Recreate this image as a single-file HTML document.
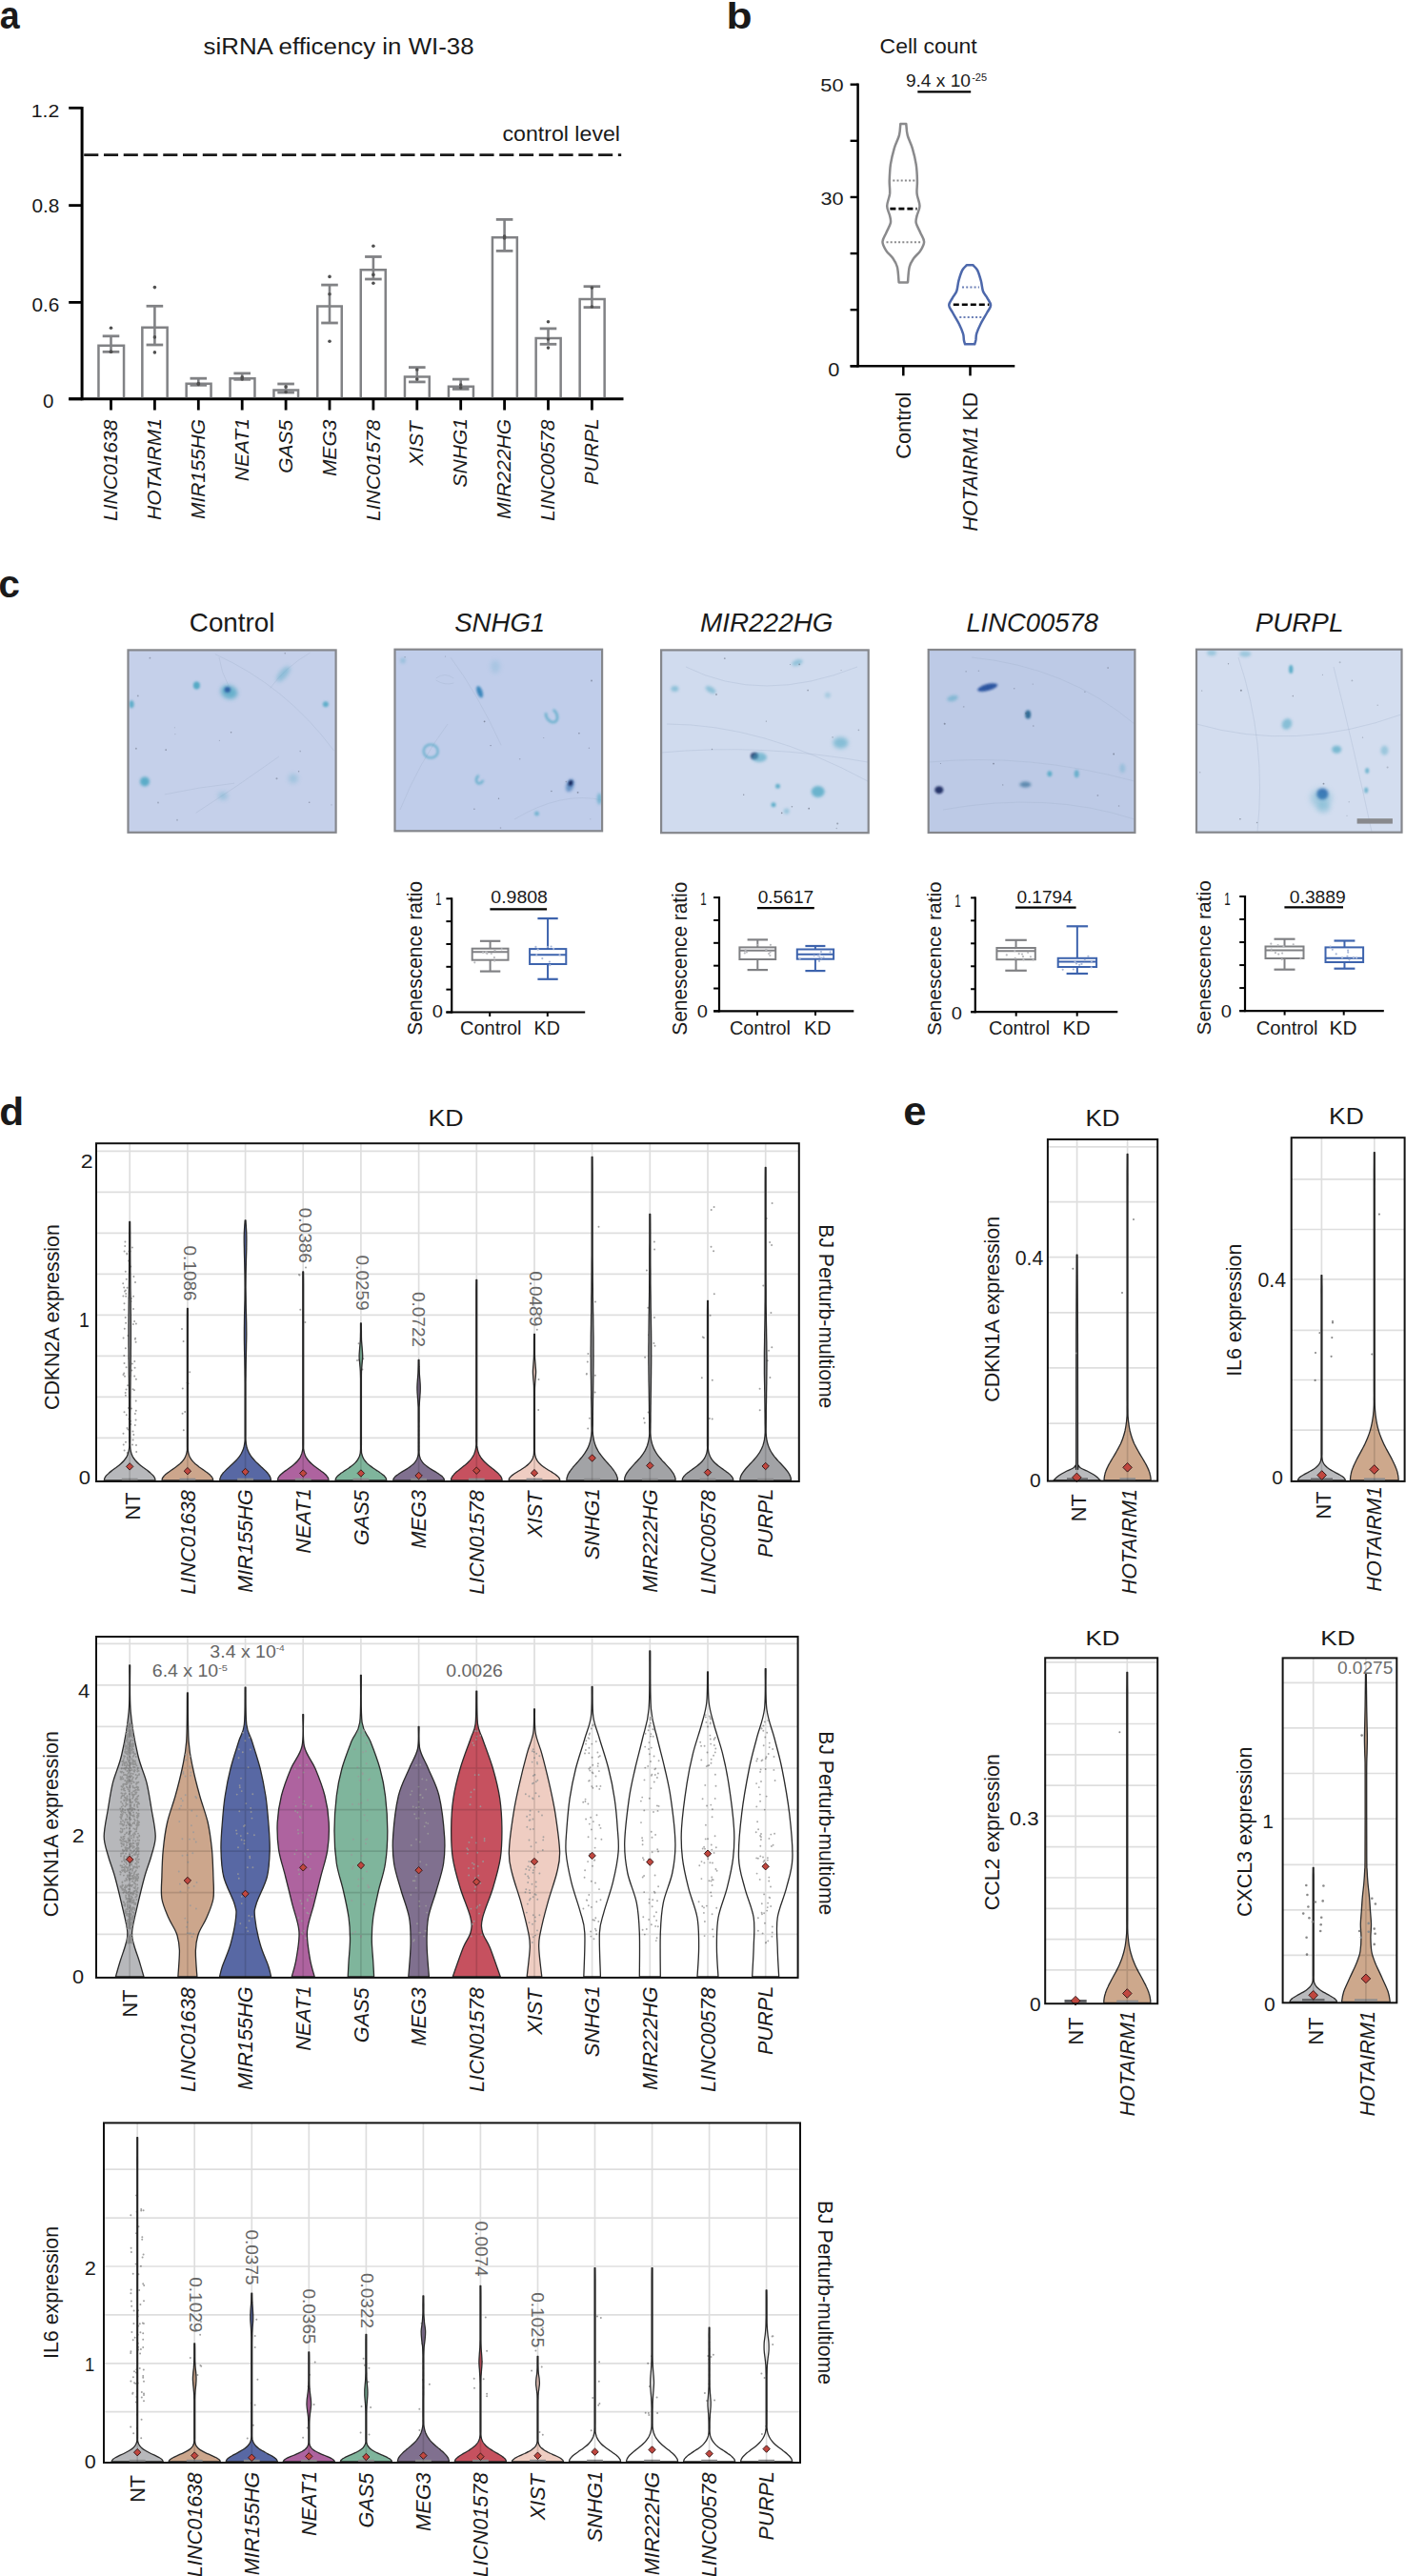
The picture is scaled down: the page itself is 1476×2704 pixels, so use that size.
<!DOCTYPE html>
<html><head><meta charset="utf-8"><style>
html,body{margin:0;padding:0;background:#fff;overflow:hidden;}
svg{display:block;font-family:"Liberation Sans",sans-serif;}
</style></head><body>
<svg width="1476" height="2704" viewBox="0 0 1476 2704">
<defs>
<filter id="b1p0" x="-50%" y="-50%" width="200%" height="200%"><feGaussianBlur stdDeviation="1.0"/></filter>
<filter id="b1p2" x="-50%" y="-50%" width="200%" height="200%"><feGaussianBlur stdDeviation="1.2"/></filter>
<filter id="b1p5" x="-50%" y="-50%" width="200%" height="200%"><feGaussianBlur stdDeviation="1.5"/></filter>
<filter id="b1p8" x="-50%" y="-50%" width="200%" height="200%"><feGaussianBlur stdDeviation="1.8"/></filter>
<filter id="b2p0" x="-50%" y="-50%" width="200%" height="200%"><feGaussianBlur stdDeviation="2.0"/></filter>
<filter id="b2p5" x="-50%" y="-50%" width="200%" height="200%"><feGaussianBlur stdDeviation="2.5"/></filter>
<filter id="b3" x="-50%" y="-50%" width="200%" height="200%"><feGaussianBlur stdDeviation="3"/></filter>
</defs>
<rect width="1476" height="2704" fill="#fff"/>
<text transform="translate(-0.13,29.59) scale(0.9139,1)" font-size="41.10" fill="#1a1a1a"><tspan font-weight="bold">a</tspan></text>
<text transform="translate(213.59,56.50) scale(1.0776,1)" font-size="24.00" fill="#1a1a1a"><tspan>siRNA efficency in WI-38</tspan></text>
<line x1="86.10" y1="112.00" x2="86.10" y2="420.20" stroke="#000" stroke-width="3" />
<line x1="72.20" y1="113.30" x2="86.10" y2="113.30" stroke="#000" stroke-width="2.8" />
<line x1="72.20" y1="215.60" x2="86.10" y2="215.60" stroke="#000" stroke-width="2.8" />
<line x1="72.20" y1="317.40" x2="86.10" y2="317.40" stroke="#000" stroke-width="2.8" />
<line x1="72.20" y1="418.80" x2="86.10" y2="418.80" stroke="#000" stroke-width="2.8" />
<text transform="translate(32.71,122.60) scale(1.1152,1)" font-size="19.07" fill="#1a1a1a"><tspan>1.2</tspan></text>
<text transform="translate(33.47,223.19) scale(0.9945,1)" font-size="20.92" fill="#1a1a1a"><tspan>0.8</tspan></text>
<text transform="translate(33.47,326.59) scale(0.9945,1)" font-size="20.92" fill="#1a1a1a"><tspan>0.6</tspan></text>
<text transform="translate(45.08,428.39) scale(0.9811,1)" font-size="20.92" fill="#1a1a1a"><tspan>0</tspan></text>
<line x1="72.20" y1="418.80" x2="654.50" y2="418.80" stroke="#000" stroke-width="3" />
<line x1="88.20" y1="162.60" x2="652.20" y2="162.60" stroke="#1a1a1a" stroke-width="2.7" stroke-dasharray="15.1 5.665"/>
<text transform="translate(527.42,147.80) scale(1.0563,1)" font-size="21.93" fill="#1a1a1a"><tspan>control level</tspan></text>
<path d="M103.45,417.30 V362.65 H130.05 V417.3" fill="none" stroke="#818285" stroke-width="2.5"/>
<line x1="116.50" y1="352.80" x2="116.50" y2="369.30" stroke="#818285" stroke-width="2.6" />
<line x1="107.70" y1="352.80" x2="125.30" y2="352.80" stroke="#818285" stroke-width="2.8" />
<line x1="107.70" y1="369.30" x2="125.30" y2="369.30" stroke="#818285" stroke-width="2.8" />
<circle cx="116.50" cy="344.30" r="1.8" fill="#505050"/>
<circle cx="116.50" cy="369.30" r="1.8" fill="#505050"/>
<circle cx="116.50" cy="369.30" r="1.8" fill="#505050"/>
<line x1="116.50" y1="418.80" x2="116.50" y2="430.50" stroke="#000" stroke-width="2.8" />
<path d="M149.35,417.30 V343.85 H175.65 V417.3" fill="none" stroke="#818285" stroke-width="2.5"/>
<line x1="162.40" y1="321.30" x2="162.40" y2="362.00" stroke="#818285" stroke-width="2.6" />
<line x1="153.60" y1="321.30" x2="171.20" y2="321.30" stroke="#818285" stroke-width="2.8" />
<line x1="153.60" y1="362.00" x2="171.20" y2="362.00" stroke="#818285" stroke-width="2.8" />
<circle cx="162.40" cy="301.60" r="1.8" fill="#505050"/>
<circle cx="162.40" cy="353.90" r="1.8" fill="#505050"/>
<circle cx="162.40" cy="369.90" r="1.8" fill="#505050"/>
<line x1="162.40" y1="418.80" x2="162.40" y2="430.50" stroke="#000" stroke-width="2.8" />
<path d="M195.65,417.30 V402.75 H221.55 V417.3" fill="none" stroke="#818285" stroke-width="2.5"/>
<line x1="208.30" y1="397.20" x2="208.30" y2="404.30" stroke="#818285" stroke-width="2.6" />
<line x1="199.50" y1="397.20" x2="217.10" y2="397.20" stroke="#818285" stroke-width="2.8" />
<line x1="199.50" y1="404.30" x2="217.10" y2="404.30" stroke="#818285" stroke-width="2.8" />
<circle cx="208.30" cy="403.50" r="1.8" fill="#505050"/>
<circle cx="208.30" cy="402.50" r="1.8" fill="#505050"/>
<line x1="208.30" y1="418.80" x2="208.30" y2="430.50" stroke="#000" stroke-width="2.8" />
<path d="M241.55,417.30 V397.35 H267.45 V417.3" fill="none" stroke="#818285" stroke-width="2.5"/>
<line x1="254.20" y1="391.90" x2="254.20" y2="398.30" stroke="#818285" stroke-width="2.6" />
<line x1="245.40" y1="391.90" x2="263.00" y2="391.90" stroke="#818285" stroke-width="2.8" />
<line x1="245.40" y1="398.30" x2="263.00" y2="398.30" stroke="#818285" stroke-width="2.8" />
<circle cx="254.20" cy="396.00" r="1.8" fill="#505050"/>
<circle cx="254.20" cy="398.00" r="1.8" fill="#505050"/>
<line x1="254.20" y1="418.80" x2="254.20" y2="430.50" stroke="#000" stroke-width="2.8" />
<path d="M287.45,417.30 V409.55 H313.05 V417.3" fill="none" stroke="#818285" stroke-width="2.5"/>
<line x1="300.10" y1="403.00" x2="300.10" y2="412.00" stroke="#818285" stroke-width="2.6" />
<line x1="291.30" y1="403.00" x2="308.90" y2="403.00" stroke="#818285" stroke-width="2.8" />
<line x1="291.30" y1="412.00" x2="308.90" y2="412.00" stroke="#818285" stroke-width="2.8" />
<circle cx="300.10" cy="406.00" r="1.8" fill="#505050"/>
<circle cx="300.10" cy="411.50" r="1.8" fill="#505050"/>
<line x1="300.10" y1="418.80" x2="300.10" y2="430.50" stroke="#000" stroke-width="2.8" />
<path d="M333.25,417.30 V321.55 H358.75 V417.3" fill="none" stroke="#818285" stroke-width="2.5"/>
<line x1="346.00" y1="299.10" x2="346.00" y2="339.00" stroke="#818285" stroke-width="2.6" />
<line x1="337.20" y1="299.10" x2="354.80" y2="299.10" stroke="#818285" stroke-width="2.8" />
<line x1="337.20" y1="339.00" x2="354.80" y2="339.00" stroke="#818285" stroke-width="2.8" />
<circle cx="346.00" cy="290.40" r="1.8" fill="#505050"/>
<circle cx="346.00" cy="308.80" r="1.8" fill="#505050"/>
<circle cx="346.00" cy="358.20" r="1.8" fill="#505050"/>
<line x1="346.00" y1="418.80" x2="346.00" y2="430.50" stroke="#000" stroke-width="2.8" />
<path d="M378.75,417.30 V283.25 H404.75 V417.3" fill="none" stroke="#818285" stroke-width="2.5"/>
<line x1="391.90" y1="269.50" x2="391.90" y2="293.00" stroke="#818285" stroke-width="2.6" />
<line x1="383.10" y1="269.50" x2="400.70" y2="269.50" stroke="#818285" stroke-width="2.8" />
<line x1="383.10" y1="293.00" x2="400.70" y2="293.00" stroke="#818285" stroke-width="2.8" />
<circle cx="391.90" cy="258.20" r="1.8" fill="#505050"/>
<circle cx="391.90" cy="288.40" r="1.8" fill="#505050"/>
<circle cx="391.90" cy="297.30" r="1.8" fill="#505050"/>
<line x1="391.90" y1="418.80" x2="391.90" y2="430.50" stroke="#000" stroke-width="2.8" />
<path d="M424.95,417.30 V395.55 H450.75 V417.3" fill="none" stroke="#818285" stroke-width="2.5"/>
<line x1="437.80" y1="385.60" x2="437.80" y2="400.90" stroke="#818285" stroke-width="2.6" />
<line x1="429.00" y1="385.60" x2="446.60" y2="385.60" stroke="#818285" stroke-width="2.8" />
<line x1="429.00" y1="400.90" x2="446.60" y2="400.90" stroke="#818285" stroke-width="2.8" />
<circle cx="437.80" cy="388.00" r="1.8" fill="#505050"/>
<circle cx="437.80" cy="398.00" r="1.8" fill="#505050"/>
<line x1="437.80" y1="418.80" x2="437.80" y2="430.50" stroke="#000" stroke-width="2.8" />
<path d="M470.95,417.30 V405.75 H496.95 V417.3" fill="none" stroke="#818285" stroke-width="2.5"/>
<line x1="483.70" y1="398.10" x2="483.70" y2="408.40" stroke="#818285" stroke-width="2.6" />
<line x1="474.90" y1="398.10" x2="492.50" y2="398.10" stroke="#818285" stroke-width="2.8" />
<line x1="474.90" y1="408.40" x2="492.50" y2="408.40" stroke="#818285" stroke-width="2.8" />
<circle cx="483.70" cy="404.00" r="1.8" fill="#505050"/>
<circle cx="483.70" cy="407.00" r="1.8" fill="#505050"/>
<line x1="483.70" y1="418.80" x2="483.70" y2="430.50" stroke="#000" stroke-width="2.8" />
<path d="M516.95,417.30 V249.15 H542.85 V417.3" fill="none" stroke="#818285" stroke-width="2.5"/>
<line x1="529.60" y1="230.40" x2="529.60" y2="263.40" stroke="#818285" stroke-width="2.6" />
<line x1="520.80" y1="230.40" x2="538.40" y2="230.40" stroke="#818285" stroke-width="2.8" />
<line x1="520.80" y1="263.40" x2="538.40" y2="263.40" stroke="#818285" stroke-width="2.8" />
<circle cx="529.60" cy="248.00" r="1.8" fill="#505050"/>
<circle cx="529.60" cy="250.00" r="1.8" fill="#505050"/>
<line x1="529.60" y1="418.80" x2="529.60" y2="430.50" stroke="#000" stroke-width="2.8" />
<path d="M562.65,417.30 V355.05 H588.65 V417.3" fill="none" stroke="#818285" stroke-width="2.5"/>
<line x1="575.50" y1="344.90" x2="575.50" y2="361.30" stroke="#818285" stroke-width="2.6" />
<line x1="566.70" y1="344.90" x2="584.30" y2="344.90" stroke="#818285" stroke-width="2.8" />
<line x1="566.70" y1="361.30" x2="584.30" y2="361.30" stroke="#818285" stroke-width="2.8" />
<circle cx="575.50" cy="337.80" r="1.8" fill="#505050"/>
<circle cx="575.50" cy="356.00" r="1.8" fill="#505050"/>
<circle cx="575.50" cy="365.10" r="1.8" fill="#505050"/>
<line x1="575.50" y1="418.80" x2="575.50" y2="430.50" stroke="#000" stroke-width="2.8" />
<path d="M608.65,417.30 V314.05 H634.65 V417.3" fill="none" stroke="#818285" stroke-width="2.5"/>
<line x1="621.40" y1="300.70" x2="621.40" y2="322.60" stroke="#818285" stroke-width="2.6" />
<line x1="612.60" y1="300.70" x2="630.20" y2="300.70" stroke="#818285" stroke-width="2.8" />
<line x1="612.60" y1="322.60" x2="630.20" y2="322.60" stroke="#818285" stroke-width="2.8" />
<circle cx="621.40" cy="302.00" r="1.8" fill="#505050"/>
<circle cx="621.40" cy="322.00" r="1.8" fill="#505050"/>
<line x1="621.40" y1="418.80" x2="621.40" y2="430.50" stroke="#000" stroke-width="2.8" />
<text transform="translate(123.10,546.90) rotate(-90)" font-size="21.00" fill="#1a1a1a"><tspan font-style="italic">LINC01638</tspan></text>
<text transform="translate(169.00,546.01) rotate(-90)" font-size="21.00" fill="#1a1a1a"><tspan font-style="italic">HOTAIRM1</tspan></text>
<text transform="translate(214.90,544.96) rotate(-90)" font-size="21.00" fill="#1a1a1a"><tspan font-style="italic">MIR155HG</tspan></text>
<text transform="translate(260.80,505.17) rotate(-90)" font-size="21.00" fill="#1a1a1a"><tspan font-style="italic">NEAT1</tspan></text>
<text transform="translate(306.70,496.87) rotate(-90)" font-size="21.00" fill="#1a1a1a"><tspan font-style="italic">GAS5</tspan></text>
<text transform="translate(352.60,500.12) rotate(-90)" font-size="21.00" fill="#1a1a1a"><tspan font-style="italic">MEG3</tspan></text>
<text transform="translate(398.50,546.90) rotate(-90)" font-size="21.00" fill="#1a1a1a"><tspan font-style="italic">LINC01578</tspan></text>
<text transform="translate(444.40,488.73) rotate(-90)" font-size="21.00" fill="#1a1a1a"><tspan font-style="italic">XIST</tspan></text>
<text transform="translate(490.30,511.41) rotate(-90)" font-size="21.00" fill="#1a1a1a"><tspan font-style="italic">SNHG1</tspan></text>
<text transform="translate(536.20,544.96) rotate(-90)" font-size="21.00" fill="#1a1a1a"><tspan font-style="italic">MIR222HG</tspan></text>
<text transform="translate(582.10,546.90) rotate(-90)" font-size="21.00" fill="#1a1a1a"><tspan font-style="italic">LINC00578</tspan></text>
<text transform="translate(628.00,509.31) rotate(-90)" font-size="21.00" fill="#1a1a1a"><tspan font-style="italic">PURPL</tspan></text>
<text transform="translate(762.42,29.52) scale(1.1685,1)" font-size="37.96" fill="#1a1a1a"><tspan font-weight="bold">b</tspan></text>
<text transform="translate(923.55,55.90) scale(1.0261,1)" font-size="22.40" fill="#1a1a1a"><tspan>Cell count</tspan></text>
<line x1="900.60" y1="87.50" x2="900.60" y2="385.50" stroke="#000" stroke-width="2.5" />
<line x1="892.60" y1="88.70" x2="900.60" y2="88.70" stroke="#000" stroke-width="2.4" />
<line x1="892.60" y1="147.82" x2="900.60" y2="147.82" stroke="#000" stroke-width="2.4" />
<line x1="892.60" y1="206.94" x2="900.60" y2="206.94" stroke="#000" stroke-width="2.4" />
<line x1="892.60" y1="266.06" x2="900.60" y2="266.06" stroke="#000" stroke-width="2.4" />
<line x1="892.60" y1="325.18" x2="900.60" y2="325.18" stroke="#000" stroke-width="2.4" />
<line x1="892.60" y1="384.30" x2="900.60" y2="384.30" stroke="#000" stroke-width="2.4" />
<line x1="892.60" y1="384.30" x2="1065.30" y2="384.30" stroke="#000" stroke-width="2.5" />
<line x1="948.30" y1="384.30" x2="948.30" y2="394.40" stroke="#000" stroke-width="2.5" />
<line x1="1018.50" y1="384.30" x2="1018.50" y2="394.40" stroke="#000" stroke-width="2.5" />
<text transform="translate(861.33,95.61) scale(1.1337,1)" font-size="19.22" fill="#1a1a1a"><tspan>50</tspan></text>
<text transform="translate(861.38,214.61) scale(1.1393,1)" font-size="19.08" fill="#1a1a1a"><tspan>30</tspan></text>
<text transform="translate(869.13,395.39) scale(1.0342,1)" font-size="21.06" fill="#1a1a1a"><tspan>0</tspan></text>
<text transform="translate(950.89,90.80) scale(1.0465,1)" font-size="18.30" fill="#1a1a1a"><tspan>9.4 x 10</tspan></text>
<text transform="translate(1020.20,84.80) scale(1.0308,1)" font-size="10.70" fill="#1a1a1a"><tspan>-25</tspan></text>
<line x1="963.30" y1="96.40" x2="1019.20" y2="96.40" stroke="#000" stroke-width="2.3" />
<path d="M951.3,130.0 C951.5,132.0 951.6,137.7 952.7,141.9 C953.7,146.2 956.3,150.5 957.8,155.6 C959.3,160.7 960.9,167.0 961.7,172.7 C962.6,178.4 962.8,184.6 962.9,189.7 C963.1,194.9 962.1,199.0 962.6,203.4 C963.0,207.8 965.5,212.4 965.5,216.2 C965.5,220.0 963.2,223.5 962.6,226.4 C961.9,229.4 961.1,231.1 961.7,234.1 C962.3,237.1 964.9,241.1 966.3,244.4 C967.7,247.6 970.1,250.6 970.1,253.8 C970.1,256.9 968.1,260.3 966.3,263.1 C964.6,266.0 961.4,268.0 959.5,270.8 C957.6,273.7 955.8,275.9 954.7,280.2 C953.6,284.5 953.3,293.7 953.0,296.4 L943.62,296.43 C943.3,293.7 943.0,284.5 941.9,280.2 C940.8,275.9 939.1,273.7 937.1,270.8 C935.2,268.0 932.1,266.0 930.3,263.1 C928.5,260.3 926.5,256.9 926.5,253.8 C926.5,250.6 928.9,247.6 930.3,244.4 C931.7,241.1 934.3,237.1 934.9,234.1 C935.5,231.1 934.7,229.4 934.1,226.4 C933.4,223.5 931.2,220.0 931.2,216.2 C931.2,212.4 933.6,207.8 934.1,203.4 C934.5,199.0 933.6,194.9 933.7,189.7 C933.9,184.6 934.1,178.4 934.9,172.7 C935.8,167.0 937.3,160.7 938.8,155.6 C940.3,150.5 942.9,146.2 944.0,141.9 C945.0,137.7 945.1,132.0 945.3,130.0 Z" fill="none" stroke="#8a8a8c" stroke-width="2.5" stroke-linejoin="round"/>
<path d="M1021.3,278.2 C1022.1,279.1 1024.6,280.9 1026.1,283.6 C1027.5,286.4 1028.8,291.0 1029.8,294.7 C1030.8,298.4 1031.0,302.8 1032.0,305.8 C1033.1,308.8 1035.0,310.2 1036.3,312.6 C1037.6,315.1 1040.1,317.8 1040.1,320.3 C1040.1,322.9 1038.1,324.7 1036.3,328.0 C1034.5,331.3 1031.3,336.3 1029.5,340.0 C1027.6,343.7 1026.1,347.4 1025.2,350.2 C1024.4,353.0 1024.7,355.2 1024.4,357.0 C1024.0,358.9 1023.4,360.6 1023.2,361.3 L1013.10,361.30 C1012.9,360.6 1012.2,358.9 1011.9,357.0 C1011.6,355.2 1011.9,353.0 1011.0,350.2 C1010.2,347.4 1008.6,343.7 1006.8,340.0 C1004.9,336.3 1001.7,331.3 1000.0,328.0 C998.2,324.7 996.2,322.9 996.2,320.3 C996.2,317.8 998.6,315.1 1000.0,312.6 C1001.3,310.2 1003.1,308.8 1004.2,305.8 C1005.3,302.8 1005.4,298.4 1006.4,294.7 C1007.4,291.0 1008.8,286.4 1010.2,283.6 C1011.6,280.9 1014.2,279.1 1015.0,278.2 Z" fill="none" stroke="#4d68ab" stroke-width="2.5" stroke-linejoin="round"/>
<line x1="937.30" y1="189.40" x2="961.50" y2="189.40" stroke="#8a8a8c" stroke-width="2" stroke-dasharray="2 2.2"/>
<line x1="934.40" y1="219.10" x2="962.60" y2="219.10" stroke="#000" stroke-width="2.6" stroke-dasharray="6 3"/>
<line x1="930.50" y1="254.30" x2="968.00" y2="254.30" stroke="#8a8a8c" stroke-width="2" stroke-dasharray="2 2.2"/>
<line x1="1010.00" y1="301.50" x2="1028.00" y2="301.50" stroke="#6b7fb6" stroke-width="2" stroke-dasharray="2 2.2"/>
<line x1="1000.80" y1="319.80" x2="1038.40" y2="319.80" stroke="#000" stroke-width="2.6" stroke-dasharray="6 3"/>
<line x1="1007.30" y1="333.10" x2="1030.50" y2="333.10" stroke="#6b7fb6" stroke-width="2" stroke-dasharray="2 2.2"/>
<text transform="translate(955.60,481.79) rotate(-90) scale(0.9705,1)" font-size="22.45" fill="#1a1a1a"><tspan>Control</tspan></text>
<text transform="translate(1026.00,557.65) rotate(-90) scale(0.9737,1)" font-size="22.22" fill="#1a1a1a"><tspan font-style="italic">HOTAIRM1</tspan><tspan> KD</tspan></text>
<text transform="translate(-1.63,626.59) scale(0.9845,1)" font-size="41.46" fill="#1a1a1a"><tspan font-weight="bold">c</tspan></text>
<text transform="translate(198.81,662.90)" font-size="27.80" fill="#1a1a1a"><tspan>Control</tspan></text>
<text transform="translate(477.14,662.90) scale(0.9934,1)" font-size="27.80" fill="#1a1a1a"><tspan font-style="italic">SNHG1</tspan></text>
<text transform="translate(734.96,662.90) scale(1.0040,1)" font-size="27.80" fill="#1a1a1a"><tspan font-style="italic">MIR222HG</tspan></text>
<text transform="translate(1014.38,662.90) scale(0.9855,1)" font-size="27.80" fill="#1a1a1a"><tspan font-style="italic">LINC00578</tspan></text>
<text transform="translate(1317.66,662.90)" font-size="27.80" fill="#1a1a1a"><tspan font-style="italic">PURPL</tspan></text>
<clipPath id="clip1"><rect x="134.5" y="682.4" width="218.1" height="191.4"/></clipPath>
<g clip-path="url(#clip1)">
<rect x="134.50" y="682.40" width="218.10" height="191.40" fill="#c5d0ea" stroke="none" stroke-width="1" />
<path d="M225.9,686.7 Q300.0,720.0 350.5,787.9" fill="none" stroke="#9fb0c8" stroke-width="0.8" opacity="0.4"/>
<path d="M325.6,685.1 Q300.0,700.0 283.5,722.5" fill="none" stroke="#9fb0c8" stroke-width="0.8" opacity="0.4"/>
<path d="M292.9,794.1 Q250.0,825.0 205.7,853.3" fill="none" stroke="#9fb0c8" stroke-width="0.8" opacity="0.4"/>
<path d="M172.9,833.9 Q210.0,826.0 246.1,822.2" fill="none" stroke="#9fb0c8" stroke-width="0.8" opacity="0.4"/>
<path d="M230.0,690.0 Q232.0,705.0 240.0,720.0" fill="none" stroke="#9fb0c8" stroke-width="0.8" opacity="0.4"/>
<ellipse cx="206.4" cy="719.6" rx="3.5" ry="4.0" fill="#4aa6c2" opacity="0.9" filter="url(#b1p2)"/>
<ellipse cx="240.5" cy="726.5" rx="9.0" ry="7.0" fill="#4aa6c2" opacity="0.75" filter="url(#b2p0)" transform="rotate(20 240.5 726.5)"/>
<ellipse cx="238.8" cy="724.0" rx="3.2" ry="3.0" fill="#1f4a9a" opacity="0.75" filter="url(#b1p2)"/>
<ellipse cx="297.5" cy="707.5" rx="4.0" ry="10.0" fill="#4aa6c2" opacity="0.45" filter="url(#b2p0)" transform="rotate(40 297.5 707.5)"/>
<ellipse cx="341.9" cy="739.3" rx="3.0" ry="3.0" fill="#4aa6c2" opacity="0.8" filter="url(#b1p2)"/>
<ellipse cx="138.1" cy="739.3" rx="2.5" ry="4.0" fill="#4aa6c2" opacity="0.8" filter="url(#b1p2)"/>
<ellipse cx="152.0" cy="820.4" rx="5.0" ry="5.0" fill="#4aa6c2" opacity="0.85" filter="url(#b1p8)"/>
<ellipse cx="307.8" cy="817.2" rx="5.0" ry="5.0" fill="#4aa6c2" opacity="0.3" filter="url(#b2p5)"/>
<ellipse cx="234.1" cy="835.4" rx="5.0" ry="4.0" fill="#4aa6c2" opacity="0.35" filter="url(#b2p5)"/>
<circle cx="166.0" cy="842.5" r="0.9" fill="#4a5060" opacity="0.33"/>
<circle cx="242.6" cy="768.7" r="0.8" fill="#4a5060" opacity="0.49"/>
<circle cx="157.4" cy="690.7" r="0.9" fill="#4a5060" opacity="0.38"/>
<circle cx="299.2" cy="685.8" r="0.7" fill="#4a5060" opacity="0.47"/>
<circle cx="186.0" cy="860.7" r="1.0" fill="#4a5060" opacity="0.26"/>
<circle cx="142.9" cy="785.8" r="1.0" fill="#4a5060" opacity="0.36"/>
<circle cx="183.4" cy="763.7" r="0.5" fill="#4a5060" opacity="0.32"/>
<circle cx="230.4" cy="777.3" r="0.6" fill="#4a5060" opacity="0.32"/>
<circle cx="183.9" cy="770.6" r="0.6" fill="#4a5060" opacity="0.26"/>
<circle cx="315.2" cy="788.6" r="0.8" fill="#4a5060" opacity="0.31"/>
<circle cx="348.0" cy="844.8" r="0.6" fill="#4a5060" opacity="0.35"/>
<circle cx="290.5" cy="817.3" r="1.0" fill="#4a5060" opacity="0.38"/>
<circle cx="313.6" cy="809.7" r="0.7" fill="#4a5060" opacity="0.43"/>
<circle cx="324.7" cy="842.3" r="0.8" fill="#4a5060" opacity="0.43"/>
<circle cx="144.8" cy="730.4" r="0.9" fill="#4a5060" opacity="0.37"/>
<circle cx="174.2" cy="787.1" r="0.9" fill="#4a5060" opacity="0.45"/>
</g>
<rect x="134.50" y="682.40" width="218.10" height="191.40" fill="none" stroke="#85878c" stroke-width="2.2" />
<clipPath id="clip2"><rect x="414.5" y="681.7" width="217.6" height="190.6"/></clipPath>
<g clip-path="url(#clip2)">
<rect x="414.50" y="681.70" width="217.60" height="190.60" fill="#c0cdea" stroke="none" stroke-width="1" />
<path d="M473.2,690.3 Q501.2,727.7 526.1,782.2" fill="none" stroke="#9fb0c8" stroke-width="0.8" opacity="0.4"/>
<path d="M420.0,850.0 Q440.0,800.0 470.0,760.0" fill="none" stroke="#9fb0c8" stroke-width="0.8" opacity="0.4"/>
<path d="M540.0,860.0 Q590.0,830.0 633.0,840.0" fill="none" stroke="#9fb0c8" stroke-width="0.8" opacity="0.4"/>
<path d="M457.6,712.0 Q467.0,705.0 476.3,712.0" fill="none" stroke="#9fb0c8" stroke-width="0.8" opacity="0.4"/>
<path d="M457.6,714.0 Q467.0,720.0 476.3,717.0" fill="none" stroke="#9fb0c8" stroke-width="0.8" opacity="0.4"/>
<ellipse cx="503.6" cy="726.2" rx="2.8" ry="6.5" fill="#2f80b8" opacity="0.9" filter="url(#b1p0)" transform="rotate(-20 503.6 726.2)"/>
<ellipse cx="598.4" cy="824.5" rx="4.0" ry="7.0" fill="#2d70b0" opacity="0.6" filter="url(#b1p5)" transform="rotate(20 598.4 824.5)"/>
<ellipse cx="599.0" cy="822.0" rx="2.2" ry="3.0" fill="#101e55" opacity="0.95" filter="url(#b1p0)" transform="rotate(20 599.0 822.0)"/>
<ellipse cx="629.3" cy="838.5" rx="2.5" ry="6.0" fill="#4aa6c2" opacity="0.6" filter="url(#b1p5)"/>
<ellipse cx="563.5" cy="853.9" rx="2.5" ry="2.5" fill="#4aa6c2" opacity="0.6" filter="url(#b1p2)"/>
<ellipse cx="520.0" cy="699.7" rx="5.0" ry="7.0" fill="#4aa6c2" opacity="0.2" filter="url(#b2p5)"/>
<ellipse cx="423.0" cy="693.5" rx="3.0" ry="3.0" fill="#4aa6c2" opacity="0.3" filter="url(#b1p5)"/>
<circle cx="619.8" cy="859.7" r="0.5" fill="#4a5060" opacity="0.28"/>
<circle cx="594.3" cy="820.6" r="0.8" fill="#4a5060" opacity="0.34"/>
<circle cx="545.7" cy="796.7" r="0.8" fill="#4a5060" opacity="0.30"/>
<circle cx="508.6" cy="757.3" r="0.9" fill="#4a5060" opacity="0.55"/>
<circle cx="618.4" cy="785.2" r="0.7" fill="#4a5060" opacity="0.33"/>
<circle cx="425.1" cy="689.8" r="0.7" fill="#4a5060" opacity="0.35"/>
<circle cx="497.9" cy="849.3" r="0.8" fill="#4a5060" opacity="0.42"/>
<circle cx="467.5" cy="689.1" r="0.7" fill="#4a5060" opacity="0.29"/>
<circle cx="525.5" cy="869.1" r="0.8" fill="#4a5060" opacity="0.30"/>
<circle cx="606.6" cy="831.8" r="0.9" fill="#4a5060" opacity="0.52"/>
<circle cx="578.9" cy="830.5" r="0.7" fill="#4a5060" opacity="0.54"/>
<circle cx="621.0" cy="714.5" r="0.9" fill="#4a5060" opacity="0.46"/>
<circle cx="515.1" cy="782.6" r="0.7" fill="#4a5060" opacity="0.53"/>
<circle cx="523.5" cy="838.2" r="0.7" fill="#4a5060" opacity="0.51"/>
<circle cx="607.9" cy="769.8" r="0.8" fill="#4a5060" opacity="0.53"/>
<circle cx="570.7" cy="774.5" r="0.6" fill="#4a5060" opacity="0.35"/>
</g>
<rect x="414.50" y="681.70" width="217.60" height="190.60" fill="none" stroke="#85878c" stroke-width="2.2" />
<ellipse cx="579.1" cy="751.1" rx="5.5" ry="7.5" fill="none" stroke="#4aa6c2" stroke-width="2.6" opacity="0.7" stroke-dasharray="26 10" filter="url(#b1p2)" transform="rotate(-30 579.1 751.1)"/>
<ellipse cx="452.2" cy="788.5" rx="7.5" ry="7.0" fill="none" stroke="#4aa6c2" stroke-width="2.6" opacity="0.6" filter="url(#b1p2)"/>
<ellipse cx="503.6" cy="818.1" rx="3.5" ry="4.5" fill="none" stroke="#4aa6c2" stroke-width="2.4" opacity="0.75" stroke-dasharray="16 8" filter="url(#b1p0)" transform="rotate(20 503.6 818.1)"/>
<clipPath id="clip3"><rect x="694.1" y="682.4" width="217.6" height="191.8"/></clipPath>
<g clip-path="url(#clip3)">
<rect x="694.10" y="682.40" width="217.60" height="191.80" fill="#d0dbee" stroke="none" stroke-width="1" />
<path d="M694.0,790.0 Q800.0,780.0 911.0,800.0" fill="none" stroke="#9fb0c8" stroke-width="0.8" opacity="0.4"/>
<path d="M700.0,760.0 Q800.0,760.0 911.0,820.0" fill="none" stroke="#9fb0c8" stroke-width="0.8" opacity="0.4"/>
<path d="M720.0,700.0 Q800.0,740.0 900.0,700.0" fill="none" stroke="#9fb0c8" stroke-width="0.8" opacity="0.4"/>
<ellipse cx="708.4" cy="722.9" rx="4.0" ry="3.0" fill="#4aa6c2" opacity="0.5" filter="url(#b1p8)"/>
<ellipse cx="746.0" cy="724.0" rx="6.0" ry="3.0" fill="#4aa6c2" opacity="0.5" filter="url(#b1p8)" transform="rotate(30 746.0 724.0)"/>
<ellipse cx="837.0" cy="695.6" rx="6.0" ry="3.0" fill="#4aa6c2" opacity="0.45" filter="url(#b1p8)" transform="rotate(-20 837.0 695.6)"/>
<ellipse cx="792.0" cy="793.4" rx="4.0" ry="3.5" fill="#101e55" opacity="0.85" filter="url(#b1p2)"/>
<ellipse cx="797.0" cy="795.0" rx="8.0" ry="5.0" fill="#4aa6c2" opacity="0.6" filter="url(#b1p8)"/>
<ellipse cx="882.5" cy="779.8" rx="8.0" ry="6.0" fill="#4aa6c2" opacity="0.55" filter="url(#b2p0)"/>
<ellipse cx="858.7" cy="831.0" rx="7.0" ry="6.0" fill="#4aa6c2" opacity="0.75" filter="url(#b1p8)"/>
<ellipse cx="816.5" cy="825.3" rx="2.5" ry="2.5" fill="#4aa6c2" opacity="0.8" filter="url(#b1p0)"/>
<ellipse cx="812.0" cy="844.7" rx="2.5" ry="2.5" fill="#4aa6c2" opacity="0.8" filter="url(#b1p0)"/>
<ellipse cx="825.7" cy="851.5" rx="3.0" ry="3.0" fill="#4aa6c2" opacity="0.4" filter="url(#b1p5)"/>
<ellipse cx="868.9" cy="729.7" rx="3.0" ry="3.0" fill="#4aa6c2" opacity="0.3" filter="url(#b1p5)"/>
<circle cx="747.5" cy="786.5" r="0.7" fill="#4a5060" opacity="0.43"/>
<circle cx="829.5" cy="697.6" r="0.5" fill="#4a5060" opacity="0.50"/>
<circle cx="752.0" cy="728.9" r="1.0" fill="#4a5060" opacity="0.39"/>
<circle cx="874.1" cy="773.9" r="0.8" fill="#4a5060" opacity="0.30"/>
<circle cx="831.4" cy="846.7" r="0.8" fill="#4a5060" opacity="0.47"/>
<circle cx="839.2" cy="697.3" r="0.9" fill="#4a5060" opacity="0.43"/>
<circle cx="760.8" cy="691.2" r="0.9" fill="#4a5060" opacity="0.39"/>
<circle cx="849.2" cy="848.7" r="0.9" fill="#4a5060" opacity="0.53"/>
<circle cx="780.7" cy="834.2" r="0.7" fill="#4a5060" opacity="0.53"/>
<circle cx="883.1" cy="703.5" r="0.6" fill="#4a5060" opacity="0.32"/>
<circle cx="901.4" cy="766.4" r="0.8" fill="#4a5060" opacity="0.34"/>
<circle cx="804.4" cy="757.1" r="0.7" fill="#4a5060" opacity="0.43"/>
<circle cx="820.7" cy="853.4" r="0.8" fill="#4a5060" opacity="0.53"/>
<circle cx="878.3" cy="869.5" r="0.8" fill="#4a5060" opacity="0.30"/>
<circle cx="879.2" cy="864.6" r="1.0" fill="#4a5060" opacity="0.42"/>
<circle cx="848.1" cy="724.6" r="0.9" fill="#4a5060" opacity="0.42"/>
</g>
<rect x="694.10" y="682.40" width="217.60" height="191.80" fill="none" stroke="#85878c" stroke-width="2.2" />
<clipPath id="clip4"><rect x="974.7" y="682.0" width="216.7" height="192.0"/></clipPath>
<g clip-path="url(#clip4)">
<rect x="974.70" y="682.00" width="216.70" height="192.00" fill="#bdcae6" stroke="none" stroke-width="1" />
<path d="M975.0,800.0 Q1080.0,790.0 1191.0,820.0" fill="none" stroke="#9fb0c8" stroke-width="0.8" opacity="0.4"/>
<path d="M1020.0,690.0 Q1120.0,700.0 1191.0,760.0" fill="none" stroke="#9fb0c8" stroke-width="0.8" opacity="0.4"/>
<path d="M990.0,850.0 Q1100.0,830.0 1191.0,860.0" fill="none" stroke="#9fb0c8" stroke-width="0.8" opacity="0.4"/>
<ellipse cx="1036.7" cy="721.6" rx="11.0" ry="3.5" fill="#1f4a9a" opacity="0.9" filter="url(#b1p2)" transform="rotate(-15 1036.7 721.6)"/>
<ellipse cx="1000.0" cy="733.0" rx="6.0" ry="3.0" fill="#4aa6c2" opacity="0.5" filter="url(#b1p8)" transform="rotate(-15 1000.0 733.0)"/>
<ellipse cx="1079.2" cy="749.9" rx="3.0" ry="4.5" fill="#1d5e8a" opacity="0.85" filter="url(#b1p2)"/>
<ellipse cx="985.8" cy="829.2" rx="4.5" ry="4.0" fill="#101e55" opacity="0.85" filter="url(#b1p2)"/>
<ellipse cx="1076.4" cy="823.5" rx="6.0" ry="3.0" fill="#1d5e8a" opacity="0.6" filter="url(#b1p5)"/>
<ellipse cx="1101.9" cy="812.2" rx="2.5" ry="3.0" fill="#4aa6c2" opacity="0.8" filter="url(#b1p2)"/>
<ellipse cx="1130.2" cy="812.2" rx="2.5" ry="4.0" fill="#4aa6c2" opacity="0.7" filter="url(#b1p2)"/>
<ellipse cx="1178.3" cy="806.5" rx="3.0" ry="5.0" fill="#4aa6c2" opacity="0.3" filter="url(#b1p8)"/>
<circle cx="1027.4" cy="704.2" r="0.7" fill="#4a5060" opacity="0.30"/>
<circle cx="991.7" cy="759.7" r="1.0" fill="#4a5060" opacity="0.49"/>
<circle cx="1138.9" cy="726.3" r="0.8" fill="#4a5060" opacity="0.33"/>
<circle cx="1014.1" cy="704.8" r="0.6" fill="#4a5060" opacity="0.53"/>
<circle cx="1152.4" cy="835.0" r="0.9" fill="#4a5060" opacity="0.31"/>
<circle cx="1043.0" cy="801.6" r="0.9" fill="#4a5060" opacity="0.51"/>
<circle cx="1163.1" cy="701.1" r="0.8" fill="#4a5060" opacity="0.45"/>
<circle cx="1084.3" cy="718.1" r="0.7" fill="#4a5060" opacity="0.28"/>
<circle cx="1174.6" cy="846.0" r="0.8" fill="#4a5060" opacity="0.34"/>
<circle cx="1169.2" cy="791.5" r="0.9" fill="#4a5060" opacity="0.50"/>
<circle cx="1084.8" cy="762.0" r="0.8" fill="#4a5060" opacity="0.38"/>
<circle cx="1011.7" cy="741.8" r="0.9" fill="#4a5060" opacity="0.26"/>
<circle cx="987.5" cy="801.5" r="0.6" fill="#4a5060" opacity="0.41"/>
<circle cx="1077.0" cy="748.8" r="1.0" fill="#4a5060" opacity="0.31"/>
<circle cx="1064.7" cy="722.7" r="0.8" fill="#4a5060" opacity="0.33"/>
<circle cx="1052.7" cy="823.9" r="0.7" fill="#4a5060" opacity="0.42"/>
</g>
<rect x="974.70" y="682.00" width="216.70" height="192.00" fill="none" stroke="#85878c" stroke-width="2.2" />
<clipPath id="clip5"><rect x="1256.0" y="681.7" width="215.5" height="192.0"/></clipPath>
<g clip-path="url(#clip5)">
<rect x="1256.00" y="681.70" width="215.50" height="192.00" fill="#d3ddef" stroke="none" stroke-width="1" />
<path d="M1256.0,760.0 Q1360.0,790.0 1471.0,750.0" fill="none" stroke="#9fb0c8" stroke-width="0.8" opacity="0.4"/>
<path d="M1300.0,690.0 Q1330.0,780.0 1320.0,873.0" fill="none" stroke="#9fb0c8" stroke-width="0.8" opacity="0.4"/>
<path d="M1400.0,700.0 Q1420.0,780.0 1440.0,873.0" fill="none" stroke="#9fb0c8" stroke-width="0.8" opacity="0.4"/>
<ellipse cx="1355.2" cy="702.4" rx="2.2" ry="4.5" fill="#4aa6c2" opacity="0.85" filter="url(#b1p0)"/>
<ellipse cx="1351.0" cy="760.0" rx="5.0" ry="6.0" fill="#4aa6c2" opacity="0.55" filter="url(#b1p8)" transform="rotate(30 1351.0 760.0)"/>
<ellipse cx="1403.2" cy="786.7" rx="5.0" ry="4.0" fill="#4aa6c2" opacity="0.65" filter="url(#b1p5)"/>
<ellipse cx="1453.4" cy="787.7" rx="4.0" ry="5.0" fill="#4aa6c2" opacity="0.4" filter="url(#b1p8)"/>
<ellipse cx="1435.2" cy="809.1" rx="2.0" ry="3.0" fill="#4aa6c2" opacity="0.7" filter="url(#b1p0)"/>
<ellipse cx="1434.2" cy="829.4" rx="2.0" ry="3.0" fill="#4aa6c2" opacity="0.7" filter="url(#b1p0)"/>
<ellipse cx="1388.3" cy="833.6" rx="6.0" ry="6.0" fill="#1e55a8" opacity="0.85" filter="url(#b1p8)"/>
<ellipse cx="1387.0" cy="838.0" rx="11.0" ry="10.0" fill="#4aa6c2" opacity="0.35" filter="url(#b3)"/>
<ellipse cx="1389.4" cy="847.5" rx="7.0" ry="6.0" fill="#4aa6c2" opacity="0.3" filter="url(#b2p5)"/>
<ellipse cx="1272.0" cy="685.3" rx="5.0" ry="3.0" fill="#4aa6c2" opacity="0.4" filter="url(#b1p8)"/>
<ellipse cx="1307.2" cy="686.4" rx="6.0" ry="3.0" fill="#4aa6c2" opacity="0.4" filter="url(#b1p8)"/>
<circle cx="1389.5" cy="822.7" r="0.9" fill="#4a5060" opacity="0.53"/>
<circle cx="1414.0" cy="856.3" r="0.5" fill="#4a5060" opacity="0.39"/>
<circle cx="1456.6" cy="805.4" r="1.0" fill="#4a5060" opacity="0.28"/>
<circle cx="1357.3" cy="730.6" r="0.8" fill="#4a5060" opacity="0.42"/>
<circle cx="1261.7" cy="725.0" r="0.6" fill="#4a5060" opacity="0.52"/>
<circle cx="1419.4" cy="714.4" r="0.9" fill="#4a5060" opacity="0.29"/>
<circle cx="1388.4" cy="708.3" r="0.5" fill="#4a5060" opacity="0.51"/>
<circle cx="1302.9" cy="724.8" r="1.0" fill="#4a5060" opacity="0.51"/>
<circle cx="1319.6" cy="863.5" r="0.8" fill="#4a5060" opacity="0.45"/>
<circle cx="1301.9" cy="859.7" r="0.8" fill="#4a5060" opacity="0.54"/>
<circle cx="1446.2" cy="740.3" r="0.7" fill="#4a5060" opacity="0.30"/>
<circle cx="1289.5" cy="696.8" r="0.7" fill="#4a5060" opacity="0.43"/>
<circle cx="1259.7" cy="810.8" r="0.7" fill="#4a5060" opacity="0.34"/>
<circle cx="1430.5" cy="774.1" r="0.7" fill="#4a5060" opacity="0.39"/>
<circle cx="1406.6" cy="695.3" r="1.0" fill="#4a5060" opacity="0.26"/>
<circle cx="1416.1" cy="841.8" r="0.5" fill="#4a5060" opacity="0.49"/>
</g>
<rect x="1256.00" y="681.70" width="215.50" height="192.00" fill="none" stroke="#85878c" stroke-width="2.2" />
<rect x="1424.60" y="859.20" width="37.30" height="5.40" fill="#88898d" stroke="none" stroke-width="1" />
<line x1="474.20" y1="942.30" x2="474.20" y2="1063.60" stroke="#000" stroke-width="2.2" />
<line x1="468.40" y1="943.30" x2="474.20" y2="943.30" stroke="#000" stroke-width="2.0" />
<line x1="468.40" y1="967.14" x2="474.20" y2="967.14" stroke="#000" stroke-width="2.0" />
<line x1="468.40" y1="990.98" x2="474.20" y2="990.98" stroke="#000" stroke-width="2.0" />
<line x1="468.40" y1="1014.82" x2="474.20" y2="1014.82" stroke="#000" stroke-width="2.0" />
<line x1="468.40" y1="1038.66" x2="474.20" y2="1038.66" stroke="#000" stroke-width="2.0" />
<line x1="468.40" y1="1062.50" x2="474.20" y2="1062.50" stroke="#000" stroke-width="2.0" />
<line x1="468.40" y1="1062.50" x2="614.20" y2="1062.50" stroke="#000" stroke-width="2.2" />
<line x1="514.20" y1="1062.50" x2="514.20" y2="1067.00" stroke="#000" stroke-width="2.0" />
<line x1="574.80" y1="1062.50" x2="574.80" y2="1067.00" stroke="#000" stroke-width="2.0" />
<text transform="translate(457.27,949.90) scale(0.5780,1)" font-size="19.20" fill="#1a1a1a"><tspan>1</tspan></text>
<text transform="translate(453.80,1067.72) scale(1.0942,1)" font-size="18.37" fill="#1a1a1a"><tspan>0</tspan></text>
<text transform="translate(515.32,947.80) scale(1.0370,1)" font-size="18.80" fill="#1a1a1a"><tspan>0.9808</tspan></text>
<line x1="514.40" y1="954.30" x2="574.10" y2="954.30" stroke="#000" stroke-width="2.2" />
<line x1="514.60" y1="987.80" x2="514.60" y2="995.70" stroke="#808184" stroke-width="2.0" />
<line x1="514.60" y1="1007.70" x2="514.60" y2="1019.60" stroke="#808184" stroke-width="2.0" />
<line x1="503.90" y1="987.80" x2="525.30" y2="987.80" stroke="#808184" stroke-width="2.2" />
<line x1="503.90" y1="1019.60" x2="525.30" y2="1019.60" stroke="#808184" stroke-width="2.2" />
<rect x="495.70" y="995.70" width="37.80" height="12.00" fill="#fff" stroke="#808184" stroke-width="2.0" />
<line x1="495.70" y1="999.20" x2="533.50" y2="999.20" stroke="#808184" stroke-width="2.0" />
<circle cx="518.9" cy="1005.1" r="1.1" fill="#b8b9bd"/>
<circle cx="519.2" cy="1008.6" r="1.1" fill="#b8b9bd"/>
<circle cx="498.3" cy="1010.3" r="1.1" fill="#b8b9bd"/>
<circle cx="519.5" cy="997.6" r="1.1" fill="#b8b9bd"/>
<circle cx="507.1" cy="999.8" r="1.1" fill="#b8b9bd"/>
<circle cx="526.7" cy="996.3" r="1.1" fill="#b8b9bd"/>
<circle cx="511.1" cy="999.9" r="1.1" fill="#b8b9bd"/>
<circle cx="515.8" cy="1001.0" r="1.1" fill="#b8b9bd"/>
<circle cx="511.3" cy="1001.0" r="1.1" fill="#b8b9bd"/>
<circle cx="510.1" cy="999.4" r="1.1" fill="#b8b9bd"/>
<line x1="575.05" y1="964.10" x2="575.05" y2="996.10" stroke="#3d63ad" stroke-width="2.0" />
<line x1="575.05" y1="1012.00" x2="575.05" y2="1027.80" stroke="#3d63ad" stroke-width="2.0" />
<line x1="564.40" y1="964.10" x2="585.70" y2="964.10" stroke="#3d63ad" stroke-width="2.2" />
<line x1="564.40" y1="1027.80" x2="585.70" y2="1027.80" stroke="#3d63ad" stroke-width="2.2" />
<rect x="556.10" y="996.10" width="38.20" height="15.90" fill="#fff" stroke="#3d63ad" stroke-width="2.0" />
<line x1="556.10" y1="1002.20" x2="594.30" y2="1002.20" stroke="#3d63ad" stroke-width="2.0" />
<circle cx="564.7" cy="996.6" r="1.1" fill="#a9b8d8"/>
<circle cx="577.3" cy="1013.2" r="1.1" fill="#a9b8d8"/>
<circle cx="563.3" cy="1002.1" r="1.1" fill="#a9b8d8"/>
<circle cx="576.9" cy="1009.6" r="1.1" fill="#a9b8d8"/>
<circle cx="578.6" cy="993.5" r="1.1" fill="#a9b8d8"/>
<circle cx="562.4" cy="993.9" r="1.1" fill="#a9b8d8"/>
<circle cx="574.7" cy="994.0" r="1.1" fill="#a9b8d8"/>
<circle cx="581.2" cy="995.8" r="1.1" fill="#a9b8d8"/>
<circle cx="569.3" cy="1006.1" r="1.1" fill="#a9b8d8"/>
<circle cx="587.6" cy="1002.2" r="1.1" fill="#a9b8d8"/>
<text transform="translate(442.59,1086.64) rotate(-90) scale(0.9804,1)" font-size="21.36" fill="#1a1a1a"><tspan>Senescence ratio</tspan></text>
<text transform="translate(483.00,1086.30)" font-size="20.00" fill="#1a1a1a"><tspan>Control</tspan></text>
<text transform="translate(560.57,1086.30) scale(0.9881,1)" font-size="20.00" fill="#1a1a1a"><tspan>KD</tspan></text>
<line x1="755.00" y1="941.10" x2="755.00" y2="1062.50" stroke="#000" stroke-width="2.2" />
<line x1="749.10" y1="942.10" x2="755.00" y2="942.10" stroke="#000" stroke-width="2.0" />
<line x1="749.10" y1="965.96" x2="755.00" y2="965.96" stroke="#000" stroke-width="2.0" />
<line x1="749.10" y1="989.82" x2="755.00" y2="989.82" stroke="#000" stroke-width="2.0" />
<line x1="749.10" y1="1013.68" x2="755.00" y2="1013.68" stroke="#000" stroke-width="2.0" />
<line x1="749.10" y1="1037.54" x2="755.00" y2="1037.54" stroke="#000" stroke-width="2.0" />
<line x1="749.10" y1="1061.40" x2="755.00" y2="1061.40" stroke="#000" stroke-width="2.0" />
<line x1="749.10" y1="1061.40" x2="896.30" y2="1061.40" stroke="#000" stroke-width="2.2" />
<line x1="795.00" y1="1061.40" x2="795.00" y2="1065.90" stroke="#000" stroke-width="2.0" />
<line x1="856.00" y1="1061.40" x2="856.00" y2="1065.90" stroke="#000" stroke-width="2.0" />
<text transform="translate(735.13,949.70) scale(0.6114,1)" font-size="18.91" fill="#1a1a1a"><tspan>1</tspan></text>
<text transform="translate(731.80,1067.72) scale(1.0942,1)" font-size="18.37" fill="#1a1a1a"><tspan>0</tspan></text>
<text transform="translate(795.63,947.80) scale(1.0199,1)" font-size="18.80" fill="#1a1a1a"><tspan>0.5617</tspan></text>
<line x1="795.00" y1="953.10" x2="854.80" y2="953.10" stroke="#000" stroke-width="2.2" />
<line x1="795.30" y1="986.40" x2="795.30" y2="994.40" stroke="#808184" stroke-width="2.0" />
<line x1="795.30" y1="1007.00" x2="795.30" y2="1018.10" stroke="#808184" stroke-width="2.0" />
<line x1="784.60" y1="986.40" x2="806.00" y2="986.40" stroke="#808184" stroke-width="2.2" />
<line x1="784.60" y1="1018.10" x2="806.00" y2="1018.10" stroke="#808184" stroke-width="2.2" />
<rect x="776.40" y="994.40" width="37.80" height="12.60" fill="#fff" stroke="#808184" stroke-width="2.0" />
<line x1="776.40" y1="997.80" x2="814.20" y2="997.80" stroke="#808184" stroke-width="2.0" />
<circle cx="794.8" cy="991.8" r="1.1" fill="#b8b9bd"/>
<circle cx="783.9" cy="999.5" r="1.1" fill="#b8b9bd"/>
<circle cx="808.9" cy="991.8" r="1.1" fill="#b8b9bd"/>
<circle cx="782.6" cy="997.3" r="1.1" fill="#b8b9bd"/>
<circle cx="808.4" cy="1003.0" r="1.1" fill="#b8b9bd"/>
<circle cx="807.1" cy="1001.0" r="1.1" fill="#b8b9bd"/>
<circle cx="781.8" cy="1000.4" r="1.1" fill="#b8b9bd"/>
<circle cx="804.3" cy="996.8" r="1.1" fill="#b8b9bd"/>
<circle cx="808.6" cy="999.6" r="1.1" fill="#b8b9bd"/>
<circle cx="804.4" cy="997.0" r="1.1" fill="#b8b9bd"/>
<line x1="855.90" y1="993.00" x2="855.90" y2="996.50" stroke="#3d63ad" stroke-width="2.0" />
<line x1="855.90" y1="1006.70" x2="855.90" y2="1019.10" stroke="#3d63ad" stroke-width="2.0" />
<line x1="845.40" y1="993.00" x2="866.40" y2="993.00" stroke="#3d63ad" stroke-width="2.2" />
<line x1="845.40" y1="1019.10" x2="866.40" y2="1019.10" stroke="#3d63ad" stroke-width="2.2" />
<rect x="836.80" y="996.50" width="38.30" height="10.20" fill="#fff" stroke="#3d63ad" stroke-width="2.0" />
<line x1="836.80" y1="1001.80" x2="875.10" y2="1001.80" stroke="#3d63ad" stroke-width="2.0" />
<circle cx="860.0" cy="1008.9" r="1.1" fill="#a9b8d8"/>
<circle cx="864.6" cy="1004.9" r="1.1" fill="#a9b8d8"/>
<circle cx="871.6" cy="999.4" r="1.1" fill="#a9b8d8"/>
<circle cx="862.0" cy="999.0" r="1.1" fill="#a9b8d8"/>
<circle cx="858.9" cy="1003.1" r="1.1" fill="#a9b8d8"/>
<circle cx="854.6" cy="1003.1" r="1.1" fill="#a9b8d8"/>
<circle cx="862.3" cy="1005.7" r="1.1" fill="#a9b8d8"/>
<circle cx="860.7" cy="1002.3" r="1.1" fill="#a9b8d8"/>
<circle cx="860.4" cy="1005.0" r="1.1" fill="#a9b8d8"/>
<circle cx="839.6" cy="1006.4" r="1.1" fill="#a9b8d8"/>
<text transform="translate(721.09,1086.64) rotate(-90) scale(0.9824,1)" font-size="21.22" fill="#1a1a1a"><tspan>Senescence ratio</tspan></text>
<text transform="translate(765.91,1086.30) scale(0.9944,1)" font-size="20.00" fill="#1a1a1a"><tspan>Control</tspan></text>
<text transform="translate(844.12,1086.30) scale(1.0159,1)" font-size="20.00" fill="#1a1a1a"><tspan>KD</tspan></text>
<line x1="1023.80" y1="941.40" x2="1023.80" y2="1063.30" stroke="#000" stroke-width="2.2" />
<line x1="1019.10" y1="942.40" x2="1023.80" y2="942.40" stroke="#000" stroke-width="2.0" />
<line x1="1019.10" y1="966.36" x2="1023.80" y2="966.36" stroke="#000" stroke-width="2.0" />
<line x1="1019.10" y1="990.32" x2="1023.80" y2="990.32" stroke="#000" stroke-width="2.0" />
<line x1="1019.10" y1="1014.28" x2="1023.80" y2="1014.28" stroke="#000" stroke-width="2.0" />
<line x1="1019.10" y1="1038.24" x2="1023.80" y2="1038.24" stroke="#000" stroke-width="2.0" />
<line x1="1019.10" y1="1062.20" x2="1023.80" y2="1062.20" stroke="#000" stroke-width="2.0" />
<line x1="1019.10" y1="1062.20" x2="1173.30" y2="1062.20" stroke="#000" stroke-width="2.2" />
<line x1="1066.70" y1="1062.20" x2="1066.70" y2="1066.70" stroke="#000" stroke-width="2.0" />
<line x1="1130.70" y1="1062.20" x2="1130.70" y2="1066.70" stroke="#000" stroke-width="2.0" />
<text transform="translate(1002.13,951.80) scale(0.6067,1)" font-size="19.05" fill="#1a1a1a"><tspan>1</tspan></text>
<text transform="translate(998.80,1069.71) scale(1.0776,1)" font-size="18.66" fill="#1a1a1a"><tspan>0</tspan></text>
<text transform="translate(1067.44,947.80) scale(1.0158,1)" font-size="18.80" fill="#1a1a1a"><tspan>0.1794</tspan></text>
<line x1="1066.00" y1="952.70" x2="1129.60" y2="952.70" stroke="#000" stroke-width="2.2" />
<line x1="1066.55" y1="986.80" x2="1066.55" y2="995.00" stroke="#808184" stroke-width="2.0" />
<line x1="1066.55" y1="1007.20" x2="1066.55" y2="1018.80" stroke="#808184" stroke-width="2.0" />
<line x1="1055.30" y1="986.80" x2="1077.80" y2="986.80" stroke="#808184" stroke-width="2.2" />
<line x1="1055.30" y1="1018.80" x2="1077.80" y2="1018.80" stroke="#808184" stroke-width="2.2" />
<rect x="1046.40" y="995.00" width="40.40" height="12.20" fill="#fff" stroke="#808184" stroke-width="2.0" />
<line x1="1046.40" y1="998.20" x2="1086.80" y2="998.20" stroke="#808184" stroke-width="2.0" />
<circle cx="1081.9" cy="1004.3" r="1.1" fill="#b8b9bd"/>
<circle cx="1084.7" cy="1007.6" r="1.1" fill="#b8b9bd"/>
<circle cx="1074.0" cy="1004.2" r="1.1" fill="#b8b9bd"/>
<circle cx="1079.1" cy="999.8" r="1.1" fill="#b8b9bd"/>
<circle cx="1065.7" cy="1005.8" r="1.1" fill="#b8b9bd"/>
<circle cx="1065.3" cy="997.9" r="1.1" fill="#b8b9bd"/>
<circle cx="1074.5" cy="1007.4" r="1.1" fill="#b8b9bd"/>
<circle cx="1073.0" cy="1001.6" r="1.1" fill="#b8b9bd"/>
<circle cx="1069.7" cy="1001.2" r="1.1" fill="#b8b9bd"/>
<circle cx="1056.8" cy="1002.4" r="1.1" fill="#b8b9bd"/>
<line x1="1130.85" y1="972.30" x2="1130.85" y2="1005.80" stroke="#3d63ad" stroke-width="2.0" />
<line x1="1130.85" y1="1015.00" x2="1130.85" y2="1022.00" stroke="#3d63ad" stroke-width="2.0" />
<line x1="1119.60" y1="972.30" x2="1142.10" y2="972.30" stroke="#3d63ad" stroke-width="2.2" />
<line x1="1119.60" y1="1022.00" x2="1142.10" y2="1022.00" stroke="#3d63ad" stroke-width="2.2" />
<rect x="1110.70" y="1005.80" width="40.40" height="9.20" fill="#fff" stroke="#3d63ad" stroke-width="2.0" />
<line x1="1110.70" y1="1009.60" x2="1151.10" y2="1009.60" stroke="#3d63ad" stroke-width="2.0" />
<circle cx="1126.8" cy="1017.5" r="1.1" fill="#a9b8d8"/>
<circle cx="1135.5" cy="1011.9" r="1.1" fill="#a9b8d8"/>
<circle cx="1145.7" cy="1015.3" r="1.1" fill="#a9b8d8"/>
<circle cx="1133.2" cy="1012.8" r="1.1" fill="#a9b8d8"/>
<circle cx="1115.7" cy="1017.8" r="1.1" fill="#a9b8d8"/>
<circle cx="1142.4" cy="1003.9" r="1.1" fill="#a9b8d8"/>
<circle cx="1145.9" cy="1009.1" r="1.1" fill="#a9b8d8"/>
<circle cx="1128.6" cy="1009.4" r="1.1" fill="#a9b8d8"/>
<circle cx="1138.8" cy="1008.1" r="1.1" fill="#a9b8d8"/>
<circle cx="1130.0" cy="1011.5" r="1.1" fill="#a9b8d8"/>
<text transform="translate(987.60,1086.94) rotate(-90) scale(1.0262,1)" font-size="20.41" fill="#1a1a1a"><tspan>Senescence ratio</tspan></text>
<text transform="translate(1038.00,1086.30) scale(0.9960,1)" font-size="20.00" fill="#1a1a1a"><tspan>Control</tspan></text>
<text transform="translate(1115.48,1086.30) scale(1.0437,1)" font-size="20.00" fill="#1a1a1a"><tspan>KD</tspan></text>
<line x1="1307.00" y1="940.00" x2="1307.00" y2="1062.20" stroke="#000" stroke-width="2.2" />
<line x1="1301.20" y1="941.00" x2="1307.00" y2="941.00" stroke="#000" stroke-width="2.0" />
<line x1="1301.20" y1="965.02" x2="1307.00" y2="965.02" stroke="#000" stroke-width="2.0" />
<line x1="1301.20" y1="989.04" x2="1307.00" y2="989.04" stroke="#000" stroke-width="2.0" />
<line x1="1301.20" y1="1013.06" x2="1307.00" y2="1013.06" stroke="#000" stroke-width="2.0" />
<line x1="1301.20" y1="1037.08" x2="1307.00" y2="1037.08" stroke="#000" stroke-width="2.0" />
<line x1="1301.20" y1="1061.10" x2="1307.00" y2="1061.10" stroke="#000" stroke-width="2.0" />
<line x1="1301.20" y1="1061.10" x2="1452.80" y2="1061.10" stroke="#000" stroke-width="2.2" />
<line x1="1348.60" y1="1061.10" x2="1348.60" y2="1065.60" stroke="#000" stroke-width="2.0" />
<line x1="1410.70" y1="1061.10" x2="1410.70" y2="1065.60" stroke="#000" stroke-width="2.0" />
<text transform="translate(1285.13,949.70) scale(0.6114,1)" font-size="18.91" fill="#1a1a1a"><tspan>1</tspan></text>
<text transform="translate(1281.80,1067.72) scale(1.0942,1)" font-size="18.37" fill="#1a1a1a"><tspan>0</tspan></text>
<text transform="translate(1353.83,947.80) scale(1.0254,1)" font-size="18.80" fill="#1a1a1a"><tspan>0.3889</tspan></text>
<line x1="1348.40" y1="952.30" x2="1410.00" y2="952.30" stroke="#000" stroke-width="2.2" />
<line x1="1348.50" y1="985.70" x2="1348.50" y2="993.50" stroke="#808184" stroke-width="2.0" />
<line x1="1348.50" y1="1006.00" x2="1348.50" y2="1017.70" stroke="#808184" stroke-width="2.0" />
<line x1="1337.50" y1="985.70" x2="1359.50" y2="985.70" stroke="#808184" stroke-width="2.2" />
<line x1="1337.50" y1="1017.70" x2="1359.50" y2="1017.70" stroke="#808184" stroke-width="2.2" />
<rect x="1328.50" y="993.50" width="40.00" height="12.50" fill="#fff" stroke="#808184" stroke-width="2.0" />
<line x1="1328.50" y1="997.50" x2="1368.50" y2="997.50" stroke="#808184" stroke-width="2.0" />
<circle cx="1338.9" cy="1000.2" r="1.1" fill="#b8b9bd"/>
<circle cx="1342.2" cy="1001.6" r="1.1" fill="#b8b9bd"/>
<circle cx="1357.7" cy="991.3" r="1.1" fill="#b8b9bd"/>
<circle cx="1334.3" cy="990.7" r="1.1" fill="#b8b9bd"/>
<circle cx="1345.8" cy="1007.1" r="1.1" fill="#b8b9bd"/>
<circle cx="1341.6" cy="992.2" r="1.1" fill="#b8b9bd"/>
<circle cx="1334.7" cy="996.7" r="1.1" fill="#b8b9bd"/>
<circle cx="1346.1" cy="1000.6" r="1.1" fill="#b8b9bd"/>
<circle cx="1365.4" cy="1006.3" r="1.1" fill="#b8b9bd"/>
<circle cx="1347.5" cy="993.2" r="1.1" fill="#b8b9bd"/>
<line x1="1411.45" y1="987.50" x2="1411.45" y2="994.40" stroke="#3d63ad" stroke-width="2.0" />
<line x1="1411.45" y1="1010.00" x2="1411.45" y2="1016.70" stroke="#3d63ad" stroke-width="2.0" />
<line x1="1400.50" y1="987.50" x2="1422.40" y2="987.50" stroke="#3d63ad" stroke-width="2.2" />
<line x1="1400.50" y1="1016.70" x2="1422.40" y2="1016.70" stroke="#3d63ad" stroke-width="2.2" />
<rect x="1391.50" y="994.40" width="39.60" height="15.60" fill="#fff" stroke="#3d63ad" stroke-width="2.0" />
<line x1="1391.50" y1="1005.80" x2="1431.10" y2="1005.80" stroke="#3d63ad" stroke-width="2.0" />
<circle cx="1396.6" cy="993.5" r="1.1" fill="#a9b8d8"/>
<circle cx="1414.4" cy="1003.8" r="1.1" fill="#a9b8d8"/>
<circle cx="1402.7" cy="1001.4" r="1.1" fill="#a9b8d8"/>
<circle cx="1415.2" cy="999.7" r="1.1" fill="#a9b8d8"/>
<circle cx="1424.1" cy="1005.5" r="1.1" fill="#a9b8d8"/>
<circle cx="1398.8" cy="996.8" r="1.1" fill="#a9b8d8"/>
<circle cx="1416.5" cy="1007.6" r="1.1" fill="#a9b8d8"/>
<circle cx="1420.9" cy="1005.2" r="1.1" fill="#a9b8d8"/>
<circle cx="1409.0" cy="1005.3" r="1.1" fill="#a9b8d8"/>
<circle cx="1415.1" cy="997.7" r="1.1" fill="#a9b8d8"/>
<text transform="translate(1270.79,1086.45) rotate(-90) scale(1.0092,1)" font-size="20.82" fill="#1a1a1a"><tspan>Senescence ratio</tspan></text>
<text transform="translate(1318.69,1086.30) scale(1.0072,1)" font-size="20.00" fill="#1a1a1a"><tspan>Control</tspan></text>
<text transform="translate(1395.48,1086.30) scale(1.0437,1)" font-size="20.00" fill="#1a1a1a"><tspan>KD</tspan></text>
<text transform="translate(-0.70,1181.19) scale(1.0417,1)" font-size="40.68" fill="#1a1a1a"><tspan font-weight="bold">d</tspan></text>
<text transform="translate(449.39,1182.00) scale(1.1212,1)" font-size="23.85" fill="#1a1a1a"><tspan>KD</tspan></text>
<path d="M135.5 1425.9h0M142.1 1404.8h0M136.3 1432.2h0M131.8 1415.2h0M138.0 1478.4h0M130.5 1368.3h0M130.5 1482.2h0M138.9 1309.4h0M143.0 1517.1h0M138.4 1438.5h0M131.4 1303.4h0M136.6 1313.4h0M131.9 1354.4h0M129.6 1404.4h0M135.4 1489.5h0M136.5 1444.1h0M136.2 1449.1h0M135.6 1362.6h0M143.2 1524.0h0M141.0 1459.3h0M133.6 1351.7h0M133.2 1315.8h0M139.9 1390.1h0M141.1 1387.0h0M142.6 1490.6h0M129.2 1347.2h0M141.9 1405.7h0M142.9 1389.4h0M130.2 1441.6h0M140.1 1360.7h0M130.4 1374.8h0M142.7 1470.6h0M130.9 1355.4h0M130.6 1313.5h0M140.4 1340.0h0M137.0 1400.7h0M131.9 1464.7h0M131.0 1444.8h0M130.8 1394.7h0M132.2 1360.7h0M142.8 1480.8h0M133.5 1499.1h0M132.1 1388.7h0M141.2 1444.4h0M130.6 1522.6h0M132.2 1358.1h0M140.0 1374.0h0M133.3 1316.5h0M130.5 1431.1h0M132.6 1435.3h0M134.4 1402.0h0M142.6 1408.8h0M137.2 1495.0h0M131.8 1334.7h0M141.9 1484.0h0M132.7 1342.7h0M139.6 1511.6h0M132.0 1513.8h0M141.6 1435.8h0M135.1 1323.4h0M129.7 1516.6h0M132.5 1458.5h0M132.8 1485.3h0M137.6 1366.0h0M131.7 1462.1h0M130.2 1351.4h0M137.0 1491.8h0M137.8 1363.0h0M142.0 1345.9h0M129.4 1360.6h0M135.4 1313.6h0M131.7 1383.0h0M137.2 1329.6h0M134.3 1500.5h0M142.9 1447.8h0M138.9 1431.5h0M131.2 1307.9h0M129.5 1504.8h0M139.0 1516.6h0M129.5 1443.1h0M136.0 1464.4h0M133.7 1524.9h0M130.3 1422.9h0M139.5 1502.5h0M139.5 1458.3h0M140.3 1505.9h0M134.1 1454.2h0M141.8 1496.0h0M135.0 1477.9h0M141.3 1428.9h0" stroke="#8f8f8f" stroke-width="2.0" stroke-linecap="round" opacity="0.85" fill="none"/>
<path d="M196.6 1451.5h0M198.9 1348.5h0M191.0 1395.0h0M194.2 1482.1h0M199.2 1440.3h0M197.6 1452.3h0M192.6 1408.0h0M192.8 1501.2h0M191.6 1483.8h0M191.8 1457.4h0" stroke="#8f8f8f" stroke-width="2.0" stroke-linecap="round" opacity="0.85" fill="none"/>
<path d="M315.3 1374.8h0M320.4 1387.9h0M314.5 1338.4h0M314.0 1338.0h0M321.0 1330.4h0" stroke="#8f8f8f" stroke-width="2.0" stroke-linecap="round" opacity="0.85" fill="none"/>
<path d="M375.0 1428.1h0M380.4 1437.6h0M376.6 1410.2h0M381.3 1426.3h0M376.9 1427.4h0" stroke="#8f8f8f" stroke-width="2.0" stroke-linecap="round" opacity="0.85" fill="none"/>
<path d="M566.5 1381.2h0M563.8 1395.8h0M566.8 1381.7h0M565.5 1448.1h0M565.2 1480.0h0" stroke="#8f8f8f" stroke-width="2.0" stroke-linecap="round" opacity="0.85" fill="none"/>
<path d="M624.6 1461.6h0M617.2 1499.6h0M617.4 1421.0h0M615.9 1441.9h0M616.8 1429.6h0M624.8 1443.8h0M620.8 1467.8h0M628.5 1287.7h0M621.9 1490.0h0M625.0 1366.6h0M618.9 1488.7h0M615.8 1442.5h0" stroke="#8f8f8f" stroke-width="2.0" stroke-linecap="round" opacity="0.85" fill="none"/>
<path d="M680.6 1482.4h0M687.1 1311.4h0M687.5 1412.8h0M675.9 1488.7h0M678.9 1333.4h0M681.3 1401.2h0M677.1 1424.8h0M687.0 1383.0h0M686.4 1410.0h0M686.9 1303.4h0M680.3 1372.7h0M676.8 1493.5h0" stroke="#8f8f8f" stroke-width="2.0" stroke-linecap="round" opacity="0.85" fill="none"/>
<path d="M746.5 1308.7h0M738.9 1404.2h0M736.8 1446.3h0M746.7 1270.0h0M745.6 1380.7h0M744.9 1488.9h0M749.8 1358.2h0M747.8 1448.7h0M749.6 1266.9h0M749.1 1313.3h0M737.8 1403.4h0M747.7 1489.6h0" stroke="#8f8f8f" stroke-width="2.0" stroke-linecap="round" opacity="0.85" fill="none"/>
<path d="M805.8 1428.3h0M810.1 1307.1h0M797.6 1457.8h0M801.3 1349.4h0M808.1 1304.0h0M809.4 1377.9h0M797.7 1480.3h0M804.7 1278.9h0M808.4 1446.0h0M807.0 1417.8h0M810.6 1262.9h0M810.3 1414.3h0" stroke="#8f8f8f" stroke-width="2.0" stroke-linecap="round" opacity="0.85" fill="none"/>
<path d="M136.6,1282.5 C136.6,1285.0 136.7,1292.5 136.7,1297.4 C136.7,1302.3 136.7,1307.1 136.7,1311.8 C136.7,1316.6 136.8,1321.2 136.8,1325.8 C136.8,1330.5 136.8,1335.0 136.9,1339.5 C136.9,1343.9 137.0,1348.3 137.0,1352.7 C137.1,1357.0 137.1,1361.2 137.2,1365.4 C137.2,1369.6 137.3,1373.7 137.3,1377.8 C137.3,1381.8 137.4,1385.8 137.4,1389.7 C137.4,1393.6 137.4,1397.5 137.4,1401.2 C137.4,1405.0 137.4,1408.7 137.4,1412.3 C137.3,1416.0 137.3,1419.5 137.3,1423.0 C137.3,1426.5 137.2,1429.9 137.2,1433.3 C137.1,1436.6 137.1,1439.9 137.1,1443.1 C137.0,1446.3 137.0,1449.5 137.0,1452.5 C136.9,1455.6 136.9,1458.6 136.9,1461.5 C136.9,1464.5 136.8,1467.3 136.8,1470.1 C136.8,1472.9 136.8,1475.6 136.8,1478.3 C136.7,1481.0 136.7,1483.5 136.7,1486.1 C136.7,1488.6 136.7,1491.0 136.7,1493.4 C136.7,1495.8 136.7,1498.1 136.7,1500.3 C136.7,1502.5 136.7,1504.7 136.7,1506.8 C136.7,1508.9 136.7,1510.9 136.7,1512.9 C136.7,1514.8 136.5,1516.7 136.7,1518.5 C136.8,1520.3 137.0,1522.1 137.4,1523.7 C137.8,1525.4 138.3,1527.0 139.1,1528.6 C139.9,1530.1 140.9,1531.6 142.1,1533.0 C143.3,1534.4 144.7,1535.7 146.1,1536.9 C147.6,1538.2 149.2,1539.4 150.6,1540.5 C152.1,1541.6 153.6,1542.7 154.8,1543.6 C156.1,1544.6 157.3,1545.5 158.2,1546.4 C159.2,1547.2 160.0,1548.0 160.6,1548.7 C161.2,1549.4 161.6,1550.0 162.0,1550.5 C162.3,1551.1 162.5,1551.6 162.7,1552.0 C162.8,1552.4 162.9,1552.8 162.9,1553.1 C163.0,1553.3 163.0,1553.6 163.0,1553.7 C163.0,1553.8 163.0,1553.9 163.0,1553.9 L109.40,1553.90 C109.4,1553.9 109.4,1553.8 109.4,1553.7 C109.4,1553.6 109.4,1553.3 109.5,1553.1 C109.5,1552.8 109.6,1552.4 109.7,1552.0 C109.9,1551.6 110.1,1551.1 110.4,1550.5 C110.8,1550.0 111.2,1549.4 111.8,1548.7 C112.4,1548.0 113.2,1547.2 114.2,1546.4 C115.1,1545.5 116.3,1544.6 117.6,1543.6 C118.8,1542.7 120.3,1541.6 121.8,1540.5 C123.2,1539.4 124.8,1538.2 126.3,1536.9 C127.7,1535.7 129.1,1534.4 130.3,1533.0 C131.5,1531.6 132.5,1530.1 133.3,1528.6 C134.1,1527.0 134.6,1525.4 135.0,1523.7 C135.4,1522.1 135.6,1520.3 135.7,1518.5 C135.9,1516.7 135.7,1514.8 135.7,1512.9 C135.7,1510.9 135.7,1508.9 135.7,1506.8 C135.7,1504.7 135.7,1502.5 135.7,1500.3 C135.7,1498.1 135.7,1495.8 135.7,1493.4 C135.7,1491.0 135.7,1488.6 135.7,1486.1 C135.7,1483.5 135.7,1481.0 135.6,1478.3 C135.6,1475.6 135.6,1472.9 135.6,1470.1 C135.6,1467.3 135.5,1464.5 135.5,1461.5 C135.5,1458.6 135.5,1455.6 135.4,1452.5 C135.4,1449.5 135.4,1446.3 135.3,1443.1 C135.3,1439.9 135.3,1436.6 135.2,1433.3 C135.2,1429.9 135.1,1426.5 135.1,1423.0 C135.1,1419.5 135.1,1416.0 135.0,1412.3 C135.0,1408.7 135.0,1405.0 135.0,1401.2 C135.0,1397.5 135.0,1393.6 135.0,1389.7 C135.0,1385.8 135.1,1381.8 135.1,1377.8 C135.1,1373.7 135.2,1369.6 135.2,1365.4 C135.3,1361.2 135.3,1357.0 135.4,1352.7 C135.4,1348.3 135.5,1343.9 135.5,1339.5 C135.6,1335.0 135.6,1330.5 135.6,1325.8 C135.6,1321.2 135.7,1316.6 135.7,1311.8 C135.7,1307.1 135.7,1302.3 135.7,1297.4 C135.7,1292.5 135.8,1285.0 135.8,1282.5 Z" fill="#b7b8bb" stroke="#2a2a2a" stroke-width="1.3" stroke-linejoin="round"/>
<line x1="127.80" y1="1552.70" x2="144.60" y2="1552.70" stroke="#8d8d8f" stroke-width="2.0" />
<path d="M197.3,1373.5 C197.3,1375.1 197.3,1380.1 197.3,1383.4 C197.3,1386.6 197.3,1389.8 197.3,1393.0 C197.3,1396.1 197.3,1399.3 197.3,1402.3 C197.3,1405.4 197.3,1408.4 197.3,1411.4 C197.3,1414.3 197.3,1417.3 197.3,1420.1 C197.3,1423.0 197.3,1425.8 197.3,1428.6 C197.3,1431.4 197.3,1434.1 197.3,1436.8 C197.3,1439.5 197.3,1442.2 197.3,1444.8 C197.3,1447.4 197.3,1449.9 197.3,1452.4 C197.3,1454.9 197.3,1457.4 197.3,1459.8 C197.3,1462.2 197.3,1464.6 197.3,1466.9 C197.3,1469.2 197.3,1471.5 197.3,1473.7 C197.3,1475.9 197.3,1478.1 197.3,1480.3 C197.3,1482.4 197.3,1484.5 197.3,1486.5 C197.3,1488.6 197.3,1490.6 197.3,1492.5 C197.3,1494.5 197.3,1496.4 197.3,1498.2 C197.3,1500.1 197.3,1501.9 197.3,1503.6 C197.3,1505.4 197.3,1507.1 197.3,1508.8 C197.3,1510.5 197.3,1512.1 197.3,1513.7 C197.3,1515.2 197.3,1516.8 197.3,1518.3 C197.3,1519.8 197.3,1521.2 197.4,1522.6 C197.6,1524.0 197.8,1525.3 198.2,1526.6 C198.6,1527.9 199.1,1529.2 199.8,1530.4 C200.5,1531.6 201.3,1532.7 202.3,1533.9 C203.2,1535.0 204.3,1536.0 205.5,1537.1 C206.7,1538.1 208.0,1539.1 209.2,1540.0 C210.5,1540.9 211.8,1541.8 213.0,1542.6 C214.2,1543.5 215.4,1544.2 216.4,1545.0 C217.4,1545.7 218.3,1546.4 219.1,1547.1 C219.9,1547.7 220.6,1548.3 221.1,1548.9 C221.7,1549.4 222.1,1550.0 222.4,1550.4 C222.8,1550.9 223.0,1551.3 223.2,1551.7 C223.3,1552.0 223.4,1552.4 223.5,1552.6 C223.6,1552.9 223.6,1553.2 223.6,1553.3 C223.7,1553.5 223.7,1553.7 223.7,1553.8 C223.7,1553.9 223.7,1553.9 223.7,1553.9 L170.08,1553.90 C170.1,1553.9 170.1,1553.9 170.1,1553.8 C170.1,1553.7 170.1,1553.5 170.1,1553.3 C170.1,1553.2 170.2,1552.9 170.2,1552.6 C170.3,1552.4 170.4,1552.0 170.6,1551.7 C170.8,1551.3 171.0,1550.9 171.3,1550.4 C171.7,1550.0 172.1,1549.4 172.6,1548.9 C173.2,1548.3 173.8,1547.7 174.6,1547.1 C175.4,1546.4 176.3,1545.7 177.4,1545.0 C178.4,1544.2 179.6,1543.5 180.8,1542.6 C182.0,1541.8 183.3,1540.9 184.5,1540.0 C185.8,1539.1 187.1,1538.1 188.3,1537.1 C189.4,1536.0 190.6,1535.0 191.5,1533.9 C192.5,1532.7 193.3,1531.6 194.0,1530.4 C194.6,1529.2 195.1,1527.9 195.5,1526.6 C195.9,1525.3 196.2,1524.0 196.4,1522.6 C196.5,1521.2 196.4,1519.8 196.4,1518.3 C196.4,1516.8 196.4,1515.2 196.4,1513.7 C196.4,1512.1 196.4,1510.5 196.4,1508.8 C196.4,1507.1 196.4,1505.4 196.4,1503.6 C196.4,1501.9 196.4,1500.1 196.4,1498.2 C196.4,1496.4 196.4,1494.5 196.4,1492.5 C196.4,1490.6 196.4,1488.6 196.4,1486.5 C196.4,1484.5 196.4,1482.4 196.4,1480.3 C196.4,1478.1 196.4,1475.9 196.4,1473.7 C196.4,1471.5 196.4,1469.2 196.4,1466.9 C196.4,1464.6 196.4,1462.2 196.4,1459.8 C196.4,1457.4 196.4,1454.9 196.4,1452.4 C196.4,1449.9 196.4,1447.4 196.4,1444.8 C196.4,1442.2 196.4,1439.5 196.4,1436.8 C196.4,1434.1 196.4,1431.4 196.4,1428.6 C196.4,1425.8 196.4,1423.0 196.4,1420.1 C196.4,1417.3 196.4,1414.3 196.4,1411.4 C196.4,1408.4 196.4,1405.4 196.4,1402.3 C196.4,1399.3 196.4,1396.1 196.4,1393.0 C196.4,1389.8 196.4,1386.6 196.4,1383.4 C196.4,1380.1 196.5,1375.1 196.5,1373.5 Z" fill="#cca68c" stroke="#2a2a2a" stroke-width="1.3" stroke-linejoin="round"/>
<line x1="188.48" y1="1552.70" x2="205.28" y2="1552.70" stroke="#8d8d8f" stroke-width="2.0" />
<path d="M258.0,1281.0 C258.1,1283.5 258.7,1291.0 258.8,1296.0 C259.0,1300.9 258.8,1305.7 258.8,1310.5 C258.7,1315.3 258.5,1320.0 258.4,1324.6 C258.3,1329.2 258.2,1333.8 258.1,1338.3 C258.1,1342.8 258.0,1347.2 258.0,1351.5 C258.1,1355.9 258.1,1360.2 258.2,1364.4 C258.2,1368.6 258.3,1372.7 258.4,1376.8 C258.5,1380.9 258.6,1384.9 258.7,1388.8 C258.7,1392.7 258.8,1396.6 258.8,1400.4 C258.8,1404.2 258.7,1407.9 258.6,1411.6 C258.6,1415.2 258.5,1418.8 258.4,1422.3 C258.3,1425.8 258.3,1429.2 258.2,1432.6 C258.2,1436.0 258.1,1439.3 258.1,1442.5 C258.1,1445.7 258.0,1448.9 258.0,1452.0 C258.0,1455.1 258.0,1458.1 258.0,1461.0 C258.0,1464.0 258.0,1466.9 258.0,1469.7 C258.0,1472.5 258.0,1475.2 258.0,1477.9 C258.0,1480.6 258.0,1483.1 258.0,1485.7 C258.0,1488.2 258.0,1490.7 258.0,1493.0 C258.0,1495.4 258.0,1497.7 258.0,1500.0 C258.0,1502.2 258.0,1504.4 258.0,1506.5 C258.0,1508.6 257.9,1510.7 258.1,1512.6 C258.2,1514.6 258.5,1516.5 258.9,1518.3 C259.4,1520.1 259.9,1521.9 260.7,1523.6 C261.4,1525.3 262.4,1526.9 263.4,1528.4 C264.5,1530.0 265.8,1531.4 267.1,1532.8 C268.3,1534.2 269.8,1535.6 271.1,1536.8 C272.5,1538.1 273.9,1539.3 275.1,1540.4 C276.3,1541.5 277.5,1542.6 278.5,1543.6 C279.4,1544.6 280.3,1545.5 281.0,1546.3 C281.7,1547.2 282.2,1547.9 282.7,1548.6 C283.1,1549.3 283.4,1550.0 283.7,1550.5 C283.9,1551.1 284.0,1551.6 284.1,1552.0 C284.2,1552.4 284.3,1552.8 284.3,1553.1 C284.4,1553.3 284.3,1553.5 284.4,1553.7 C284.4,1553.8 284.4,1553.9 284.4,1553.9 L230.76,1553.90 C230.8,1553.9 230.8,1553.8 230.8,1553.7 C230.8,1553.5 230.8,1553.3 230.8,1553.1 C230.8,1552.8 230.9,1552.4 231.0,1552.0 C231.1,1551.6 231.2,1551.1 231.5,1550.5 C231.7,1550.0 232.0,1549.3 232.4,1548.6 C232.9,1547.9 233.4,1547.2 234.1,1546.3 C234.8,1545.5 235.7,1544.6 236.7,1543.6 C237.7,1542.6 238.8,1541.5 240.0,1540.4 C241.3,1539.3 242.7,1538.1 244.0,1536.8 C245.3,1535.6 246.8,1534.2 248.1,1532.8 C249.3,1531.4 250.6,1530.0 251.7,1528.4 C252.8,1526.9 253.7,1525.3 254.4,1523.6 C255.2,1521.9 255.7,1520.1 256.2,1518.3 C256.6,1516.5 256.9,1514.6 257.1,1512.6 C257.2,1510.7 257.1,1508.6 257.1,1506.5 C257.1,1504.4 257.1,1502.2 257.1,1500.0 C257.1,1497.7 257.1,1495.4 257.1,1493.0 C257.1,1490.7 257.1,1488.2 257.1,1485.7 C257.1,1483.1 257.1,1480.6 257.1,1477.9 C257.1,1475.2 257.1,1472.5 257.1,1469.7 C257.1,1466.9 257.1,1464.0 257.1,1461.0 C257.1,1458.1 257.1,1455.1 257.1,1452.0 C257.1,1448.9 257.1,1445.7 257.0,1442.5 C257.0,1439.3 257.0,1436.0 256.9,1432.6 C256.9,1429.2 256.8,1425.8 256.7,1422.3 C256.6,1418.8 256.5,1415.2 256.5,1411.6 C256.4,1407.9 256.4,1404.2 256.4,1400.4 C256.4,1396.6 256.4,1392.7 256.5,1388.8 C256.5,1384.9 256.6,1380.9 256.7,1376.8 C256.8,1372.7 256.9,1368.6 257.0,1364.4 C257.0,1360.2 257.1,1355.9 257.1,1351.5 C257.1,1347.2 257.0,1342.8 257.0,1338.3 C256.9,1333.8 256.8,1329.2 256.7,1324.6 C256.6,1320.0 256.4,1315.3 256.4,1310.5 C256.3,1305.7 256.1,1300.9 256.3,1296.0 C256.4,1291.0 257.0,1283.5 257.2,1281.0 Z" fill="#5868a4" stroke="#2a2a2a" stroke-width="1.3" stroke-linejoin="round"/>
<line x1="249.16" y1="1552.70" x2="265.96" y2="1552.70" stroke="#8d8d8f" stroke-width="2.0" />
<path d="M318.6,1335.0 C318.6,1337.0 318.7,1343.1 318.7,1347.0 C318.7,1350.9 318.7,1354.8 318.7,1358.6 C318.7,1362.5 318.7,1366.2 318.7,1370.0 C318.7,1373.7 318.7,1377.3 318.7,1380.9 C318.7,1384.5 318.7,1388.1 318.7,1391.6 C318.7,1395.1 318.7,1398.5 318.7,1401.9 C318.7,1405.3 318.7,1408.6 318.7,1411.9 C318.7,1415.1 318.7,1418.3 318.7,1421.5 C318.7,1424.6 318.7,1427.7 318.7,1430.8 C318.7,1433.8 318.7,1436.8 318.7,1439.7 C318.7,1442.6 318.7,1445.5 318.7,1448.3 C318.7,1451.1 318.7,1453.9 318.7,1456.6 C318.7,1459.3 318.7,1462.0 318.7,1464.5 C318.7,1467.1 318.7,1469.7 318.7,1472.2 C318.7,1474.6 318.7,1477.0 318.7,1479.4 C318.7,1481.8 318.7,1484.1 318.7,1486.3 C318.7,1488.6 318.7,1490.8 318.7,1492.9 C318.7,1495.1 318.7,1497.1 318.7,1499.2 C318.7,1501.2 318.7,1503.2 318.7,1505.1 C318.7,1507.0 318.7,1508.9 318.7,1510.7 C318.7,1512.5 318.7,1514.2 318.7,1515.9 C318.7,1517.6 318.6,1519.2 318.7,1520.8 C318.9,1522.4 319.2,1523.9 319.6,1525.4 C320.0,1526.8 320.6,1528.2 321.3,1529.6 C322.1,1530.9 323.0,1532.2 324.1,1533.5 C325.1,1534.7 326.4,1535.9 327.7,1537.0 C329.0,1538.1 330.4,1539.2 331.8,1540.2 C333.1,1541.2 334.5,1542.2 335.7,1543.1 C336.9,1544.0 338.1,1544.8 339.1,1545.6 C340.1,1546.4 340.9,1547.1 341.7,1547.8 C342.4,1548.5 342.9,1549.1 343.3,1549.7 C343.8,1550.2 344.1,1550.7 344.3,1551.2 C344.6,1551.6 344.7,1552.0 344.8,1552.4 C344.9,1552.7 345.0,1553.0 345.0,1553.2 C345.0,1553.4 345.0,1553.6 345.0,1553.7 C345.0,1553.8 345.0,1553.9 345.0,1553.9 L291.44,1553.90 C291.4,1553.9 291.4,1553.8 291.4,1553.7 C291.5,1553.6 291.4,1553.4 291.5,1553.2 C291.5,1553.0 291.6,1552.7 291.7,1552.4 C291.8,1552.0 291.9,1551.6 292.1,1551.2 C292.4,1550.7 292.7,1550.2 293.1,1549.7 C293.6,1549.1 294.1,1548.5 294.8,1547.8 C295.5,1547.1 296.4,1546.4 297.4,1545.6 C298.4,1544.8 299.5,1544.0 300.8,1543.1 C302.0,1542.2 303.4,1541.2 304.7,1540.2 C306.1,1539.2 307.5,1538.1 308.8,1537.0 C310.1,1535.9 311.4,1534.7 312.4,1533.5 C313.5,1532.2 314.4,1530.9 315.2,1529.6 C315.9,1528.2 316.4,1526.8 316.9,1525.4 C317.3,1523.9 317.6,1522.4 317.8,1520.8 C317.9,1519.2 317.8,1517.6 317.8,1515.9 C317.8,1514.2 317.8,1512.5 317.8,1510.7 C317.8,1508.9 317.8,1507.0 317.8,1505.1 C317.8,1503.2 317.8,1501.2 317.8,1499.2 C317.8,1497.1 317.8,1495.1 317.8,1492.9 C317.8,1490.8 317.8,1488.6 317.8,1486.3 C317.8,1484.1 317.8,1481.8 317.8,1479.4 C317.8,1477.0 317.8,1474.6 317.8,1472.2 C317.8,1469.7 317.8,1467.1 317.8,1464.5 C317.8,1462.0 317.8,1459.3 317.8,1456.6 C317.8,1453.9 317.8,1451.1 317.8,1448.3 C317.8,1445.5 317.8,1442.6 317.8,1439.7 C317.8,1436.8 317.8,1433.8 317.8,1430.8 C317.8,1427.7 317.8,1424.6 317.8,1421.5 C317.8,1418.3 317.8,1415.1 317.8,1411.9 C317.8,1408.6 317.8,1405.3 317.8,1401.9 C317.8,1398.5 317.8,1395.1 317.8,1391.6 C317.8,1388.1 317.8,1384.5 317.8,1380.9 C317.8,1377.3 317.8,1373.7 317.8,1370.0 C317.8,1366.2 317.8,1362.5 317.8,1358.6 C317.8,1354.8 317.8,1350.9 317.8,1347.0 C317.8,1343.1 317.8,1337.0 317.8,1335.0 Z" fill="#ae639f" stroke="#2a2a2a" stroke-width="1.3" stroke-linejoin="round"/>
<line x1="309.84" y1="1552.70" x2="326.64" y2="1552.70" stroke="#8d8d8f" stroke-width="2.0" />
<path d="M379.3,1389.0 C379.3,1390.5 379.3,1395.1 379.4,1398.0 C379.4,1401.0 379.4,1403.9 379.5,1406.8 C379.7,1409.7 380.0,1412.5 380.2,1415.3 C380.4,1418.1 380.7,1420.9 380.7,1423.6 C380.7,1426.3 380.3,1429.0 380.1,1431.6 C379.9,1434.3 379.7,1436.8 379.5,1439.4 C379.4,1441.9 379.4,1444.4 379.4,1446.9 C379.4,1449.4 379.4,1451.8 379.4,1454.1 C379.4,1456.5 379.4,1458.9 379.4,1461.1 C379.4,1463.4 379.4,1465.7 379.4,1467.9 C379.4,1470.1 379.4,1472.3 379.4,1474.4 C379.4,1476.5 379.4,1478.6 379.4,1480.6 C379.4,1482.6 379.4,1484.6 379.4,1486.6 C379.4,1488.5 379.4,1490.5 379.4,1492.3 C379.4,1494.2 379.4,1496.0 379.4,1497.8 C379.4,1499.6 379.4,1501.3 379.4,1503.0 C379.4,1504.7 379.4,1506.4 379.4,1508.0 C379.4,1509.6 379.4,1511.1 379.4,1512.7 C379.4,1514.2 379.4,1515.7 379.4,1517.1 C379.4,1518.6 379.3,1520.0 379.4,1521.3 C379.4,1522.7 379.4,1524.0 379.6,1525.3 C379.9,1526.5 380.2,1527.8 380.7,1529.0 C381.1,1530.1 381.7,1531.3 382.4,1532.4 C383.2,1533.5 384.1,1534.6 385.0,1535.6 C386.0,1536.6 387.2,1537.6 388.4,1538.5 C389.5,1539.4 390.8,1540.3 392.1,1541.2 C393.3,1542.0 394.6,1542.8 395.7,1543.6 C396.9,1544.4 398.0,1545.1 398.9,1545.8 C399.9,1546.4 400.8,1547.1 401.5,1547.7 C402.2,1548.3 402.9,1548.8 403.4,1549.3 C403.9,1549.8 404.2,1550.3 404.6,1550.7 C404.9,1551.1 405.1,1551.5 405.2,1551.9 C405.4,1552.2 405.5,1552.5 405.6,1552.8 C405.6,1553.0 405.7,1553.2 405.7,1553.4 C405.7,1553.6 405.7,1553.7 405.7,1553.8 C405.7,1553.9 405.7,1553.9 405.7,1553.9 L352.12,1553.90 C352.1,1553.9 352.1,1553.9 352.1,1553.8 C352.1,1553.7 352.1,1553.6 352.2,1553.4 C352.2,1553.2 352.2,1553.0 352.3,1552.8 C352.3,1552.5 352.4,1552.2 352.6,1551.9 C352.8,1551.5 353.0,1551.1 353.3,1550.7 C353.6,1550.3 354.0,1549.8 354.5,1549.3 C355.0,1548.8 355.6,1548.3 356.3,1547.7 C357.1,1547.1 357.9,1546.4 358.9,1545.8 C359.9,1545.1 361.0,1544.4 362.1,1543.6 C363.3,1542.8 364.5,1542.0 365.8,1541.2 C367.0,1540.3 368.3,1539.4 369.5,1538.5 C370.6,1537.6 371.8,1536.6 372.8,1535.6 C373.8,1534.6 374.7,1533.5 375.4,1532.4 C376.1,1531.3 376.7,1530.1 377.2,1529.0 C377.6,1527.8 378.0,1526.5 378.2,1525.3 C378.4,1524.0 378.4,1522.7 378.5,1521.3 C378.5,1520.0 378.5,1518.6 378.5,1517.1 C378.5,1515.7 378.5,1514.2 378.5,1512.7 C378.5,1511.1 378.5,1509.6 378.5,1508.0 C378.5,1506.4 378.5,1504.7 378.5,1503.0 C378.5,1501.3 378.5,1499.6 378.5,1497.8 C378.5,1496.0 378.5,1494.2 378.5,1492.3 C378.5,1490.5 378.5,1488.5 378.5,1486.6 C378.5,1484.6 378.5,1482.6 378.5,1480.6 C378.5,1478.6 378.5,1476.5 378.5,1474.4 C378.5,1472.3 378.5,1470.1 378.5,1467.9 C378.5,1465.7 378.5,1463.4 378.5,1461.1 C378.5,1458.9 378.5,1456.5 378.5,1454.1 C378.5,1451.8 378.5,1449.4 378.5,1446.9 C378.4,1444.4 378.4,1441.9 378.3,1439.4 C378.2,1436.8 377.9,1434.3 377.7,1431.6 C377.5,1429.0 377.1,1426.3 377.1,1423.6 C377.1,1420.9 377.4,1418.1 377.6,1415.3 C377.8,1412.5 378.2,1409.7 378.3,1406.8 C378.4,1403.9 378.4,1401.0 378.5,1398.0 C378.5,1395.1 378.5,1390.5 378.5,1389.0 Z" fill="#7fb59c" stroke="#2a2a2a" stroke-width="1.3" stroke-linejoin="round"/>
<line x1="370.52" y1="1552.70" x2="387.32" y2="1552.70" stroke="#8d8d8f" stroke-width="2.0" />
<path d="M440.0,1427.5 C440.0,1428.7 440.1,1432.1 440.1,1434.4 C440.2,1436.7 440.2,1438.9 440.3,1441.2 C440.4,1443.4 440.6,1445.5 440.8,1447.7 C440.9,1449.8 441.2,1451.9 441.2,1454.0 C441.3,1456.1 441.3,1458.2 441.2,1460.2 C441.2,1462.2 440.9,1464.2 440.8,1466.1 C440.7,1468.1 440.5,1470.0 440.4,1471.9 C440.3,1473.8 440.2,1475.6 440.1,1477.4 C440.1,1479.3 440.1,1481.0 440.1,1482.8 C440.1,1484.6 440.1,1486.3 440.1,1488.0 C440.1,1489.7 440.1,1491.3 440.1,1492.9 C440.0,1494.6 440.1,1496.2 440.1,1497.7 C440.0,1499.3 440.1,1500.8 440.1,1502.3 C440.0,1503.8 440.1,1505.3 440.1,1506.7 C440.0,1508.1 440.1,1509.5 440.1,1510.9 C440.0,1512.3 440.1,1513.6 440.1,1514.9 C440.0,1516.2 440.1,1517.5 440.1,1518.7 C440.0,1519.9 440.1,1521.1 440.1,1522.3 C440.0,1523.5 440.0,1524.6 440.1,1525.7 C440.1,1526.8 440.3,1527.9 440.6,1528.9 C440.9,1530.0 441.2,1531.0 441.7,1532.0 C442.2,1532.9 442.8,1533.9 443.5,1534.8 C444.2,1535.7 445.0,1536.6 446.0,1537.4 C446.9,1538.3 448.0,1539.1 449.0,1539.9 C450.1,1540.6 451.3,1541.4 452.4,1542.1 C453.5,1542.8 454.7,1543.5 455.8,1544.1 C456.9,1544.8 457.9,1545.4 458.9,1546.0 C459.8,1546.6 460.7,1547.1 461.4,1547.7 C462.2,1548.2 462.8,1548.7 463.3,1549.1 C463.9,1549.6 464.3,1550.0 464.7,1550.4 C465.1,1550.8 465.3,1551.1 465.6,1551.5 C465.8,1551.8 465.9,1552.1 466.1,1552.3 C466.2,1552.6 466.2,1552.8 466.3,1553.0 C466.3,1553.2 466.4,1553.4 466.4,1553.5 C466.4,1553.6 466.4,1553.7 466.4,1553.8 C466.4,1553.9 466.4,1553.9 466.4,1553.9 L412.80,1553.90 C412.8,1553.9 412.8,1553.9 412.8,1553.8 C412.8,1553.7 412.8,1553.6 412.8,1553.5 C412.8,1553.4 412.9,1553.2 412.9,1553.0 C413.0,1552.8 413.0,1552.6 413.1,1552.3 C413.3,1552.1 413.4,1551.8 413.6,1551.5 C413.9,1551.1 414.1,1550.8 414.5,1550.4 C414.9,1550.0 415.3,1549.6 415.9,1549.1 C416.4,1548.7 417.0,1548.2 417.8,1547.7 C418.5,1547.1 419.4,1546.6 420.3,1546.0 C421.3,1545.4 422.3,1544.8 423.4,1544.1 C424.5,1543.5 425.7,1542.8 426.8,1542.1 C427.9,1541.4 429.1,1540.6 430.2,1539.9 C431.2,1539.1 432.3,1538.3 433.2,1537.4 C434.2,1536.6 435.0,1535.7 435.7,1534.8 C436.4,1533.9 437.0,1532.9 437.5,1532.0 C438.0,1531.0 438.3,1530.0 438.6,1528.9 C438.9,1527.9 439.1,1526.8 439.1,1525.7 C439.2,1524.6 439.2,1523.5 439.1,1522.3 C439.1,1521.1 439.2,1519.9 439.1,1518.7 C439.1,1517.5 439.2,1516.2 439.1,1514.9 C439.1,1513.6 439.2,1512.3 439.1,1510.9 C439.1,1509.5 439.2,1508.1 439.1,1506.7 C439.1,1505.3 439.2,1503.8 439.1,1502.3 C439.1,1500.8 439.2,1499.3 439.1,1497.7 C439.1,1496.2 439.2,1494.6 439.1,1492.9 C439.1,1491.3 439.1,1489.7 439.1,1488.0 C439.1,1486.3 439.1,1484.6 439.1,1482.8 C439.1,1481.0 439.1,1479.3 439.1,1477.4 C439.0,1475.6 438.9,1473.8 438.8,1471.9 C438.7,1470.0 438.5,1468.1 438.4,1466.1 C438.3,1464.2 438.0,1462.2 438.0,1460.2 C437.9,1458.2 437.9,1456.1 438.0,1454.0 C438.0,1451.9 438.3,1449.8 438.4,1447.7 C438.6,1445.5 438.8,1443.4 438.9,1441.2 C439.0,1438.9 439.0,1436.7 439.1,1434.4 C439.1,1432.1 439.2,1428.7 439.2,1427.5 Z" fill="#80708f" stroke="#2a2a2a" stroke-width="1.3" stroke-linejoin="round"/>
<line x1="431.20" y1="1552.70" x2="448.00" y2="1552.70" stroke="#8d8d8f" stroke-width="2.0" />
<path d="M500.7,1343.4 C500.7,1345.3 500.7,1351.1 500.7,1354.9 C500.7,1358.7 500.7,1362.5 500.7,1366.1 C500.7,1369.8 500.7,1373.4 500.7,1377.0 C500.7,1380.6 500.7,1384.1 500.7,1387.6 C500.7,1391.0 500.7,1394.5 500.7,1397.8 C500.7,1401.2 500.7,1404.5 500.7,1407.7 C500.7,1411.0 500.7,1414.2 500.7,1417.3 C500.7,1420.4 500.7,1423.5 500.7,1426.6 C500.7,1429.6 500.7,1432.6 500.7,1435.5 C500.7,1438.4 500.7,1441.3 500.7,1444.1 C500.7,1446.9 500.7,1449.7 500.7,1452.4 C500.7,1455.1 500.7,1457.7 500.7,1460.3 C500.7,1462.9 500.7,1465.5 500.7,1468.0 C500.7,1470.5 500.7,1472.9 500.7,1475.3 C500.7,1477.7 500.7,1480.0 500.7,1482.3 C500.7,1484.5 500.7,1486.8 500.7,1488.9 C500.7,1491.1 500.7,1493.2 500.7,1495.3 C500.7,1497.3 500.7,1499.3 500.7,1501.3 C500.7,1503.2 500.7,1505.1 500.7,1507.0 C500.7,1508.8 500.7,1510.6 500.7,1512.3 C500.7,1514.1 500.6,1515.7 500.7,1517.4 C500.9,1519.0 501.1,1520.5 501.5,1522.1 C501.8,1523.6 502.3,1525.0 502.9,1526.5 C503.5,1527.9 504.3,1529.2 505.2,1530.5 C506.2,1531.8 507.3,1533.1 508.4,1534.2 C509.6,1535.4 510.9,1536.6 512.2,1537.7 C513.4,1538.7 514.8,1539.8 516.0,1540.7 C517.2,1541.7 518.4,1542.6 519.5,1543.5 C520.5,1544.4 521.5,1545.2 522.3,1545.9 C523.1,1546.7 523.8,1547.4 524.4,1548.1 C525.0,1548.7 525.4,1549.3 525.8,1549.8 C526.1,1550.4 526.3,1550.9 526.5,1551.3 C526.7,1551.7 526.8,1552.1 526.9,1552.4 C527.0,1552.8 527.0,1553.0 527.0,1553.3 C527.1,1553.5 527.1,1553.6 527.1,1553.7 C527.1,1553.8 527.1,1553.9 527.1,1553.9 L473.48,1553.90 C473.5,1553.9 473.5,1553.8 473.5,1553.7 C473.5,1553.6 473.5,1553.5 473.5,1553.3 C473.5,1553.0 473.6,1552.8 473.7,1552.4 C473.7,1552.1 473.8,1551.7 474.0,1551.3 C474.2,1550.9 474.5,1550.4 474.8,1549.8 C475.2,1549.3 475.6,1548.7 476.2,1548.1 C476.7,1547.4 477.4,1546.7 478.2,1545.9 C479.1,1545.2 480.0,1544.4 481.1,1543.5 C482.1,1542.6 483.4,1541.7 484.6,1540.7 C485.8,1539.8 487.1,1538.7 488.4,1537.7 C489.7,1536.6 491.0,1535.4 492.1,1534.2 C493.3,1533.1 494.4,1531.8 495.3,1530.5 C496.2,1529.2 497.0,1527.9 497.7,1526.5 C498.3,1525.0 498.7,1523.6 499.1,1522.1 C499.5,1520.5 499.7,1519.0 499.8,1517.4 C500.0,1515.7 499.8,1514.1 499.8,1512.3 C499.8,1510.6 499.8,1508.8 499.8,1507.0 C499.8,1505.1 499.8,1503.2 499.8,1501.3 C499.8,1499.3 499.8,1497.3 499.8,1495.3 C499.8,1493.2 499.8,1491.1 499.8,1488.9 C499.8,1486.8 499.8,1484.5 499.8,1482.3 C499.8,1480.0 499.8,1477.7 499.8,1475.3 C499.8,1472.9 499.8,1470.5 499.8,1468.0 C499.8,1465.5 499.8,1462.9 499.8,1460.3 C499.8,1457.7 499.8,1455.1 499.8,1452.4 C499.8,1449.7 499.8,1446.9 499.8,1444.1 C499.8,1441.3 499.8,1438.4 499.8,1435.5 C499.8,1432.6 499.8,1429.6 499.8,1426.6 C499.8,1423.5 499.8,1420.4 499.8,1417.3 C499.8,1414.2 499.8,1411.0 499.8,1407.7 C499.8,1404.5 499.8,1401.2 499.8,1397.8 C499.8,1394.5 499.8,1391.0 499.8,1387.6 C499.8,1384.1 499.8,1380.6 499.8,1377.0 C499.8,1373.4 499.8,1369.8 499.8,1366.1 C499.8,1362.5 499.8,1358.7 499.8,1354.9 C499.8,1351.1 499.9,1345.3 499.9,1343.4 Z" fill="#c6515f" stroke="#2a2a2a" stroke-width="1.3" stroke-linejoin="round"/>
<line x1="491.88" y1="1552.70" x2="508.68" y2="1552.70" stroke="#8d8d8f" stroke-width="2.0" />
<path d="M561.4,1400.3 C561.4,1401.7 561.4,1405.9 561.4,1408.7 C561.4,1411.5 561.4,1414.2 561.4,1416.9 C561.4,1419.6 561.4,1422.2 561.5,1424.8 C561.6,1427.4 561.9,1430.0 562.1,1432.5 C562.2,1435.1 562.6,1437.6 562.6,1440.0 C562.6,1442.5 562.3,1444.9 562.1,1447.2 C561.9,1449.6 561.7,1451.9 561.6,1454.2 C561.4,1456.5 561.4,1458.8 561.4,1461.0 C561.4,1463.2 561.4,1465.4 561.4,1467.5 C561.4,1469.6 561.4,1471.7 561.4,1473.8 C561.4,1475.8 561.4,1477.9 561.4,1479.8 C561.4,1481.8 561.4,1483.7 561.4,1485.6 C561.4,1487.5 561.4,1489.4 561.4,1491.2 C561.4,1493.0 561.4,1494.8 561.4,1496.5 C561.4,1498.3 561.4,1500.0 561.4,1501.6 C561.4,1503.3 561.4,1504.9 561.4,1506.5 C561.4,1508.1 561.4,1509.6 561.4,1511.1 C561.4,1512.6 561.4,1514.1 561.4,1515.5 C561.4,1516.9 561.4,1518.3 561.4,1519.6 C561.4,1521.0 561.4,1522.3 561.4,1523.6 C561.5,1524.8 561.5,1526.0 561.7,1527.2 C561.9,1528.4 562.2,1529.6 562.7,1530.7 C563.1,1531.8 563.7,1532.8 564.4,1533.9 C565.1,1534.9 566.0,1535.9 567.0,1536.8 C568.0,1537.8 569.2,1538.7 570.3,1539.6 C571.5,1540.4 572.8,1541.3 574.0,1542.0 C575.3,1542.8 576.5,1543.6 577.7,1544.3 C578.8,1545.0 580.0,1545.7 580.9,1546.3 C581.9,1546.9 582.8,1547.5 583.5,1548.1 C584.3,1548.6 584.9,1549.2 585.4,1549.6 C585.9,1550.1 586.3,1550.5 586.6,1550.9 C586.9,1551.3 587.1,1551.7 587.3,1552.0 C587.4,1552.3 587.5,1552.6 587.6,1552.8 C587.7,1553.1 587.7,1553.3 587.7,1553.4 C587.8,1553.6 587.8,1553.7 587.8,1553.8 C587.8,1553.9 587.8,1553.9 587.8,1553.9 L534.16,1553.90 C534.2,1553.9 534.2,1553.9 534.2,1553.8 C534.2,1553.7 534.2,1553.6 534.2,1553.4 C534.2,1553.3 534.2,1553.1 534.3,1552.8 C534.4,1552.6 534.5,1552.3 534.6,1552.0 C534.8,1551.7 535.0,1551.3 535.3,1550.9 C535.7,1550.5 536.0,1550.1 536.5,1549.6 C537.1,1549.2 537.7,1548.6 538.4,1548.1 C539.1,1547.5 540.0,1546.9 541.0,1546.3 C542.0,1545.7 543.1,1545.0 544.2,1544.3 C545.4,1543.6 546.7,1542.8 547.9,1542.0 C549.1,1541.3 550.4,1540.4 551.6,1539.6 C552.8,1538.7 553.9,1537.8 554.9,1536.8 C555.9,1535.9 556.8,1534.9 557.5,1533.9 C558.2,1532.8 558.8,1531.8 559.3,1530.7 C559.7,1529.6 560.0,1528.4 560.3,1527.2 C560.5,1526.0 560.5,1524.8 560.5,1523.6 C560.6,1522.3 560.5,1521.0 560.5,1519.6 C560.5,1518.3 560.5,1516.9 560.5,1515.5 C560.5,1514.1 560.5,1512.6 560.5,1511.1 C560.5,1509.6 560.5,1508.1 560.5,1506.5 C560.5,1504.9 560.5,1503.3 560.5,1501.6 C560.5,1500.0 560.5,1498.3 560.5,1496.5 C560.5,1494.8 560.5,1493.0 560.5,1491.2 C560.5,1489.4 560.5,1487.5 560.5,1485.6 C560.5,1483.7 560.5,1481.8 560.5,1479.8 C560.5,1477.9 560.5,1475.8 560.5,1473.8 C560.5,1471.7 560.5,1469.6 560.5,1467.5 C560.5,1465.4 560.5,1463.2 560.5,1461.0 C560.5,1458.8 560.5,1456.5 560.4,1454.2 C560.3,1451.9 560.0,1449.6 559.8,1447.2 C559.7,1444.9 559.4,1442.5 559.4,1440.0 C559.4,1437.6 559.7,1435.1 559.9,1432.5 C560.0,1430.0 560.3,1427.4 560.4,1424.8 C560.5,1422.2 560.5,1419.6 560.5,1416.9 C560.5,1414.2 560.5,1411.5 560.5,1408.7 C560.5,1405.9 560.6,1401.7 560.6,1400.3 Z" fill="#efcdc2" stroke="#2a2a2a" stroke-width="1.3" stroke-linejoin="round"/>
<line x1="552.56" y1="1552.70" x2="569.36" y2="1552.70" stroke="#8d8d8f" stroke-width="2.0" />
<path d="M622.0,1214.4 C622.0,1217.5 622.1,1226.9 622.1,1233.0 C622.1,1239.1 622.1,1245.1 622.1,1251.1 C622.1,1257.0 622.1,1262.9 622.1,1268.6 C622.1,1274.4 622.1,1280.1 622.1,1285.7 C622.1,1291.2 622.1,1296.7 622.1,1302.2 C622.1,1307.6 622.1,1312.9 622.1,1318.1 C622.1,1323.4 622.2,1328.5 622.2,1333.6 C622.2,1338.7 622.2,1343.6 622.3,1348.5 C622.3,1353.4 622.4,1358.2 622.4,1362.9 C622.5,1367.6 622.6,1372.3 622.6,1376.8 C622.7,1381.4 622.8,1385.8 622.8,1390.2 C622.9,1394.5 622.9,1398.8 623.0,1403.0 C623.0,1407.2 623.0,1411.3 623.0,1415.3 C623.0,1419.3 623.0,1423.3 623.0,1427.1 C623.0,1431.0 623.0,1434.7 622.9,1438.4 C622.9,1442.0 622.9,1445.6 622.8,1449.1 C622.8,1452.6 622.7,1456.0 622.7,1459.3 C622.6,1462.7 622.6,1465.9 622.5,1469.0 C622.5,1472.2 622.5,1475.2 622.4,1478.2 C622.4,1481.2 622.4,1484.0 622.3,1486.8 C622.3,1489.6 622.3,1492.3 622.3,1495.0 C622.2,1497.6 622.1,1500.1 622.2,1502.6 C622.3,1505.0 622.6,1507.4 623.0,1509.6 C623.4,1511.9 623.9,1514.1 624.7,1516.2 C625.4,1518.3 626.3,1520.3 627.4,1522.2 C628.4,1524.1 629.7,1526.0 631.0,1527.7 C632.3,1529.5 633.7,1531.1 635.1,1532.7 C636.4,1534.3 637.8,1535.7 639.1,1537.1 C640.3,1538.5 641.5,1539.8 642.5,1541.1 C643.5,1542.3 644.3,1543.4 645.0,1544.5 C645.7,1545.5 646.3,1546.5 646.7,1547.4 C647.2,1548.2 647.5,1549.0 647.7,1549.7 C648.0,1550.4 648.1,1551.0 648.2,1551.5 C648.3,1552.1 648.4,1552.5 648.4,1552.9 C648.4,1553.2 648.4,1553.5 648.4,1553.6 C648.4,1553.8 648.4,1553.9 648.4,1553.9 L594.84,1553.90 C594.8,1553.9 594.8,1553.8 594.8,1553.6 C594.9,1553.5 594.8,1553.2 594.9,1552.9 C594.9,1552.5 595.0,1552.1 595.1,1551.5 C595.2,1551.0 595.3,1550.4 595.6,1549.7 C595.8,1549.0 596.1,1548.2 596.5,1547.4 C597.0,1546.5 597.5,1545.5 598.3,1544.5 C599.0,1543.4 599.8,1542.3 600.8,1541.1 C601.8,1539.8 603.0,1538.5 604.2,1537.1 C605.5,1535.7 606.9,1534.3 608.2,1532.7 C609.5,1531.1 611.0,1529.5 612.3,1527.7 C613.6,1526.0 614.8,1524.1 615.9,1522.2 C617.0,1520.3 617.9,1518.3 618.6,1516.2 C619.4,1514.1 619.9,1511.9 620.3,1509.6 C620.7,1507.4 621.0,1505.0 621.1,1502.6 C621.2,1500.1 621.0,1497.6 621.0,1495.0 C621.0,1492.3 621.0,1489.6 621.0,1486.8 C620.9,1484.0 620.9,1481.2 620.9,1478.2 C620.8,1475.2 620.8,1472.2 620.7,1469.0 C620.7,1465.9 620.7,1462.7 620.6,1459.3 C620.6,1456.0 620.5,1452.6 620.5,1449.1 C620.4,1445.6 620.4,1442.0 620.3,1438.4 C620.3,1434.7 620.3,1431.0 620.3,1427.1 C620.2,1423.3 620.2,1419.3 620.2,1415.3 C620.3,1411.3 620.3,1407.2 620.3,1403.0 C620.4,1398.8 620.4,1394.5 620.5,1390.2 C620.5,1385.8 620.6,1381.4 620.7,1376.8 C620.7,1372.3 620.8,1367.6 620.8,1362.9 C620.9,1358.2 621.0,1353.4 621.0,1348.5 C621.0,1343.6 621.1,1338.7 621.1,1333.6 C621.1,1328.5 621.1,1323.4 621.2,1318.1 C621.2,1312.9 621.2,1307.6 621.2,1302.2 C621.2,1296.7 621.2,1291.2 621.2,1285.7 C621.2,1280.1 621.2,1274.4 621.2,1268.6 C621.2,1262.9 621.2,1257.0 621.2,1251.1 C621.2,1245.1 621.2,1239.1 621.2,1233.0 C621.2,1226.9 621.2,1217.5 621.2,1214.4 Z" fill="#a2a3a6" stroke="#2a2a2a" stroke-width="1.3" stroke-linejoin="round"/>
<line x1="613.24" y1="1552.70" x2="630.04" y2="1552.70" stroke="#8d8d8f" stroke-width="2.0" />
<path d="M682.7,1274.5 C682.7,1277.1 682.8,1284.8 682.8,1289.8 C682.8,1294.8 682.8,1299.8 682.8,1304.7 C682.8,1309.6 682.8,1314.4 682.8,1319.1 C682.8,1323.9 682.8,1328.5 682.9,1333.1 C682.9,1337.7 682.9,1342.3 682.9,1346.7 C683.0,1351.2 683.0,1355.6 683.1,1359.9 C683.1,1364.2 683.2,1368.4 683.2,1372.6 C683.3,1376.8 683.4,1380.9 683.4,1384.9 C683.5,1388.9 683.5,1392.9 683.6,1396.7 C683.6,1400.6 683.7,1404.4 683.7,1408.2 C683.7,1411.9 683.7,1415.6 683.7,1419.2 C683.7,1422.8 683.7,1426.3 683.7,1429.7 C683.7,1433.2 683.6,1436.5 683.6,1439.9 C683.6,1443.2 683.5,1446.4 683.5,1449.6 C683.5,1452.7 683.4,1455.8 683.4,1458.8 C683.3,1461.8 683.3,1464.8 683.2,1467.7 C683.2,1470.5 683.2,1473.3 683.1,1476.1 C683.1,1478.8 683.1,1481.5 683.0,1484.1 C683.0,1486.6 683.0,1489.2 683.0,1491.6 C682.9,1494.0 682.9,1496.4 682.9,1498.7 C682.9,1501.0 682.7,1503.2 682.9,1505.4 C683.0,1507.5 683.2,1509.6 683.6,1511.6 C684.0,1513.7 684.5,1515.6 685.2,1517.5 C685.8,1519.3 686.6,1521.1 687.6,1522.9 C688.5,1524.6 689.6,1526.2 690.8,1527.8 C692.0,1529.4 693.3,1530.9 694.5,1532.3 C695.8,1533.8 697.1,1535.1 698.3,1536.4 C699.5,1537.7 700.7,1539.0 701.7,1540.1 C702.8,1541.3 703.7,1542.3 704.5,1543.3 C705.3,1544.3 706.0,1545.3 706.5,1546.1 C707.1,1547.0 707.5,1547.8 707.8,1548.5 C708.2,1549.2 708.4,1549.9 708.6,1550.5 C708.8,1551.0 708.9,1551.5 709.0,1552.0 C709.0,1552.4 709.1,1552.8 709.1,1553.0 C709.1,1553.3 709.1,1553.5 709.1,1553.7 C709.1,1553.8 709.1,1553.9 709.1,1553.9 L655.52,1553.90 C655.5,1553.9 655.5,1553.8 655.5,1553.7 C655.5,1553.5 655.5,1553.3 655.6,1553.0 C655.6,1552.8 655.6,1552.4 655.7,1552.0 C655.8,1551.5 655.9,1551.0 656.1,1550.5 C656.2,1549.9 656.5,1549.2 656.8,1548.5 C657.1,1547.8 657.6,1547.0 658.1,1546.1 C658.7,1545.3 659.3,1544.3 660.1,1543.3 C660.9,1542.3 661.9,1541.3 662.9,1540.1 C663.9,1539.0 665.1,1537.7 666.3,1536.4 C667.5,1535.1 668.8,1533.8 670.1,1532.3 C671.4,1530.9 672.7,1529.4 673.8,1527.8 C675.0,1526.2 676.1,1524.6 677.1,1522.9 C678.0,1521.1 678.8,1519.3 679.5,1517.5 C680.1,1515.6 680.6,1513.7 681.0,1511.6 C681.4,1509.6 681.7,1507.5 681.8,1505.4 C681.9,1503.2 681.7,1501.0 681.7,1498.7 C681.7,1496.4 681.7,1494.0 681.7,1491.6 C681.7,1489.2 681.6,1486.6 681.6,1484.1 C681.6,1481.5 681.5,1478.8 681.5,1476.1 C681.5,1473.3 681.4,1470.5 681.4,1467.7 C681.4,1464.8 681.3,1461.8 681.3,1458.8 C681.2,1455.8 681.2,1452.7 681.1,1449.6 C681.1,1446.4 681.1,1443.2 681.0,1439.9 C681.0,1436.5 681.0,1433.2 680.9,1429.7 C680.9,1426.3 680.9,1422.8 680.9,1419.2 C680.9,1415.6 680.9,1411.9 681.0,1408.2 C681.0,1404.4 681.0,1400.6 681.1,1396.7 C681.1,1392.9 681.2,1388.9 681.2,1384.9 C681.3,1380.9 681.3,1376.8 681.4,1372.6 C681.5,1368.4 681.5,1364.2 681.6,1359.9 C681.6,1355.6 681.7,1351.2 681.7,1346.7 C681.7,1342.3 681.8,1337.7 681.8,1333.1 C681.8,1328.5 681.8,1323.9 681.8,1319.1 C681.8,1314.4 681.8,1309.6 681.9,1304.7 C681.9,1299.8 681.9,1294.8 681.9,1289.8 C681.9,1284.8 681.9,1277.1 681.9,1274.5 Z" fill="#a2a3a6" stroke="#2a2a2a" stroke-width="1.3" stroke-linejoin="round"/>
<line x1="673.92" y1="1552.70" x2="690.72" y2="1552.70" stroke="#8d8d8f" stroke-width="2.0" />
<path d="M743.4,1365.3 C743.4,1367.0 743.4,1372.2 743.5,1375.6 C743.5,1379.0 743.5,1382.4 743.5,1385.7 C743.5,1389.0 743.5,1392.2 743.5,1395.4 C743.5,1398.6 743.5,1401.8 743.5,1404.9 C743.5,1408.0 743.5,1411.0 743.5,1414.1 C743.5,1417.1 743.5,1420.0 743.5,1422.9 C743.5,1425.8 743.5,1428.7 743.5,1431.5 C743.5,1434.3 743.5,1437.1 743.5,1439.8 C743.5,1442.5 743.5,1445.2 743.5,1447.8 C743.5,1450.4 743.5,1453.0 743.5,1455.5 C743.5,1458.0 743.5,1460.5 743.5,1462.9 C743.5,1465.4 743.5,1467.7 743.5,1470.1 C743.5,1472.4 743.5,1474.7 743.5,1476.9 C743.5,1479.1 743.5,1481.3 743.5,1483.5 C743.5,1485.6 743.5,1487.7 743.5,1489.7 C743.5,1491.8 743.5,1493.7 743.5,1495.7 C743.5,1497.6 743.5,1499.5 743.5,1501.4 C743.5,1503.2 743.5,1505.0 743.5,1506.8 C743.5,1508.5 743.5,1510.2 743.5,1511.8 C743.5,1513.5 743.5,1515.1 743.5,1516.6 C743.5,1518.2 743.3,1519.7 743.5,1521.2 C743.6,1522.6 743.8,1524.0 744.2,1525.4 C744.6,1526.7 745.0,1528.0 745.7,1529.3 C746.3,1530.6 747.1,1531.8 748.0,1532.9 C748.9,1534.1 750.0,1535.2 751.2,1536.3 C752.3,1537.4 753.7,1538.4 754.9,1539.3 C756.2,1540.3 757.5,1541.2 758.8,1542.1 C760.0,1543.0 761.2,1543.8 762.2,1544.6 C763.3,1545.4 764.3,1546.1 765.1,1546.8 C765.9,1547.4 766.6,1548.1 767.1,1548.7 C767.7,1549.2 768.1,1549.8 768.5,1550.3 C768.8,1550.7 769.1,1551.2 769.3,1551.6 C769.4,1552.0 769.5,1552.3 769.6,1552.6 C769.7,1552.9 769.7,1553.1 769.8,1553.3 C769.8,1553.5 769.8,1553.7 769.8,1553.8 C769.8,1553.9 769.8,1553.9 769.8,1553.9 L716.20,1553.90 C716.2,1553.9 716.2,1553.9 716.2,1553.8 C716.2,1553.7 716.2,1553.5 716.2,1553.3 C716.3,1553.1 716.3,1552.9 716.4,1552.6 C716.5,1552.3 716.6,1552.0 716.7,1551.6 C716.9,1551.2 717.2,1550.7 717.5,1550.3 C717.9,1549.8 718.3,1549.2 718.9,1548.7 C719.4,1548.1 720.1,1547.4 720.9,1546.8 C721.7,1546.1 722.7,1545.4 723.8,1544.6 C724.8,1543.8 726.0,1543.0 727.2,1542.1 C728.5,1541.2 729.8,1540.3 731.1,1539.3 C732.3,1538.4 733.7,1537.4 734.8,1536.3 C736.0,1535.2 737.1,1534.1 738.0,1532.9 C738.9,1531.8 739.7,1530.6 740.3,1529.3 C741.0,1528.0 741.4,1526.7 741.8,1525.4 C742.2,1524.0 742.4,1522.6 742.5,1521.2 C742.7,1519.7 742.5,1518.2 742.5,1516.6 C742.5,1515.1 742.5,1513.5 742.5,1511.8 C742.5,1510.2 742.5,1508.5 742.5,1506.8 C742.5,1505.0 742.5,1503.2 742.5,1501.4 C742.5,1499.5 742.5,1497.6 742.5,1495.7 C742.5,1493.7 742.5,1491.8 742.5,1489.7 C742.5,1487.7 742.5,1485.6 742.5,1483.5 C742.5,1481.3 742.5,1479.1 742.5,1476.9 C742.5,1474.7 742.5,1472.4 742.5,1470.1 C742.5,1467.7 742.5,1465.4 742.5,1462.9 C742.5,1460.5 742.5,1458.0 742.5,1455.5 C742.5,1453.0 742.5,1450.4 742.5,1447.8 C742.5,1445.2 742.5,1442.5 742.5,1439.8 C742.5,1437.1 742.5,1434.3 742.5,1431.5 C742.5,1428.7 742.5,1425.8 742.5,1422.9 C742.5,1420.0 742.5,1417.1 742.5,1414.1 C742.5,1411.0 742.5,1408.0 742.5,1404.9 C742.5,1401.8 742.5,1398.6 742.5,1395.4 C742.5,1392.2 742.5,1389.0 742.5,1385.7 C742.5,1382.4 742.5,1379.0 742.5,1375.6 C742.6,1372.2 742.6,1367.0 742.6,1365.3 Z" fill="#a2a3a6" stroke="#2a2a2a" stroke-width="1.3" stroke-linejoin="round"/>
<line x1="734.60" y1="1552.70" x2="751.40" y2="1552.70" stroke="#8d8d8f" stroke-width="2.0" />
<path d="M804.1,1225.4 C804.1,1228.4 804.1,1237.5 804.1,1243.4 C804.1,1249.3 804.1,1255.1 804.1,1260.9 C804.1,1266.6 804.1,1272.3 804.1,1277.9 C804.1,1283.4 804.1,1288.9 804.1,1294.3 C804.1,1299.8 804.1,1305.1 804.1,1310.3 C804.1,1315.6 804.1,1320.7 804.1,1325.8 C804.1,1330.8 804.1,1335.8 804.1,1340.7 C804.1,1345.6 804.2,1350.4 804.2,1355.2 C804.2,1359.9 804.2,1364.6 804.2,1369.1 C804.3,1373.7 804.3,1378.2 804.4,1382.6 C804.4,1386.9 804.5,1391.3 804.6,1395.5 C804.6,1399.7 804.7,1403.8 804.8,1407.9 C804.8,1412.0 804.9,1415.9 804.9,1419.8 C805.0,1423.7 805.0,1427.5 805.0,1431.2 C805.0,1434.9 804.9,1438.6 804.9,1442.1 C804.9,1445.7 804.8,1449.1 804.8,1452.5 C804.7,1455.9 804.7,1459.2 804.6,1462.4 C804.6,1465.6 804.5,1468.7 804.5,1471.8 C804.4,1474.8 804.4,1477.8 804.3,1480.6 C804.3,1483.5 804.3,1486.3 804.3,1489.0 C804.2,1491.7 804.2,1494.3 804.2,1496.9 C804.2,1499.4 804.1,1501.9 804.2,1504.2 C804.3,1506.6 804.5,1508.9 804.9,1511.1 C805.3,1513.3 805.8,1515.4 806.5,1517.4 C807.2,1519.4 808.1,1521.4 809.1,1523.2 C810.2,1525.1 811.4,1526.9 812.7,1528.6 C814.0,1530.2 815.5,1531.8 816.8,1533.4 C818.2,1534.9 819.6,1536.3 820.9,1537.7 C822.1,1539.0 823.3,1540.3 824.3,1541.5 C825.3,1542.7 826.2,1543.8 827.0,1544.8 C827.7,1545.8 828.3,1546.7 828.7,1547.6 C829.2,1548.4 829.5,1549.2 829.7,1549.8 C830.0,1550.5 830.1,1551.1 830.2,1551.6 C830.4,1552.1 830.4,1552.5 830.4,1552.9 C830.5,1553.2 830.5,1553.5 830.5,1553.6 C830.5,1553.8 830.5,1553.9 830.5,1553.9 L776.88,1553.90 C776.9,1553.9 776.9,1553.8 776.9,1553.6 C776.9,1553.5 776.9,1553.2 776.9,1552.9 C777.0,1552.5 777.0,1552.1 777.1,1551.6 C777.2,1551.1 777.4,1550.5 777.6,1549.8 C777.9,1549.2 778.2,1548.4 778.6,1547.6 C779.1,1546.7 779.7,1545.8 780.4,1544.8 C781.1,1543.8 782.0,1542.7 783.0,1541.5 C784.0,1540.3 785.3,1539.0 786.5,1537.7 C787.8,1536.3 789.2,1534.9 790.5,1533.4 C791.9,1531.8 793.4,1530.2 794.6,1528.6 C795.9,1526.9 797.2,1525.1 798.2,1523.2 C799.3,1521.4 800.1,1519.4 800.9,1517.4 C801.6,1515.4 802.1,1513.3 802.5,1511.1 C802.9,1508.9 803.1,1506.6 803.2,1504.2 C803.3,1501.9 803.2,1499.4 803.2,1496.9 C803.1,1494.3 803.1,1491.7 803.1,1489.0 C803.1,1486.3 803.1,1483.5 803.0,1480.6 C803.0,1477.8 803.0,1474.8 802.9,1471.8 C802.9,1468.7 802.8,1465.6 802.8,1462.4 C802.7,1459.2 802.6,1455.9 802.6,1452.5 C802.5,1449.1 802.5,1445.7 802.4,1442.1 C802.4,1438.6 802.4,1434.9 802.4,1431.2 C802.4,1427.5 802.4,1423.7 802.4,1419.8 C802.5,1415.9 802.5,1412.0 802.6,1407.9 C802.6,1403.8 802.7,1399.7 802.8,1395.5 C802.9,1391.3 802.9,1386.9 803.0,1382.6 C803.0,1378.2 803.1,1373.7 803.1,1369.1 C803.2,1364.6 803.2,1359.9 803.2,1355.2 C803.2,1350.4 803.2,1345.6 803.2,1340.7 C803.2,1335.8 803.2,1330.8 803.2,1325.8 C803.2,1320.7 803.2,1315.6 803.2,1310.3 C803.2,1305.1 803.2,1299.8 803.2,1294.3 C803.2,1288.9 803.2,1283.4 803.2,1277.9 C803.2,1272.3 803.2,1266.6 803.2,1260.9 C803.2,1255.1 803.2,1249.3 803.2,1243.4 C803.2,1237.5 803.3,1228.4 803.3,1225.4 Z" fill="#a2a3a6" stroke="#2a2a2a" stroke-width="1.3" stroke-linejoin="round"/>
<line x1="795.28" y1="1552.70" x2="812.08" y2="1552.70" stroke="#8d8d8f" stroke-width="2.0" />
<path d="M101.0 1208.4H838.8M101.0 1251.4H838.8M101.0 1294.4H838.8M101.0 1337.4H838.8M101.0 1380.4H838.8M101.0 1423.4H838.8M101.0 1466.4H838.8M101.0 1509.4H838.8M136.2 1200.2V1555.0M196.9 1200.2V1555.0M257.6 1200.2V1555.0M318.2 1200.2V1555.0M378.9 1200.2V1555.0M439.6 1200.2V1555.0M500.3 1200.2V1555.0M561.0 1200.2V1555.0M621.6 1200.2V1555.0M682.3 1200.2V1555.0M743.0 1200.2V1555.0M803.7 1200.2V1555.0" stroke="#000" stroke-opacity="0.13" stroke-width="1.7" fill="none"/>
<path d="M136.20,1535.70 L139.90,1539.40 L136.20,1543.10 L132.50,1539.40 Z" fill="#c0473f" stroke="#3a1a1a" stroke-width="1"/>
<path d="M196.88,1540.50 L200.58,1544.20 L196.88,1547.90 L193.18,1544.20 Z" fill="#c0473f" stroke="#3a1a1a" stroke-width="1"/>
<path d="M257.56,1541.30 L261.26,1545.00 L257.56,1548.70 L253.86,1545.00 Z" fill="#c0473f" stroke="#3a1a1a" stroke-width="1"/>
<path d="M318.24,1542.80 L321.94,1546.50 L318.24,1550.20 L314.54,1546.50 Z" fill="#c0473f" stroke="#3a1a1a" stroke-width="1"/>
<path d="M378.92,1542.80 L382.62,1546.50 L378.92,1550.20 L375.22,1546.50 Z" fill="#c0473f" stroke="#3a1a1a" stroke-width="1"/>
<path d="M439.60,1545.30 L443.30,1549.00 L439.60,1552.70 L435.90,1549.00 Z" fill="#c0473f" stroke="#3a1a1a" stroke-width="1"/>
<path d="M500.28,1540.00 L503.98,1543.70 L500.28,1547.40 L496.58,1543.70 Z" fill="#c0473f" stroke="#3a1a1a" stroke-width="1"/>
<path d="M560.96,1542.50 L564.66,1546.20 L560.96,1549.90 L557.26,1546.20 Z" fill="#c0473f" stroke="#3a1a1a" stroke-width="1"/>
<path d="M621.64,1526.80 L625.34,1530.50 L621.64,1534.20 L617.94,1530.50 Z" fill="#c0473f" stroke="#3a1a1a" stroke-width="1"/>
<path d="M682.32,1534.70 L686.02,1538.40 L682.32,1542.10 L678.62,1538.40 Z" fill="#c0473f" stroke="#3a1a1a" stroke-width="1"/>
<path d="M743.00,1541.90 L746.70,1545.60 L743.00,1549.30 L739.30,1545.60 Z" fill="#c0473f" stroke="#3a1a1a" stroke-width="1"/>
<path d="M803.68,1535.30 L807.38,1539.00 L803.68,1542.70 L799.98,1539.00 Z" fill="#c0473f" stroke="#3a1a1a" stroke-width="1"/>
<rect x="101.00" y="1200.20" width="737.80" height="354.80" fill="none" stroke="#111" stroke-width="2.0" />
<text transform="translate(192.90,1307.54) rotate(90)" font-size="19.00" fill="#656565"><tspan>0.1086</tspan></text>
<text transform="translate(313.80,1267.74) rotate(90)" font-size="19.00" fill="#656565"><tspan>0.0386</tspan></text>
<text transform="translate(373.60,1317.54) rotate(90)" font-size="19.00" fill="#656565"><tspan>0.0259</tspan></text>
<text transform="translate(433.30,1355.94) rotate(90)" font-size="19.00" fill="#656565"><tspan>0.0722</tspan></text>
<text transform="translate(555.80,1334.14) rotate(90)" font-size="19.00" fill="#656565"><tspan>0.0489</tspan></text>
<text transform="translate(84.65,1225.80) scale(1.1025,1)" font-size="20.93" fill="#1a1a1a"><tspan>2</tspan></text>
<text transform="translate(82.94,1393.40) scale(0.9146,1)" font-size="21.24" fill="#1a1a1a"><tspan>1</tspan></text>
<text transform="translate(82.72,1557.80) scale(1.0729,1)" font-size="20.49" fill="#1a1a1a"><tspan>0</tspan></text>
<text transform="translate(61.70,1480.07) rotate(-90)" font-size="21.40" fill="#1a1a1a"><tspan>CDKN2A expression</tspan></text>
<text transform="translate(859.60,1285.25) rotate(90)" font-size="21.20" fill="#1a1a1a"><tspan>BJ Perturb-multiome</tspan></text>
<text transform="translate(146.66,1595.43) rotate(-90)" font-size="21.70" fill="#1a1a1a"><tspan>NT</tspan></text>
<text transform="translate(204.66,1673.84) rotate(-90)" font-size="21.70" fill="#1a1a1a"><tspan font-style="italic">LINC01638</tspan></text>
<text transform="translate(265.34,1671.83) rotate(-90)" font-size="21.70" fill="#1a1a1a"><tspan font-style="italic">MIR155HG</tspan></text>
<text transform="translate(326.02,1630.71) rotate(-90)" font-size="21.70" fill="#1a1a1a"><tspan font-style="italic">NEAT1</tspan></text>
<text transform="translate(386.70,1622.14) rotate(-90)" font-size="21.70" fill="#1a1a1a"><tspan font-style="italic">GAS5</tspan></text>
<text transform="translate(447.38,1625.50) rotate(-90)" font-size="21.70" fill="#1a1a1a"><tspan font-style="italic">MEG3</tspan></text>
<text transform="translate(508.06,1673.84) rotate(-90)" font-size="21.70" fill="#1a1a1a"><tspan font-style="italic">LICN01578</tspan></text>
<text transform="translate(568.74,1613.73) rotate(-90)" font-size="21.70" fill="#1a1a1a"><tspan font-style="italic">XIST</tspan></text>
<text transform="translate(629.42,1637.17) rotate(-90)" font-size="21.70" fill="#1a1a1a"><tspan font-style="italic">SNHG1</tspan></text>
<text transform="translate(690.10,1671.83) rotate(-90)" font-size="21.70" fill="#1a1a1a"><tspan font-style="italic">MIR222HG</tspan></text>
<text transform="translate(750.78,1673.84) rotate(-90)" font-size="21.70" fill="#1a1a1a"><tspan font-style="italic">LINC00578</tspan></text>
<text transform="translate(811.46,1635.00) rotate(-90)" font-size="21.70" fill="#1a1a1a"><tspan font-style="italic">PURPL</tspan></text>
<path d="M136.6,1747.8 C136.7,1756.0 135.8,1781.0 137.2,1796.7 C138.5,1812.4 141.9,1829.7 144.7,1842.0 C147.5,1854.3 151.4,1861.2 153.8,1870.7 C156.2,1880.2 157.4,1889.5 159.0,1899.0 C160.6,1908.5 163.2,1919.5 163.2,1927.6 C163.2,1935.7 160.9,1940.4 159.0,1947.5 C157.1,1954.6 154.2,1961.5 151.8,1970.0 C149.4,1978.5 146.9,1989.2 144.7,1998.7 C142.5,2008.2 139.4,2020.0 138.7,2027.0 C138.0,2034.0 139.2,2035.8 140.5,2041.0 C141.8,2046.2 144.4,2052.8 146.2,2058.5 C147.9,2064.2 150.2,2072.2 151.0,2075.0 L121.40,2075.00 C122.2,2072.2 124.4,2064.2 126.2,2058.5 C127.9,2052.8 130.6,2046.2 131.9,2041.0 C133.1,2035.8 134.4,2034.0 133.7,2027.0 C133.0,2020.0 129.9,2008.2 127.7,1998.7 C125.5,1989.2 123.0,1978.5 120.6,1970.0 C118.2,1961.5 115.3,1954.6 113.4,1947.5 C111.5,1940.4 109.2,1935.7 109.2,1927.6 C109.2,1919.5 111.8,1908.5 113.4,1899.0 C115.0,1889.5 116.2,1880.2 118.6,1870.7 C121.0,1861.2 124.9,1854.3 127.7,1842.0 C130.5,1829.7 133.8,1812.4 135.2,1796.7 C136.5,1781.0 135.7,1756.0 135.8,1747.8 Z" fill="#b7b8bb" stroke="#2a2a2a" stroke-width="1.3" stroke-linejoin="round"/>
<path d="M197.3,1776.8 C197.4,1785.3 197.2,1814.7 198.1,1828.0 C199.0,1841.3 200.6,1847.0 202.6,1856.5 C204.5,1866.0 207.1,1875.6 209.7,1885.0 C212.3,1894.4 216.0,1903.5 218.2,1913.0 C220.3,1922.5 221.5,1932.3 222.5,1941.8 C223.4,1951.3 223.6,1961.5 223.9,1970.0 C224.1,1978.5 225.0,1985.8 223.9,1993.0 C222.7,2000.2 219.5,2006.8 216.9,2013.0 C214.3,2019.2 210.2,2024.3 208.3,2030.0 C206.4,2035.7 205.6,2039.5 205.4,2047.0 C205.1,2054.5 206.6,2070.3 206.9,2075.0 L186.88,2075.00 C187.1,2070.3 188.6,2054.5 188.4,2047.0 C188.1,2039.5 187.4,2035.7 185.5,2030.0 C183.6,2024.3 179.5,2019.2 176.9,2013.0 C174.3,2006.8 171.0,2000.2 169.9,1993.0 C168.7,1985.8 169.6,1978.5 169.9,1970.0 C170.1,1961.5 170.3,1951.3 171.3,1941.8 C172.2,1932.3 173.4,1922.5 175.6,1913.0 C177.7,1903.5 181.5,1894.4 184.1,1885.0 C186.7,1875.6 189.2,1866.0 191.2,1856.5 C193.1,1847.0 194.8,1841.3 195.7,1828.0 C196.6,1814.7 196.3,1785.3 196.5,1776.8 Z" fill="#cca68c" stroke="#2a2a2a" stroke-width="1.3" stroke-linejoin="round"/>
<path d="M258.0,1771.1 C258.1,1777.6 257.7,1800.5 258.8,1810.0 C259.9,1819.5 262.2,1820.2 264.6,1828.0 C267.0,1835.8 270.8,1847.0 273.2,1856.5 C275.5,1866.0 277.4,1875.6 278.9,1885.0 C280.3,1894.4 281.0,1903.5 281.8,1913.0 C282.5,1922.5 283.4,1932.3 283.2,1941.8 C282.9,1951.3 282.7,1960.5 280.4,1970.0 C278.0,1979.5 271.1,1991.5 269.0,1998.7 C266.8,2005.9 266.9,2006.0 267.6,2013.0 C268.3,2020.0 270.8,2032.5 273.2,2041.0 C275.5,2049.5 279.9,2058.3 281.8,2064.0 C283.7,2069.7 284.1,2073.2 284.6,2075.0 L230.56,2075.00 C231.0,2073.2 231.5,2069.7 233.4,2064.0 C235.3,2058.3 239.6,2049.5 242.0,2041.0 C244.3,2032.5 246.9,2020.0 247.6,2013.0 C248.3,2006.0 248.3,2005.9 246.2,1998.7 C244.0,1991.5 237.1,1979.5 234.8,1970.0 C232.4,1960.5 232.2,1951.3 232.0,1941.8 C231.7,1932.3 232.6,1922.5 233.4,1913.0 C234.1,1903.5 234.8,1894.4 236.3,1885.0 C237.7,1875.6 239.6,1866.0 242.0,1856.5 C244.3,1847.0 248.2,1835.8 250.6,1828.0 C253.0,1820.2 255.3,1819.5 256.4,1810.0 C257.5,1800.5 257.0,1777.6 257.2,1771.1 Z" fill="#5868a4" stroke="#2a2a2a" stroke-width="1.3" stroke-linejoin="round"/>
<path d="M318.6,1799.6 C318.8,1805.2 317.4,1823.5 319.4,1833.0 C321.5,1842.5 327.4,1847.8 331.0,1856.5 C334.6,1865.2 338.7,1875.6 341.0,1885.0 C343.4,1894.4 344.8,1903.5 345.2,1913.0 C345.7,1922.5 345.3,1932.3 343.8,1941.8 C342.4,1951.3 339.1,1960.5 336.7,1970.0 C334.4,1979.5 332.0,1989.2 329.6,1998.7 C327.3,2008.2 323.3,2017.5 322.5,2027.0 C321.8,2036.5 324.1,2047.6 325.3,2055.6 C326.6,2063.6 329.4,2071.8 330.2,2075.0 L306.24,2075.00 C307.1,2071.8 309.9,2063.6 311.1,2055.6 C312.4,2047.6 314.7,2036.5 313.9,2027.0 C313.2,2017.5 309.2,2008.2 306.8,1998.7 C304.5,1989.2 302.1,1979.5 299.7,1970.0 C297.4,1960.5 294.1,1951.3 292.6,1941.8 C291.2,1932.3 290.8,1922.5 291.2,1913.0 C291.7,1903.5 293.1,1894.4 295.4,1885.0 C297.8,1875.6 301.8,1865.2 305.4,1856.5 C309.0,1847.8 315.0,1842.5 317.0,1833.0 C319.1,1823.5 317.7,1805.2 317.8,1799.6 Z" fill="#ae639f" stroke="#2a2a2a" stroke-width="1.3" stroke-linejoin="round"/>
<path d="M379.3,1758.3 C379.5,1766.6 378.5,1796.4 380.1,1808.0 C381.7,1819.6 385.8,1819.9 388.9,1828.0 C392.1,1836.1 396.3,1847.0 398.9,1856.5 C401.5,1866.0 403.2,1874.1 404.5,1885.0 C405.8,1895.9 406.8,1910.2 406.8,1922.0 C406.8,1933.8 406.1,1945.6 404.5,1956.0 C403.0,1966.4 399.6,1975.0 397.4,1984.5 C395.3,1994.0 392.9,2004.5 391.7,2013.0 C390.5,2021.5 390.3,2028.1 390.3,2035.7 C390.3,2043.3 391.3,2051.9 391.7,2058.5 C392.1,2065.1 392.5,2072.2 392.6,2075.0 L365.22,2075.00 C365.4,2072.2 365.7,2065.1 366.1,2058.5 C366.5,2051.9 367.5,2043.3 367.5,2035.7 C367.5,2028.1 367.3,2021.5 366.1,2013.0 C364.9,2004.5 362.6,1994.0 360.4,1984.5 C358.3,1975.0 354.9,1966.4 353.3,1956.0 C351.8,1945.6 351.0,1933.8 351.0,1922.0 C351.0,1910.2 352.0,1895.9 353.3,1885.0 C354.6,1874.1 356.3,1866.0 358.9,1856.5 C361.5,1847.0 365.8,1836.1 368.9,1828.0 C372.1,1819.9 376.1,1819.6 377.7,1808.0 C379.3,1796.4 378.4,1766.6 378.5,1758.3 Z" fill="#7fb59c" stroke="#2a2a2a" stroke-width="1.3" stroke-linejoin="round"/>
<path d="M440.0,1812.4 C440.1,1816.3 439.2,1828.7 440.8,1836.0 C442.4,1843.3 446.2,1848.3 449.6,1856.5 C452.9,1864.7 458.1,1873.2 460.9,1885.0 C463.7,1896.8 465.8,1915.8 466.6,1927.6 C467.4,1939.4 467.0,1946.5 465.6,1956.0 C464.2,1965.5 460.8,1975.0 458.1,1984.5 C455.4,1994.0 451.3,2003.6 449.6,2013.0 C447.9,2022.4 448.0,2030.7 448.1,2041.0 C448.2,2051.3 450.0,2069.3 450.4,2075.0 L428.80,2075.00 C429.2,2069.3 431.0,2051.3 431.1,2041.0 C431.2,2030.7 431.3,2022.4 429.6,2013.0 C427.9,2003.6 423.8,1994.0 421.1,1984.5 C418.4,1975.0 415.0,1965.5 413.6,1956.0 C412.2,1946.5 411.8,1939.4 412.6,1927.6 C413.4,1915.8 415.5,1896.8 418.3,1885.0 C421.1,1873.2 426.2,1864.7 429.6,1856.5 C432.9,1848.3 436.8,1843.3 438.4,1836.0 C440.0,1828.7 439.1,1816.3 439.2,1812.4 Z" fill="#80708f" stroke="#2a2a2a" stroke-width="1.3" stroke-linejoin="round"/>
<path d="M500.7,1775.1 C500.8,1780.8 500.5,1801.2 501.5,1809.5 C502.5,1817.8 503.9,1817.4 506.6,1825.2 C509.2,1833.0 514.5,1846.1 517.5,1856.5 C520.5,1866.9 523.1,1877.4 524.7,1887.8 C526.2,1898.2 526.8,1908.6 526.9,1919.0 C527.0,1929.4 526.8,1940.0 525.3,1950.4 C523.7,1960.9 520.6,1971.3 517.5,1981.7 C514.4,1992.1 508.4,2005.2 506.6,2013.0 C504.8,2020.8 505.3,2023.4 506.6,2028.6 C507.9,2033.8 511.2,2036.6 514.3,2044.3 C517.4,2052.0 523.4,2069.9 525.3,2075.0 L475.28,2075.00 C477.1,2069.9 483.2,2052.0 486.3,2044.3 C489.4,2036.6 492.7,2033.8 494.0,2028.6 C495.3,2023.4 495.8,2020.8 494.0,2013.0 C492.2,2005.2 486.2,1992.1 483.1,1981.7 C480.0,1971.3 476.8,1960.9 475.3,1950.4 C473.7,1940.0 473.6,1929.4 473.7,1919.0 C473.8,1908.6 474.3,1898.2 475.9,1887.8 C477.4,1877.4 480.1,1866.9 483.1,1856.5 C486.1,1846.1 491.3,1833.0 494.0,1825.2 C496.6,1817.4 498.1,1817.8 499.1,1809.5 C500.1,1801.2 499.7,1780.8 499.9,1775.1 Z" fill="#c6515f" stroke="#2a2a2a" stroke-width="1.3" stroke-linejoin="round"/>
<path d="M561.4,1793.9 C561.5,1798.1 560.9,1811.2 562.2,1819.0 C563.4,1826.8 566.4,1832.0 568.8,1840.8 C571.2,1849.6 574.2,1861.7 576.6,1872.1 C578.9,1882.5 581.0,1891.4 582.9,1903.4 C584.7,1915.4 587.3,1933.6 587.6,1944.0 C587.8,1954.4 586.6,1957.1 584.5,1966.0 C582.4,1974.9 577.8,1986.9 575.0,1997.3 C572.1,2007.7 568.8,2020.8 567.3,2028.6 C565.7,2036.4 565.4,2036.6 565.7,2044.3 C565.9,2052.0 568.2,2069.9 568.8,2075.0 L553.16,2075.00 C553.7,2069.9 556.0,2052.0 556.3,2044.3 C556.5,2036.6 556.2,2036.4 554.7,2028.6 C553.1,2020.8 549.8,2007.7 547.0,1997.3 C544.1,1986.9 539.6,1974.9 537.5,1966.0 C535.4,1957.1 534.1,1954.4 534.4,1944.0 C534.6,1933.6 537.2,1915.4 539.1,1903.4 C540.9,1891.4 543.0,1882.5 545.4,1872.1 C547.7,1861.7 550.8,1849.6 553.2,1840.8 C555.6,1832.0 558.5,1826.8 559.8,1819.0 C561.0,1811.2 560.4,1798.1 560.6,1793.9 Z" fill="#efcdc2" stroke="#2a2a2a" stroke-width="1.3" stroke-linejoin="round"/>
<path d="M622.0,1770.4 C622.2,1775.7 621.6,1792.9 622.8,1802.0 C624.1,1811.1 626.8,1816.1 629.4,1825.2 C632.1,1834.3 636.2,1846.1 638.8,1856.5 C641.5,1866.9 643.6,1877.4 645.1,1887.8 C646.7,1898.2 647.6,1909.6 648.2,1919.0 C648.9,1928.4 649.9,1934.6 649.1,1944.0 C648.4,1953.4 646.0,1965.0 643.5,1975.4 C641.0,1985.9 636.5,1997.8 634.1,2006.7 C631.8,2015.6 630.1,2017.2 629.4,2028.6 C628.8,2040.0 630.3,2067.3 630.4,2075.0 L612.84,2075.00 C613.0,2067.3 614.5,2040.0 613.8,2028.6 C613.2,2017.2 611.5,2015.6 609.1,2006.7 C606.8,1997.8 602.2,1985.9 599.7,1975.4 C597.2,1965.0 594.9,1953.4 594.1,1944.0 C593.4,1934.6 594.4,1928.4 595.0,1919.0 C595.7,1909.6 596.6,1898.2 598.1,1887.8 C599.7,1877.4 601.8,1866.9 604.4,1856.5 C607.1,1846.1 611.2,1834.3 613.8,1825.2 C616.5,1816.1 619.2,1811.1 620.4,1802.0 C621.7,1792.9 621.1,1775.7 621.2,1770.4 Z" fill="#ffffff" stroke="#2a2a2a" stroke-width="1.3" stroke-linejoin="round"/>
<path d="M682.7,1732.9 C682.9,1743.1 682.3,1778.7 683.5,1794.0 C684.8,1809.3 687.7,1814.6 690.1,1825.0 C692.5,1835.4 695.6,1846.0 697.9,1856.5 C700.3,1867.0 702.4,1874.8 704.2,1887.8 C706.1,1900.8 708.7,1921.7 708.9,1934.7 C709.2,1947.7 707.9,1955.6 705.8,1966.0 C703.7,1976.4 698.4,1986.9 696.3,1997.3 C694.2,2007.7 693.8,2015.6 693.3,2028.6 C692.8,2041.5 693.3,2067.3 693.3,2075.0 L671.32,2075.00 C671.3,2067.3 671.8,2041.5 671.3,2028.6 C670.8,2015.6 670.4,2007.7 668.3,1997.3 C666.2,1986.9 660.9,1976.4 658.8,1966.0 C656.7,1955.6 655.5,1947.7 655.7,1934.7 C656.0,1921.7 658.6,1900.8 660.4,1887.8 C662.3,1874.8 664.4,1867.0 666.7,1856.5 C669.1,1846.0 672.1,1835.4 674.5,1825.0 C676.9,1814.6 679.9,1809.3 681.1,1794.0 C682.4,1778.7 681.8,1743.1 681.9,1732.9 Z" fill="#ffffff" stroke="#2a2a2a" stroke-width="1.3" stroke-linejoin="round"/>
<path d="M743.4,1754.8 C743.5,1760.2 743.2,1777.9 744.2,1787.0 C745.2,1796.1 746.9,1800.5 749.3,1809.5 C751.7,1818.5 756.0,1830.4 758.6,1840.8 C761.2,1851.2 762.9,1859.1 764.9,1872.1 C766.9,1885.1 769.7,1906.0 770.5,1919.0 C771.3,1932.0 770.8,1940.0 769.6,1950.4 C768.4,1960.9 765.9,1971.3 763.3,1981.7 C760.7,1992.1 755.8,2002.6 754.0,2013.0 C752.2,2023.4 752.4,2034.0 752.4,2044.3 C752.4,2054.6 753.7,2069.9 754.0,2075.0 L732.00,2075.00 C732.3,2069.9 733.6,2054.6 733.6,2044.3 C733.6,2034.0 733.8,2023.4 732.0,2013.0 C730.2,2002.6 725.3,1992.1 722.7,1981.7 C720.1,1971.3 717.6,1960.9 716.4,1950.4 C715.2,1940.0 714.7,1932.0 715.5,1919.0 C716.3,1906.0 719.1,1885.1 721.1,1872.1 C723.1,1859.1 724.8,1851.2 727.4,1840.8 C730.0,1830.4 734.3,1818.5 736.7,1809.5 C739.1,1800.5 740.8,1796.1 741.8,1787.0 C742.8,1777.9 742.5,1760.2 742.6,1754.8 Z" fill="#ffffff" stroke="#2a2a2a" stroke-width="1.3" stroke-linejoin="round"/>
<path d="M804.1,1751.6 C804.2,1758.7 803.4,1781.8 804.9,1794.0 C806.4,1806.2 810.4,1814.6 813.1,1825.0 C815.7,1835.4 818.3,1843.4 820.9,1856.5 C823.5,1869.6 826.8,1887.8 828.7,1903.4 C830.5,1919.1 832.4,1937.4 831.9,1950.4 C831.4,1963.5 828.2,1971.3 825.6,1981.7 C823.0,1992.1 817.7,2002.6 816.2,2013.0 C814.6,2023.4 815.9,2034.0 816.2,2044.3 C816.4,2054.6 817.4,2069.9 817.7,2075.0 L789.68,2075.00 C789.9,2069.9 790.9,2054.6 791.2,2044.3 C791.4,2034.0 792.7,2023.4 791.2,2013.0 C789.6,2002.6 784.4,1992.1 781.8,1981.7 C779.2,1971.3 776.0,1963.5 775.5,1950.4 C775.0,1937.4 776.8,1919.1 778.7,1903.4 C780.5,1887.8 783.9,1869.6 786.5,1856.5 C789.1,1843.4 791.6,1835.4 794.3,1825.0 C796.9,1814.6 801.0,1806.2 802.5,1794.0 C804.0,1781.8 803.1,1758.7 803.3,1751.6 Z" fill="#ffffff" stroke="#2a2a2a" stroke-width="1.3" stroke-linejoin="round"/>
<path d="M135.5 1816.1h0M129.0 1960.3h0M134.5 1816.2h0M129.1 1978.9h0M139.4 1974.6h0M136.5 1822.2h0M134.5 1900.7h0M133.7 2039.1h0M130.2 1889.4h0M133.5 1871.1h0M132.7 1840.8h0M137.1 1935.3h0M134.4 1999.3h0M140.3 1839.2h0M133.5 2037.2h0M143.6 1973.2h0M130.6 1952.0h0M140.0 1988.7h0M137.8 1836.7h0M130.1 1843.1h0M132.9 1872.5h0M139.1 1887.7h0M142.1 1998.7h0M138.7 2034.1h0M132.9 1987.0h0M137.5 1832.3h0M139.7 1925.5h0M134.6 1811.4h0M136.8 2020.1h0M128.1 1963.2h0M144.4 1888.5h0M146.0 1951.6h0M135.7 1837.5h0M135.3 1989.7h0M137.3 1986.8h0M133.5 1817.6h0M134.1 2035.7h0M134.3 1836.8h0M143.3 1967.7h0M136.2 1907.8h0M132.4 1986.6h0M138.5 1881.7h0M127.0 1948.3h0M133.9 1816.1h0M140.1 1970.7h0M137.5 2033.2h0M140.9 1852.0h0M135.4 2036.2h0M131.9 1882.4h0M131.5 1832.2h0M138.8 1819.3h0M130.3 1942.6h0M139.9 1836.6h0M129.9 1863.1h0M140.1 1902.5h0M143.4 1920.0h0M136.7 1889.0h0M135.4 1968.7h0M135.5 1968.6h0M133.3 1821.5h0M140.5 1985.3h0M137.8 1961.9h0M139.6 1829.7h0M135.7 1817.8h0M135.2 1823.3h0M134.7 1865.3h0M137.0 1967.1h0M140.7 1849.0h0M142.7 1973.2h0M144.1 1942.8h0M130.8 1853.1h0M134.2 1993.1h0M142.6 1889.0h0M130.2 1884.7h0M134.2 1841.9h0M133.6 1963.8h0M128.0 1982.3h0M138.3 1850.6h0M136.2 1908.7h0M135.1 2023.7h0M131.2 1833.6h0M132.1 1909.5h0M126.3 1907.3h0M141.4 1883.6h0M144.5 1863.6h0M134.3 1933.9h0M131.3 1983.8h0M143.1 1940.4h0M132.6 1924.2h0M136.6 1812.0h0M134.8 1835.1h0M145.0 1924.6h0M136.6 1957.6h0M134.1 2004.3h0M139.7 1885.6h0M130.6 1927.6h0M142.7 1891.4h0M139.5 1848.9h0M132.7 1960.3h0M137.8 2035.8h0M136.1 1850.4h0M134.0 2039.5h0M127.1 1866.6h0M137.0 1890.9h0M129.0 1898.9h0M135.2 1990.3h0M135.8 1908.9h0M144.2 1960.7h0M139.3 1996.4h0M129.6 1873.3h0M138.0 1810.4h0M144.4 1931.4h0M134.0 1869.1h0M145.1 1893.2h0M143.0 1960.3h0M135.2 1972.0h0M142.5 1889.1h0M144.4 1973.2h0M144.4 1974.1h0M137.3 1895.8h0M135.4 1985.7h0M136.9 1822.4h0M139.9 2007.5h0M135.4 1819.4h0M133.9 1845.4h0M132.5 1894.0h0M135.0 1856.5h0M133.1 1956.7h0M133.2 1834.8h0M143.6 1853.4h0M138.7 1830.5h0M137.9 1815.1h0M141.5 1854.9h0M127.8 1896.8h0M137.8 1811.6h0M135.9 1924.5h0M140.0 1876.6h0M127.4 1909.4h0M132.5 1939.4h0M136.8 2001.3h0M129.1 1983.0h0M138.4 1966.1h0M140.6 2002.4h0M138.0 1926.9h0M131.7 1981.3h0M141.9 1925.2h0M137.0 1937.7h0M141.5 2003.6h0M128.5 1853.1h0M129.2 1942.5h0M136.1 2032.3h0M142.5 1922.5h0M132.6 2007.2h0M129.8 1902.1h0M128.9 1903.9h0M134.8 2009.0h0M144.2 1886.0h0M133.9 1995.5h0M139.5 1913.9h0M132.2 1835.2h0M132.5 2004.1h0M141.0 1966.3h0M133.1 1937.0h0M139.4 2004.1h0M137.3 2014.1h0M129.6 1860.8h0M137.9 1812.5h0M134.4 2001.6h0M131.7 1833.2h0M132.2 1892.2h0M142.6 1862.9h0M136.5 1889.7h0M131.8 1828.6h0M140.1 1824.1h0M138.4 2005.2h0M134.9 2014.7h0M142.4 1850.7h0M144.7 1940.7h0M134.5 1878.3h0M143.8 1968.8h0M133.9 1829.6h0M144.7 1928.9h0M129.2 1931.0h0M139.2 1962.1h0M138.6 1814.3h0M136.0 1954.2h0M129.4 1874.6h0M133.5 1905.8h0M138.4 1846.6h0M145.3 1954.7h0M136.0 2032.1h0M133.7 1968.4h0M137.5 1897.1h0M133.8 2035.3h0M132.9 1904.6h0M143.3 1990.8h0M127.8 1906.9h0M138.0 1937.7h0M141.7 1959.5h0M137.2 1904.6h0M127.1 1981.3h0M139.2 1848.3h0M138.5 2034.4h0M145.6 1858.9h0M135.3 1858.2h0M137.1 1827.8h0M139.9 1886.6h0M137.3 1820.0h0M131.7 1939.5h0M137.1 2024.6h0M128.2 1945.5h0M135.4 2014.8h0M137.3 1905.1h0M145.3 1900.3h0M139.8 1905.7h0M144.3 1982.7h0M134.6 1830.8h0M133.7 1940.7h0M132.7 2010.1h0M128.7 1851.7h0M135.9 1956.9h0M135.0 1864.6h0M139.8 1851.7h0M133.8 1979.4h0M131.6 2006.9h0M129.3 1930.5h0M136.6 1817.4h0M134.2 1809.7h0M135.3 1821.6h0M133.4 1997.2h0M138.1 1818.6h0M143.4 1993.9h0M135.6 1829.4h0M136.4 2037.8h0M133.7 2010.6h0M139.9 1906.5h0M136.5 1844.9h0M140.6 1995.9h0M142.8 1963.5h0M136.8 2039.0h0M131.5 1850.6h0M136.6 2019.5h0M143.7 1939.8h0M134.0 1962.0h0M127.8 1935.5h0M133.5 1851.7h0M138.9 1988.2h0M134.1 1940.1h0M133.9 1876.5h0M144.4 1878.7h0M132.5 1993.4h0M141.1 1913.6h0M134.5 1838.3h0M130.0 1935.7h0M132.9 2017.2h0M137.7 2010.0h0M132.0 1888.0h0M138.4 2006.8h0M133.9 1840.9h0M136.9 1811.3h0M132.6 1894.7h0M131.3 1965.3h0M138.6 1823.6h0M138.9 2011.4h0M140.5 1928.7h0M131.3 2005.5h0M133.3 1863.3h0M132.9 1972.7h0M131.5 1980.5h0M138.0 1897.6h0M142.6 1946.3h0M130.4 1929.9h0M137.5 1898.9h0M133.6 1996.9h0M135.4 2020.0h0M134.1 1969.9h0M126.2 1964.7h0M136.6 1809.2h0M134.3 1865.4h0M135.7 1965.6h0M141.0 1942.2h0M131.1 1998.5h0M139.5 1996.8h0M130.3 1845.1h0M131.5 1836.5h0M146.1 1931.7h0M131.7 1910.4h0M140.9 1830.8h0M131.0 1925.6h0M135.6 2017.5h0M136.3 2036.1h0M130.7 1851.8h0M133.6 1993.1h0M143.0 1971.5h0M136.4 1889.3h0M139.1 1969.8h0M130.2 1879.3h0M126.6 1859.7h0M139.0 1948.0h0M135.1 1983.0h0M137.4 1972.3h0M136.8 2002.7h0M138.2 1957.5h0M131.1 1839.0h0M138.9 1994.6h0M144.5 1916.6h0M138.7 1833.7h0M128.3 1914.7h0M132.7 1820.3h0M139.3 1835.6h0M127.1 1908.4h0M145.7 1912.3h0M132.7 1986.3h0M133.5 1909.8h0M138.5 1846.1h0M144.8 1907.1h0M139.3 1978.6h0M142.1 1997.6h0M144.9 1856.0h0M136.2 2013.2h0M136.5 1822.0h0M146.1 1913.1h0M139.8 1849.8h0M138.2 1979.2h0M144.3 1859.5h0M142.5 1852.2h0M136.5 2011.9h0M127.7 1856.5h0M134.6 1834.7h0M142.3 1932.5h0M128.4 1975.5h0M126.4 1967.6h0M144.7 1877.7h0M131.9 2008.4h0M144.5 1885.7h0M135.8 1832.4h0M132.5 1853.7h0M129.0 1911.3h0M140.5 1826.7h0M138.1 1980.1h0M133.3 1822.1h0M138.5 1944.5h0M131.6 1882.5h0M144.5 1948.0h0M136.4 1876.0h0M144.1 1905.6h0M143.4 1876.1h0M135.0 2038.7h0M133.7 2003.5h0M138.0 2031.1h0M135.8 2032.6h0M140.3 1960.8h0M127.2 1934.7h0M142.3 1955.9h0M144.3 1949.8h0M133.3 1949.3h0M129.8 1915.7h0M142.8 1844.0h0M135.5 1899.2h0M138.8 2011.6h0M136.8 1891.8h0M140.3 1847.6h0M143.2 1944.1h0M133.8 1821.8h0M136.5 1864.8h0M136.4 1852.0h0M127.4 1875.1h0M136.8 1996.2h0M136.4 2014.9h0M137.4 2004.7h0M145.0 1912.8h0M145.7 1878.9h0M145.2 1936.2h0M136.4 1811.3h0M142.6 1867.3h0M138.6 2017.5h0M127.7 1885.6h0M134.7 2033.5h0M137.5 1996.1h0M140.3 1972.2h0M134.4 1847.5h0M140.3 1884.7h0M146.0 1959.3h0M133.2 1923.4h0M135.8 1818.1h0M140.0 1938.0h0M137.8 1837.5h0M143.9 1985.9h0M138.0 1822.6h0M138.0 1900.9h0M134.3 1960.3h0M145.5 1940.8h0M146.2 1926.7h0M133.8 2008.6h0M143.6 1985.1h0M137.2 1891.1h0M146.1 1862.2h0M138.4 1834.4h0M138.9 2037.5h0M135.4 2002.6h0M137.8 2024.4h0M133.7 1893.9h0M132.7 1870.7h0M134.5 1931.7h0M134.8 1940.2h0M139.3 2039.5h0M140.8 1967.8h0M140.2 1883.6h0M141.3 1849.2h0M130.8 1932.7h0M134.8 1840.9h0M139.5 1874.9h0M126.9 1904.8h0M135.3 1869.9h0M138.7 2037.4h0M145.5 1943.1h0M133.6 1825.9h0M134.1 1825.9h0M137.0 1858.5h0M134.9 2011.5h0M135.6 1869.3h0M145.8 1915.5h0M137.2 1865.4h0M140.6 1946.6h0M131.4 1998.9h0M131.4 1839.8h0M136.1 1983.1h0M126.9 1912.3h0M143.8 1989.7h0M136.1 2037.0h0M133.1 1817.5h0M142.2 1964.6h0M143.6 1891.2h0M132.8 2007.0h0M134.4 1834.8h0M144.2 1871.1h0M134.8 1915.0h0M135.2 1992.5h0M133.1 1866.3h0M144.4 1934.7h0M133.5 2021.2h0M140.2 1880.3h0M140.9 1912.9h0M134.1 2024.3h0M131.0 1963.4h0M130.0 1952.4h0M139.0 1823.2h0M139.0 1953.1h0M131.3 1896.2h0M140.5 1987.8h0M128.2 1905.6h0M132.4 1942.4h0M130.1 1984.0h0M134.4 1913.6h0M133.7 1846.5h0M134.0 1835.9h0M134.0 1899.3h0M143.8 1954.2h0M130.2 1915.1h0M129.2 1916.4h0M130.2 1999.9h0M144.7 1859.0h0M133.0 1934.5h0M139.7 1833.0h0M129.5 1963.0h0M128.5 1978.8h0M133.9 1820.6h0M144.4 1908.2h0M126.5 1958.2h0M132.4 1955.0h0M131.2 1843.6h0M136.6 1816.5h0M144.2 1978.4h0M134.9 1948.7h0M134.0 2018.1h0M139.0 2020.7h0M141.1 1924.1h0M140.2 1943.5h0M140.0 1959.3h0M135.9 1958.6h0M134.4 1835.4h0M139.9 1870.1h0M137.7 1821.5h0M144.7 1906.9h0M141.1 1894.3h0M133.2 1824.3h0M139.9 2002.6h0M134.9 1849.3h0M128.0 1980.2h0M140.1 1960.0h0M137.9 2039.3h0M138.3 1817.3h0M134.1 1828.3h0M136.1 1993.5h0M143.9 1894.7h0M133.8 2001.6h0M142.4 1999.0h0M130.6 1960.2h0M137.4 1922.2h0M141.1 1859.7h0M134.0 1817.6h0M129.2 1873.2h0M141.6 1985.0h0M136.0 1899.0h0M139.5 2015.6h0M139.9 1968.8h0M132.3 1889.7h0M142.0 1971.6h0M133.4 1817.2h0M135.9 1965.6h0M144.9 1914.4h0M140.6 1981.5h0M130.2 1949.1h0M135.1 1925.2h0M134.0 2024.4h0M139.0 1867.5h0M142.3 1977.8h0M137.9 1892.6h0M131.6 1872.8h0M134.6 1831.3h0M138.9 1812.5h0M145.2 1970.1h0M137.2 1816.3h0M135.7 2034.0h0M134.1 1866.8h0M132.0 1838.9h0M140.1 1824.2h0M142.8 1952.2h0M136.9 1894.9h0M135.5 1880.1h0M139.3 1987.1h0M134.1 1826.9h0M136.4 1952.7h0M127.1 1923.4h0M135.0 1860.1h0M139.8 2015.0h0M135.9 1809.9h0M135.3 1835.2h0M140.9 1938.8h0M138.6 1935.7h0M129.9 1936.9h0M136.1 1835.5h0M138.7 1883.5h0M140.8 2008.2h0M129.0 1933.1h0M139.8 1931.8h0M140.5 1842.8h0M137.9 1836.3h0M139.2 2002.3h0M134.5 1861.5h0M136.1 2012.7h0M134.3 1839.1h0M135.8 1883.3h0M129.3 1945.3h0M139.5 1838.9h0M137.4 1909.7h0M127.9 1856.2h0M133.9 1871.8h0M138.0 2013.0h0M137.2 1903.5h0M141.1 1965.5h0M131.9 1979.1h0M131.9 1887.2h0M142.7 1882.9h0M127.1 1901.2h0M133.0 1973.8h0M144.5 1967.4h0M136.7 2015.5h0M133.0 2016.7h0M126.9 1919.4h0M138.2 2004.3h0M129.9 1943.1h0M132.9 1850.0h0M132.0 1991.1h0M143.3 1935.1h0M135.7 1811.9h0M137.6 1850.5h0M145.4 1870.7h0M143.4 1871.1h0M136.2 1889.5h0M140.8 1976.3h0M130.8 1953.9h0M127.7 1902.1h0M135.7 1843.5h0M139.3 2012.2h0M140.3 1854.7h0M137.2 2036.2h0M135.7 2006.3h0M138.0 1990.5h0M135.4 1924.9h0M136.4 1935.9h0M127.1 1928.4h0M129.9 1968.6h0M138.7 1815.6h0M140.2 1996.9h0M129.2 1895.1h0M128.7 1882.6h0M131.2 1900.1h0M144.2 1896.4h0M137.1 1826.9h0M141.4 2005.0h0M141.2 1924.3h0M134.9 1816.7h0M143.8 1972.1h0M138.9 1821.4h0M131.2 2000.8h0M132.1 1945.8h0M134.6 1995.3h0M137.9 2014.2h0M136.1 1853.5h0M134.5 1929.8h0M131.5 1999.1h0M140.0 2011.3h0M139.8 1865.8h0M144.4 1947.0h0M139.8 1831.0h0M141.2 1976.8h0M137.0 1910.1h0M137.5 1819.9h0M138.3 2014.3h0M134.8 1822.2h0M135.7 1931.4h0M138.5 1997.7h0M139.2 2013.1h0M141.8 1981.7h0M135.3 1839.5h0M135.0 2016.9h0M128.0 1875.5h0M143.6 1956.8h0M133.4 1834.3h0M139.3 1827.3h0M141.0 1840.7h0M145.0 1952.1h0M136.2 2008.8h0M129.0 1935.7h0M139.6 2013.8h0M134.5 1813.9h0M137.2 1811.7h0M128.2 1849.0h0M134.8 2036.9h0M140.6 1926.9h0M133.3 2020.1h0M135.3 1815.6h0M142.5 1940.8h0M139.7 2011.6h0M130.9 1962.0h0M137.8 2009.2h0M131.6 1941.1h0M144.8 1855.8h0M136.1 1923.4h0M132.2 1849.5h0M138.3 1826.1h0M133.1 1940.9h0M137.6 1864.3h0M143.0 1872.7h0M135.7 2033.8h0M134.5 1988.3h0M135.0 2039.8h0M138.7 1972.0h0M134.5 2033.3h0M136.9 1852.2h0M138.7 1994.6h0M136.6 1844.2h0M142.2 1991.5h0M136.2 1938.8h0M137.3 1856.0h0M141.7 1876.7h0M138.6 2014.5h0M139.2 1821.3h0M133.5 2003.9h0M133.3 1825.7h0M139.1 1891.6h0M133.6 1813.4h0M137.7 1870.0h0M130.1 1856.4h0M133.6 1823.3h0M136.7 2032.3h0M134.5 1993.5h0M136.4 1946.7h0M136.5 1821.1h0M144.6 1876.0h0M130.9 1886.6h0M128.6 1875.9h0M144.7 1936.3h0M133.0 1964.3h0M139.5 1836.1h0M137.3 1955.1h0M133.0 1942.8h0M128.5 1900.7h0M138.3 1869.2h0M133.4 2009.2h0M136.0 1919.3h0M138.1 2003.5h0M127.2 1887.3h0M134.3 2017.8h0M142.7 1951.0h0M137.1 2031.7h0M135.7 1922.8h0M128.8 1941.8h0M134.1 2022.6h0M138.9 2020.4h0M134.2 1820.3h0M130.0 1997.1h0M135.8 1995.9h0M137.7 1993.4h0M131.4 1982.1h0M130.7 1948.3h0M127.2 1932.2h0M138.9 2012.5h0M126.5 1865.3h0M128.7 1963.7h0M131.1 1974.3h0M144.7 1981.6h0M137.3 2032.6h0M137.4 1894.7h0M134.7 1822.0h0M132.9 1918.7h0M135.2 2022.0h0M144.2 1968.6h0M142.7 1984.1h0M139.0 1992.1h0M137.0 1832.7h0M132.9 1939.9h0M126.4 1980.2h0M130.7 1912.7h0M134.6 1868.8h0M129.4 1867.2h0M135.5 2012.0h0M138.3 1864.3h0M136.6 2014.1h0M145.4 1892.3h0M133.2 1869.3h0M129.7 1849.5h0M141.2 1858.0h0M144.1 1928.5h0M132.9 1826.1h0M130.2 1957.1h0M141.0 1895.8h0M128.1 1960.4h0M139.7 1875.9h0M136.8 1968.9h0M130.5 1985.9h0M127.4 1882.2h0M138.1 1872.4h0M138.9 1963.8h0M134.8 1812.5h0M135.9 2032.4h0M144.0 1916.0h0M144.2 1941.5h0M137.1 1828.2h0M136.3 1914.6h0M143.8 1971.9h0M134.4 1820.3h0M133.4 1822.1h0M133.6 1844.5h0M127.7 1938.1h0M137.6 2035.2h0M132.6 1833.1h0M136.0 1818.8h0M136.4 1931.7h0M135.7 2023.7h0M134.2 1979.3h0M137.7 1869.1h0M143.2 1922.2h0M132.9 1875.7h0M136.3 1935.9h0M143.0 1887.8h0M133.6 1838.8h0M132.6 1820.3h0M140.6 2010.1h0M140.1 1832.9h0M129.4 1928.0h0M143.6 1988.8h0M141.9 1946.9h0M135.7 2019.2h0M135.3 1978.1h0M130.7 1964.2h0M138.5 2014.7h0M134.4 1996.9h0M132.6 1992.5h0M137.9 1818.9h0M138.8 1831.8h0M130.0 1872.7h0M145.0 1892.2h0M136.9 1972.4h0M129.6 1877.9h0M128.4 1976.1h0M134.9 1996.1h0M141.8 1858.2h0M139.1 2003.5h0M136.0 1847.6h0M141.4 1947.0h0M139.1 1814.5h0M137.6 1996.4h0M137.3 1942.4h0M132.5 1863.3h0M143.4 1881.4h0M133.5 1885.3h0M134.1 1913.1h0M139.4 1898.3h0M138.4 1945.1h0M134.4 1853.1h0M138.1 1938.0h0M133.0 1980.8h0M131.2 1879.6h0M142.7 1882.0h0M145.2 1967.2h0M141.7 1969.9h0M128.5 1921.9h0M137.0 2009.0h0M134.4 1963.5h0M145.6 1943.5h0M133.0 1855.8h0M142.2 1956.2h0M138.0 2009.3h0M132.6 1916.3h0M142.0 1848.5h0M140.8 1859.2h0M137.7 1861.7h0M126.2 1931.2h0M139.5 1934.4h0M126.5 1867.5h0M139.3 1914.1h0M135.0 2039.1h0M135.8 1817.3h0M138.8 2012.0h0M133.2 2006.2h0M144.5 1897.1h0M137.0 1987.5h0M138.7 1816.7h0M133.4 1859.0h0M127.4 1860.5h0M138.0 2015.3h0M142.1 1974.6h0M138.6 1857.9h0M138.5 1951.9h0M136.8 1810.3h0M142.6 1878.9h0M127.6 1901.7h0M137.5 2038.5h0M128.4 1983.7h0M132.4 1941.3h0M136.4 2008.5h0M136.8 1809.9h0M137.9 1916.7h0M136.1 1916.1h0M136.3 2038.0h0M145.3 1939.6h0M134.8 1820.6h0M140.0 1854.7h0M136.3 1898.9h0M135.1 1968.3h0M137.3 1830.7h0M131.4 1830.4h0M138.2 1872.1h0M137.2 1972.3h0M126.3 1898.5h0M138.5 1969.1h0M133.9 1825.3h0M130.3 1890.2h0M141.2 1914.0h0M131.2 1869.0h0M144.2 1871.6h0M141.2 1946.3h0M133.8 1870.5h0M129.0 1930.8h0M128.7 1899.0h0M128.5 1893.1h0M131.1 1862.8h0M133.9 2019.2h0M143.7 1907.4h0M136.4 1855.1h0M134.5 2000.1h0M135.9 2019.1h0M131.7 1958.9h0M133.7 2037.8h0M131.7 1836.9h0M135.7 1979.6h0M136.8 1915.9h0M130.7 1983.8h0M128.1 1923.1h0M141.7 1889.5h0M138.9 1974.8h0M132.8 1854.9h0M141.0 1898.8h0M130.3 1850.2h0M143.6 1918.4h0M135.1 1836.2h0M136.9 2000.5h0M138.0 1994.1h0M139.3 1954.2h0M145.0 1948.1h0M138.1 1929.4h0M140.5 1935.0h0M138.4 1905.6h0M142.5 1998.0h0M128.4 1865.2h0M130.8 1981.6h0M145.7 1903.8h0M142.3 1980.1h0M138.7 2019.6h0M141.8 1911.0h0M133.3 1863.8h0M136.0 2010.0h0M140.4 1859.1h0M137.8 1861.6h0M129.4 1986.8h0M140.3 2007.4h0M144.1 1914.9h0M127.1 1945.7h0M135.9 1831.5h0M143.4 1902.9h0M135.5 2038.4h0M134.5 1931.6h0M127.7 1867.5h0M131.4 1939.2h0M143.5 1875.5h0M140.7 1871.0h0M136.0 1903.6h0M133.2 2017.2h0M132.7 1941.1h0M143.0 1866.4h0M141.7 1920.1h0M139.7 1843.8h0M145.2 1971.3h0M136.1 1819.9h0M142.1 1841.2h0M142.8 1945.7h0M142.8 1944.2h0M127.5 1904.5h0M139.1 2039.8h0M146.0 1862.9h0M136.8 1830.5h0M137.9 1987.3h0M133.4 1869.4h0M134.9 1986.3h0M144.3 1937.8h0M137.2 1810.7h0M141.7 1879.6h0M135.3 1902.4h0M133.7 1907.0h0M126.9 1965.5h0M133.9 2000.2h0M137.9 1915.8h0M143.9 1959.3h0M129.7 1847.3h0M141.0 1998.9h0M133.4 1832.3h0M133.8 1913.5h0M141.8 1982.3h0M137.6 2035.2h0M141.4 1899.3h0M139.9 2011.5h0M138.0 1992.5h0M141.1 1913.8h0M128.7 1884.7h0M145.1 1876.2h0M128.1 1859.6h0M134.4 1913.3h0M145.5 1906.0h0M131.5 1855.9h0M131.0 1856.3h0M144.1 1913.5h0M135.7 2023.8h0M127.6 1878.5h0M133.2 1939.6h0M146.1 1893.4h0M144.3 1910.9h0M127.2 1914.5h0M139.2 1884.2h0M131.5 1902.7h0M142.2 1881.4h0M136.8 2023.2h0M143.8 1936.9h0M131.1 1882.7h0M140.6 1905.1h0M142.8 1970.5h0M137.7 2013.8h0M134.3 1960.6h0M135.8 2017.4h0M135.2 2023.8h0M129.2 1848.7h0M127.1 1891.4h0M132.4 1971.9h0M137.3 1978.9h0M139.5 1953.0h0M135.7 1973.3h0M132.7 2010.4h0M140.9 1906.8h0M137.2 1809.4h0M139.8 1862.0h0M139.0 1992.0h0M135.1 1817.0h0M136.8 1962.4h0M139.5 1875.3h0M137.7 1979.3h0M132.3 1985.0h0M128.0 1958.6h0M128.6 1920.3h0M133.7 1999.5h0M130.6 1919.6h0M126.9 1908.0h0M136.0 2016.3h0M140.7 1987.6h0M136.0 2021.7h0M138.6 1811.2h0M135.8 1946.5h0M135.2 1823.0h0M137.8 2020.9h0M132.2 1989.4h0M136.8 2030.9h0M131.3 1998.7h0M133.7 1833.9h0M129.6 1996.2h0M140.6 2002.5h0M137.0 1840.7h0M138.3 2031.1h0M131.3 1952.1h0M144.1 1916.7h0M143.0 1988.4h0M130.5 1877.3h0M142.3 1973.9h0M126.3 1914.4h0M133.5 1852.2h0M133.7 1950.7h0M134.7 1838.1h0M137.1 1995.0h0M144.4 1857.2h0M135.7 1813.6h0M138.9 2011.4h0M136.5 1874.6h0M133.7 1889.8h0M133.8 1888.7h0M130.1 1996.6h0M135.6 1868.3h0M126.6 1931.2h0M132.2 1932.7h0M135.7 1810.8h0M127.6 1929.1h0M135.3 1902.4h0M137.9 1836.4h0M145.3 1884.9h0M134.1 1823.4h0M134.2 2034.2h0M139.6 1830.0h0M130.8 1981.5h0M145.0 1916.1h0M144.8 1904.3h0M136.4 1869.2h0M128.0 1953.9h0M133.2 1941.9h0M135.0 1931.9h0M135.5 1833.8h0M137.9 1811.4h0M139.1 1839.9h0M138.4 1837.0h0M137.4 2014.9h0M134.5 1970.2h0M134.0 1810.4h0M143.9 1865.5h0M137.2 2018.0h0M138.7 1969.5h0M132.8 1873.3h0M137.2 2033.9h0M139.4 1939.7h0M136.7 1903.0h0M140.4 1997.3h0M135.3 2009.1h0M133.4 1887.2h0M135.7 1971.9h0M145.6 1946.1h0M132.9 1834.9h0M126.3 1922.5h0M136.3 1812.2h0M132.4 1827.2h0M139.2 1852.1h0M133.5 2016.0h0M136.1 2023.6h0M137.1 1839.1h0M144.2 1907.2h0M145.5 1934.4h0M141.0 1909.4h0M135.3 2035.2h0M130.2 1950.4h0M139.1 1899.9h0M140.6 1994.3h0M139.4 1818.3h0M138.4 2019.3h0M140.4 1919.4h0M132.5 1952.4h0M131.1 1883.0h0M136.8 1828.9h0M133.5 1912.5h0M137.9 2034.2h0M133.7 1970.1h0M131.7 1857.6h0M143.1 1915.9h0M137.9 1956.0h0M137.6 1833.4h0M146.2 1927.4h0" stroke="#8c8c8c" stroke-width="1.9" stroke-linecap="round" opacity="0.85" fill="none"/>
<path d="M194.6 1864.5h0M196.8 2017.7h0M188.9 1977.6h0M203.7 1930.4h0M205.8 1933.5h0M194.3 2013.6h0M189.4 1985.4h0M203.7 1979.9h0M205.9 2003.5h0M192.5 1861.8h0M199.5 1843.8h0M195.2 1841.8h0M190.1 1895.6h0M205.3 1885.9h0M199.4 1854.2h0M198.3 1981.6h0M202.3 1945.3h0M191.5 1947.8h0M191.8 1890.3h0M206.6 1906.2h0M188.3 1912.1h0M203.1 1923.2h0M200.9 1916.2h0M187.8 1964.5h0M194.7 1884.2h0M192.3 1860.0h0M200.2 2029.2h0M196.7 2029.2h0M203.1 2029.8h0M197.4 1954.7h0M191.4 1930.3h0M201.3 1900.8h0M200.4 1860.4h0M199.0 1930.6h0M199.8 2000.2h0M195.3 1847.5h0M198.5 2029.2h0M201.5 2033.0h0M206.2 1887.3h0M196.0 2022.7h0M190.2 1887.9h0M188.5 1898.4h0M206.5 1976.0h0M200.0 1863.8h0M196.5 1947.2h0" stroke="#9a9a9a" stroke-width="1.9" stroke-linecap="round" opacity="0.85" fill="none"/>
<path d="M260.2 1941.6h0M253.7 1998.1h0M265.4 1960.3h0M252.3 2019.1h0M259.9 1960.3h0M266.9 1926.3h0M256.5 1932.0h0M260.2 2027.1h0M253.7 1880.1h0M248.6 1924.7h0M262.3 1950.2h0M264.5 1908.6h0M258.6 2023.5h0M249.9 1967.1h0M261.7 1823.9h0M251.8 1876.2h0M261.6 2016.3h0M254.8 1839.3h0M253.0 1866.6h0M253.6 1931.2h0M251.3 1901.3h0M250.9 1836.3h0M261.3 2010.9h0M250.0 1939.2h0M250.6 1845.2h0M248.7 1883.6h0M251.6 1874.1h0M260.6 1855.2h0M257.0 1915.9h0M258.3 1893.1h0M253.7 1990.8h0M257.4 1827.2h0M263.2 1897.9h0M262.9 1836.5h0M256.4 1935.2h0M265.3 1883.3h0M250.8 1971.8h0M259.8 1924.4h0M255.1 1818.8h0M262.2 1948.8h0M256.0 1917.0h0M252.8 1927.1h0M264.6 2011.7h0M248.0 1921.4h0M263.6 1902.0h0" stroke="#9a9a9a" stroke-width="1.9" stroke-linecap="round" opacity="0.85" fill="none"/>
<path d="M320.0 1945.6h0M323.6 2008.6h0M316.8 2016.4h0M317.7 2029.7h0M310.1 1901.0h0M311.3 1942.1h0M320.5 1894.6h0M322.9 1995.2h0M309.7 1856.9h0M319.3 1890.7h0M322.4 2007.7h0M318.8 2026.7h0M314.1 1967.2h0M312.4 1902.5h0M320.4 1946.9h0M316.1 1954.5h0M313.2 1924.5h0M319.5 2003.0h0M324.5 1989.6h0M310.6 1895.9h0M326.4 1896.3h0M316.6 1998.2h0M315.3 1995.2h0M313.4 2013.0h0M327.8 1988.1h0M317.5 1923.8h0M313.7 1865.8h0M314.2 1886.5h0M314.9 1853.3h0M318.7 1860.5h0M312.8 1921.0h0M317.0 2028.6h0M326.1 1946.1h0M327.4 1991.6h0M325.7 1961.7h0M322.1 1852.6h0M314.7 1907.0h0M322.8 1993.8h0M315.5 1908.1h0M326.9 1895.4h0M313.4 1962.8h0M309.4 1946.3h0M318.3 1893.6h0M320.9 2034.5h0M323.5 1949.3h0" stroke="#9a9a9a" stroke-width="1.9" stroke-linecap="round" opacity="0.85" fill="none"/>
<path d="M383.9 1930.9h0M386.2 1978.9h0M388.2 1867.4h0M383.9 1935.3h0M387.5 1980.8h0M376.3 1864.6h0M380.6 1971.7h0M376.2 1979.7h0M370.3 2029.2h0M376.4 1972.7h0M370.0 1961.5h0M375.4 1855.0h0M372.4 1836.3h0M381.4 1816.1h0M376.0 1818.4h0M382.1 1816.9h0M385.4 1930.2h0M378.8 2033.3h0M376.7 1893.8h0M380.8 1862.3h0M379.0 2031.9h0M386.7 1981.2h0M382.3 1998.9h0M370.9 1930.8h0M386.0 1889.5h0M382.5 1905.2h0M380.6 1861.1h0M384.6 1851.3h0M369.3 1994.9h0M370.8 1959.1h0M373.1 2027.7h0M385.1 1829.4h0M369.1 1946.9h0M385.5 1910.9h0M384.0 1838.2h0M377.8 1868.9h0M370.0 1893.9h0M379.4 1892.5h0M379.7 1947.9h0M381.0 1839.3h0M386.9 1868.4h0M382.0 1822.0h0M379.5 1818.9h0M378.1 1883.2h0M384.9 1964.4h0" stroke="#9a9a9a" stroke-width="1.9" stroke-linecap="round" opacity="0.85" fill="none"/>
<path d="M449.3 1914.1h0M445.2 2032.4h0M447.1 2000.6h0M441.2 1852.5h0M444.2 1898.9h0M440.8 1933.5h0M441.1 1954.2h0M448.0 2007.6h0M445.7 1917.2h0M438.0 2019.2h0M439.5 1875.6h0M440.1 1995.8h0M443.7 1887.0h0M447.3 1913.3h0M441.5 1884.0h0M449.3 1924.7h0M447.2 1878.4h0M437.0 1930.7h0M439.5 1891.5h0M446.5 2026.7h0M441.1 2028.7h0M439.7 1896.7h0M435.5 1974.3h0M434.2 2037.5h0M433.7 1896.5h0M430.9 1883.8h0M437.1 1897.4h0M440.2 2028.6h0M436.6 1969.6h0M440.9 1884.3h0M431.3 1989.0h0M433.8 1974.2h0M436.7 1981.8h0M432.4 1880.1h0M440.4 2001.0h0M447.7 1868.4h0M435.2 1904.3h0M437.1 1852.9h0M447.6 1957.4h0M439.6 1908.5h0M443.3 1867.4h0M437.1 1908.7h0M446.0 1903.2h0M434.8 2036.3h0M431.7 1937.0h0" stroke="#9a9a9a" stroke-width="1.9" stroke-linecap="round" opacity="0.85" fill="none"/>
<path d="M492.1 1968.5h0M507.1 1954.0h0M500.5 2002.8h0M497.7 1957.0h0M492.4 1933.9h0M502.3 1968.7h0M497.9 1878.5h0M499.2 1980.7h0M505.5 2030.9h0M494.4 2003.6h0M497.5 1832.0h0M504.4 1896.3h0M501.3 2001.1h0M501.7 1958.9h0M500.5 1822.8h0M498.6 1863.1h0M501.1 1817.1h0M496.2 2019.8h0M490.7 1945.6h0M493.5 1894.2h0M503.0 2008.6h0M497.6 2016.7h0M504.3 1976.8h0M508.6 1930.0h0M495.9 1955.6h0M499.9 1976.4h0M502.6 1863.0h0M499.8 1826.0h0M490.3 1940.3h0M492.0 1961.0h0M497.1 1961.2h0M504.2 1821.7h0M496.3 1829.5h0M495.2 1928.8h0M499.8 1934.4h0M501.2 1944.8h0M494.5 1881.3h0M498.9 1971.3h0M508.6 1932.2h0M499.1 1817.0h0M491.4 1941.8h0M498.3 1984.7h0M494.2 1886.3h0M494.7 2032.5h0M503.6 1999.8h0" stroke="#9a9a9a" stroke-width="1.9" stroke-linecap="round" opacity="0.85" fill="none"/>
<path d="M559.5 1965.7h0M552.3 1983.2h0M558.5 1977.7h0M554.4 1959.2h0M556.3 1904.9h0M565.5 1901.8h0M570.2 1931.4h0M555.4 1954.0h0M561.5 1960.2h0M561.5 1862.9h0M559.7 1836.3h0M564.7 1944.4h0M562.0 2031.6h0M560.7 1839.0h0M565.9 1885.5h0M555.5 2018.1h0M556.8 1992.9h0M560.0 1871.6h0M556.7 1920.2h0M559.6 1888.3h0M554.2 1976.0h0M555.7 1910.7h0M555.9 1984.1h0M551.5 1986.3h0M559.8 2010.3h0M564.0 2026.4h0M552.9 2007.6h0M561.5 1988.2h0M561.9 2016.6h0M569.0 1905.5h0M558.8 2038.9h0M559.8 1863.9h0M554.2 1969.4h0M561.8 1954.6h0M553.9 1998.6h0M561.3 1862.9h0M562.7 1988.9h0M556.2 1987.0h0M563.2 1840.7h0M551.5 1967.3h0M564.1 1851.6h0M555.1 1971.3h0M559.3 1887.8h0M558.9 1838.2h0M551.8 1883.3h0M569.8 1942.0h0M563.9 1849.9h0M556.7 1960.5h0M566.4 1966.5h0M559.1 1887.5h0M559.8 1963.1h0M559.0 1872.2h0M562.7 1980.4h0M556.6 1900.7h0M564.3 1868.7h0M555.8 1994.4h0M552.3 1962.0h0M562.8 1870.2h0M559.5 1909.5h0M561.0 1845.3h0M555.5 1931.5h0M555.5 1963.0h0M553.1 1906.7h0M561.9 2012.4h0M559.0 2019.8h0M564.3 1993.8h0M566.3 1843.3h0M557.5 1938.3h0M556.5 1910.5h0M559.7 1991.2h0M559.8 1919.9h0M562.7 1975.5h0M562.5 1882.3h0M559.8 2033.3h0M566.4 2010.2h0M570.5 1928.3h0M555.5 1885.5h0M553.3 1917.7h0M558.7 1849.6h0M562.8 1934.1h0" stroke="#9a9a9a" stroke-width="1.9" stroke-linecap="round" opacity="0.85" fill="none"/>
<path d="M619.3 1858.6h0M619.6 1855.2h0M624.6 1939.6h0M618.8 1868.9h0M627.9 1851.3h0M629.3 1877.9h0M615.4 1827.3h0M620.1 1907.7h0M629.0 1983.1h0M617.6 1928.3h0M620.8 1974.8h0M618.1 1869.5h0M622.8 1810.5h0M618.6 1820.8h0M624.0 1952.7h0M624.3 1952.5h0M630.5 1994.3h0M620.3 2032.6h0M614.4 1891.0h0M615.1 1909.5h0M624.9 2024.8h0M625.5 1864.5h0M613.6 1970.7h0M626.3 1996.2h0M630.5 1918.9h0M615.0 1830.6h0M625.0 1976.5h0M622.3 1811.4h0M619.2 1946.0h0M627.4 1839.5h0M622.5 2015.2h0M622.5 1861.2h0M622.0 1958.8h0M616.2 1994.7h0M625.3 2013.2h0M614.0 1840.5h0M618.3 1989.0h0M628.3 2017.0h0M626.4 1875.0h0M621.7 1860.4h0M627.6 1853.9h0M629.9 1843.1h0M617.4 1893.5h0M619.0 1819.5h0M618.4 1824.9h0M623.5 2035.3h0M614.9 1837.0h0M629.2 1915.8h0M618.8 1914.6h0M614.1 1963.2h0M622.3 1852.8h0M620.9 2001.9h0M622.4 1876.8h0M615.8 1994.4h0M621.6 1844.7h0M614.6 1888.6h0M628.9 1859.1h0M618.4 1856.8h0M620.1 2027.5h0M625.8 2026.5h0M620.9 1920.4h0M620.8 1814.5h0M631.4 1930.8h0M625.8 1828.0h0M626.2 2030.3h0M625.2 1929.7h0M612.2 1891.7h0M626.5 1905.2h0M621.3 1830.6h0M617.5 1824.1h0M612.4 2003.5h0M617.1 1954.1h0M630.4 1874.9h0M622.9 1912.1h0M624.1 2015.7h0M618.3 1840.3h0M617.8 2000.2h0M618.4 1834.8h0M621.3 1875.1h0M628.5 1844.3h0" stroke="#9a9a9a" stroke-width="1.9" stroke-linecap="round" opacity="0.85" fill="none"/>
<path d="M689.9 1895.4h0M691.6 1848.3h0M674.9 1950.3h0M689.9 1866.0h0M672.9 1890.6h0M675.3 2012.3h0M684.7 1944.2h0M691.6 1895.9h0M683.4 1820.1h0M684.5 1803.2h0M682.4 1811.6h0M690.0 1995.3h0M689.0 2007.2h0M687.4 1857.2h0M677.2 1833.6h0M680.6 1816.3h0M681.6 1993.6h0M688.8 2037.1h0M681.4 1829.1h0M684.5 1928.8h0M674.1 1929.2h0M674.6 1936.2h0M681.5 1997.5h0M689.6 2034.3h0M690.9 1861.5h0M683.0 1849.0h0M688.1 1925.9h0M681.4 1812.6h0M686.8 1985.6h0M676.1 1969.0h0M690.5 1900.9h0M681.2 2014.9h0M676.2 1986.1h0M686.3 1815.5h0M675.8 1952.2h0M687.8 1863.0h0M685.7 1822.8h0M681.0 1836.0h0M681.8 1887.8h0M677.3 1855.6h0M687.5 1986.8h0M674.6 2025.7h0M685.3 1815.1h0M688.2 1856.4h0M680.2 1853.9h0M680.8 1951.8h0M673.0 1913.1h0M684.7 2001.2h0M681.9 1841.3h0M691.0 1943.5h0M683.9 2020.3h0M686.8 1870.5h0M682.7 1802.9h0M683.8 1922.7h0M676.8 2030.6h0M683.1 1822.6h0M687.6 1968.5h0M684.4 1862.8h0M686.0 1902.0h0M677.6 1819.8h0M690.8 2022.2h0M686.6 1843.5h0M683.8 1834.6h0M683.5 1877.1h0M689.2 2015.9h0M688.1 2021.9h0M676.3 1900.4h0M685.2 1994.2h0M681.5 1811.3h0M691.1 1980.3h0M690.2 1941.3h0M686.7 2011.5h0M682.6 1805.0h0M683.9 1863.8h0M676.5 1868.4h0M674.6 1932.0h0M683.1 1808.7h0M674.7 1970.5h0M674.2 1886.6h0M678.8 2025.0h0" stroke="#9a9a9a" stroke-width="1.9" stroke-linecap="round" opacity="0.85" fill="none"/>
<path d="M737.6 1888.2h0M751.3 1835.5h0M746.8 1936.5h0M740.7 1930.4h0M744.5 1974.2h0M746.2 1986.4h0M741.8 2000.6h0M736.1 1832.8h0M736.4 1972.1h0M745.4 1955.3h0M745.7 1809.4h0M745.6 1802.9h0M737.3 2001.0h0M747.6 1972.9h0M745.8 1825.5h0M749.8 1825.1h0M752.6 1963.7h0M741.4 1807.9h0M745.2 1946.8h0M750.8 1839.4h0M739.0 2002.4h0M746.2 1830.6h0M746.3 1894.6h0M740.9 1915.7h0M740.7 1800.1h0M747.6 1907.2h0M747.9 1899.2h0M750.6 1927.2h0M739.4 1955.4h0M735.2 1828.8h0M745.8 1804.5h0M747.6 2009.2h0M745.4 1821.6h0M749.6 1826.1h0M748.0 1955.5h0M741.4 1944.1h0M752.2 2002.8h0M741.7 1854.1h0M746.6 1974.6h0M742.0 1895.5h0M739.6 2032.1h0M746.7 1846.7h0M750.9 1862.7h0M751.5 1874.7h0M750.7 1887.9h0M747.6 1979.0h0M736.3 1847.4h0M740.8 1802.4h0M734.3 1958.2h0M744.3 1853.0h0M739.6 1832.8h0M746.5 1850.8h0M750.9 1823.9h0M747.3 1941.6h0M743.0 1930.3h0M748.9 2032.8h0M733.6 1996.3h0M751.8 1939.3h0M743.3 1951.3h0M736.5 1954.1h0M748.7 1973.2h0M743.1 1812.4h0M740.0 1940.8h0M751.4 1962.0h0M739.9 2017.0h0M749.9 1832.0h0M749.6 1944.9h0M738.9 2007.9h0M739.1 1938.8h0M746.8 1990.3h0M743.0 1853.4h0M737.7 1940.5h0M742.5 1839.5h0M742.9 1812.5h0M748.1 2025.3h0M745.9 1808.1h0M747.2 1970.5h0M744.7 1801.4h0M749.1 1842.7h0M740.3 1873.9h0" stroke="#9a9a9a" stroke-width="1.9" stroke-linecap="round" opacity="0.85" fill="none"/>
<path d="M794.2 1950.4h0M798.1 1859.9h0M807.2 1974.5h0M795.9 2013.2h0M794.3 1896.4h0M803.8 1845.9h0M806.7 1841.0h0M798.1 1927.0h0M809.9 1938.0h0M807.6 1991.8h0M796.8 1876.1h0M800.6 2029.4h0M799.7 1814.6h0M805.8 2002.1h0M808.3 1992.1h0M813.1 1924.8h0M804.7 1885.6h0M806.1 1997.6h0M805.2 2005.6h0M794.6 1966.6h0M799.5 1848.2h0M801.4 1811.4h0M801.3 1816.7h0M801.0 1949.5h0M797.9 1883.6h0M812.4 1857.9h0M805.9 1952.6h0M807.7 1834.1h0M801.7 1832.2h0M806.3 2037.4h0M807.4 1929.9h0M809.2 2001.0h0M794.3 1848.5h0M799.0 1870.0h0M812.5 1844.0h0M800.0 2009.3h0M801.6 1954.4h0M802.9 2018.8h0M798.6 1857.4h0M798.9 1931.0h0M811.6 1936.8h0M798.1 1890.8h0M803.9 2039.4h0M799.2 1814.2h0M805.2 1818.8h0M802.1 1988.4h0M802.8 1807.4h0M804.2 2039.0h0M810.4 2032.8h0M807.3 1970.6h0M799.0 1925.0h0M795.9 1950.8h0M802.8 1899.6h0M810.7 2028.5h0M803.7 1857.0h0M811.2 1836.0h0M799.6 2007.8h0M805.9 1950.3h0M807.8 1829.6h0M809.3 1925.6h0M793.7 1923.3h0M794.1 1872.1h0M810.8 2022.4h0M799.8 1998.2h0M806.2 1806.0h0M795.9 2026.8h0M795.1 1912.3h0M809.0 1980.5h0M803.3 1823.5h0M799.0 1928.2h0M802.1 2008.3h0M804.5 1844.2h0M797.7 1972.9h0M813.6 1869.0h0M802.4 1953.0h0M796.1 1920.2h0M800.4 1847.4h0M798.3 1937.7h0M795.1 1846.3h0M798.3 1948.4h0" stroke="#9a9a9a" stroke-width="1.9" stroke-linecap="round" opacity="0.85" fill="none"/>
<path d="M101.0 1725.3H837.6M101.0 1768.9H837.6M101.0 1812.4H837.6M101.0 1856.0H837.6M101.0 1899.6H837.6M101.0 1943.1H837.6M101.0 1986.7H837.6M101.0 2030.3H837.6M136.2 1718.0V2075.9M196.9 1718.0V2075.9M257.6 1718.0V2075.9M318.2 1718.0V2075.9M378.9 1718.0V2075.9M439.6 1718.0V2075.9M500.3 1718.0V2075.9M561.0 1718.0V2075.9M621.6 1718.0V2075.9M682.3 1718.0V2075.9M743.0 1718.0V2075.9M803.7 1718.0V2075.9" stroke="#000" stroke-opacity="0.13" stroke-width="1.7" fill="none"/>
<path d="M136.20,1948.10 L139.90,1951.80 L136.20,1955.50 L132.50,1951.80 Z" fill="#c0473f" stroke="#3a1a1a" stroke-width="1"/>
<path d="M196.88,1970.30 L200.58,1974.00 L196.88,1977.70 L193.18,1974.00 Z" fill="#c0473f" stroke="#3a1a1a" stroke-width="1"/>
<path d="M257.56,1984.20 L261.26,1987.90 L257.56,1991.60 L253.86,1987.90 Z" fill="#c0473f" stroke="#3a1a1a" stroke-width="1"/>
<path d="M318.24,1956.60 L321.94,1960.30 L318.24,1964.00 L314.54,1960.30 Z" fill="#c0473f" stroke="#3a1a1a" stroke-width="1"/>
<path d="M378.92,1954.30 L382.62,1958.00 L378.92,1961.70 L375.22,1958.00 Z" fill="#c0473f" stroke="#3a1a1a" stroke-width="1"/>
<path d="M439.60,1959.50 L443.30,1963.20 L439.60,1966.90 L435.90,1963.20 Z" fill="#c0473f" stroke="#3a1a1a" stroke-width="1"/>
<path d="M500.28,1971.70 L503.98,1975.40 L500.28,1979.10 L496.58,1975.40 Z" fill="#c0473f" stroke="#3a1a1a" stroke-width="1"/>
<path d="M560.96,1950.40 L564.66,1954.10 L560.96,1957.80 L557.26,1954.10 Z" fill="#c0473f" stroke="#3a1a1a" stroke-width="1"/>
<path d="M621.64,1944.20 L625.34,1947.90 L621.64,1951.60 L617.94,1947.90 Z" fill="#c0473f" stroke="#3a1a1a" stroke-width="1"/>
<path d="M682.32,1950.80 L686.02,1954.50 L682.32,1958.20 L678.62,1954.50 Z" fill="#c0473f" stroke="#3a1a1a" stroke-width="1"/>
<path d="M743.00,1942.00 L746.70,1945.70 L743.00,1949.40 L739.30,1945.70 Z" fill="#c0473f" stroke="#3a1a1a" stroke-width="1"/>
<path d="M803.68,1955.50 L807.38,1959.20 L803.68,1962.90 L799.98,1959.20 Z" fill="#c0473f" stroke="#3a1a1a" stroke-width="1"/>
<rect x="101.00" y="1718.00" width="736.60" height="357.90" fill="none" stroke="#111" stroke-width="2.0" />
<text transform="translate(159.82,1759.80) scale(1.0378,1)" font-size="18.80" fill="#656565"><tspan>6.4 x 10</tspan></text>
<text transform="translate(229.21,1753.90) scale(1.2184,1)" font-size="9.00" fill="#656565"><tspan>-5</tspan></text>
<text transform="translate(220.37,1739.90) scale(1.0670,1)" font-size="18.30" fill="#656565"><tspan>3.4 x 10</tspan></text>
<text transform="translate(289.74,1733.40) scale(1.0720,1)" font-size="9.50" fill="#656565"><tspan>-4</tspan></text>
<text transform="translate(468.32,1760.10) scale(1.0243,1)" font-size="19.00" fill="#656565"><tspan>0.0026</tspan></text>
<text transform="translate(81.90,1781.70) scale(1.0516,1)" font-size="21.09" fill="#1a1a1a"><tspan>4</tspan></text>
<text transform="translate(75.65,1933.80) scale(1.1101,1)" font-size="20.79" fill="#1a1a1a"><tspan>2</tspan></text>
<text transform="translate(75.93,2081.89) scale(1.0412,1)" font-size="20.92" fill="#1a1a1a"><tspan>0</tspan></text>
<text transform="translate(60.90,2012.17) rotate(-90)" font-size="21.40" fill="#1a1a1a"><tspan>CDKN1A expression</tspan></text>
<text transform="translate(859.60,1817.25) rotate(90)" font-size="21.20" fill="#1a1a1a"><tspan>BJ Perturb-multiome</tspan></text>
<text transform="translate(144.46,2117.53) rotate(-90)" font-size="21.70" fill="#1a1a1a"><tspan>NT</tspan></text>
<text transform="translate(204.66,2195.94) rotate(-90)" font-size="21.70" fill="#1a1a1a"><tspan font-style="italic">LINC01638</tspan></text>
<text transform="translate(265.34,2193.93) rotate(-90)" font-size="21.70" fill="#1a1a1a"><tspan font-style="italic">MIR155HG</tspan></text>
<text transform="translate(326.02,2152.81) rotate(-90)" font-size="21.70" fill="#1a1a1a"><tspan font-style="italic">NEAT1</tspan></text>
<text transform="translate(386.70,2144.24) rotate(-90)" font-size="21.70" fill="#1a1a1a"><tspan font-style="italic">GAS5</tspan></text>
<text transform="translate(447.38,2147.60) rotate(-90)" font-size="21.70" fill="#1a1a1a"><tspan font-style="italic">MEG3</tspan></text>
<text transform="translate(508.06,2195.94) rotate(-90)" font-size="21.70" fill="#1a1a1a"><tspan font-style="italic">LICN01578</tspan></text>
<text transform="translate(568.74,2135.83) rotate(-90)" font-size="21.70" fill="#1a1a1a"><tspan font-style="italic">XIST</tspan></text>
<text transform="translate(629.42,2159.27) rotate(-90)" font-size="21.70" fill="#1a1a1a"><tspan font-style="italic">SNHG1</tspan></text>
<text transform="translate(690.10,2193.93) rotate(-90)" font-size="21.70" fill="#1a1a1a"><tspan font-style="italic">MIR222HG</tspan></text>
<text transform="translate(750.78,2195.94) rotate(-90)" font-size="21.70" fill="#1a1a1a"><tspan font-style="italic">LINC00578</tspan></text>
<text transform="translate(811.46,2157.10) rotate(-90)" font-size="21.70" fill="#1a1a1a"><tspan font-style="italic">PURPL</tspan></text>
<path d="M140.6 2425.6h0M139.5 2511.7h0M140.4 2439.1h0M150.2 2397.3h0M150.8 2487.5h0M144.9 2459.8h0M145.4 2387.3h0M151.2 2399.1h0M151.0 2520.2h0M137.6 2359.7h0M143.9 2509.9h0M139.7 2456.3h0M142.3 2502.1h0M150.2 2495.8h0M139.9 2495.3h0M143.3 2516.1h0M143.8 2534.8h0M151.0 2512.5h0M148.8 2511.1h0M145.5 2337.2h0M151.0 2415.3h0M137.4 2407.3h0M143.0 2344.2h0M150.6 2320.2h0M149.9 2438.4h0M139.7 2386.7h0M143.5 2321.8h0M147.9 2465.9h0M151.0 2514.1h0M148.2 2559.2h0M150.2 2463.9h0M144.7 2431.4h0M148.6 2539.8h0M148.8 2516.6h0M137.6 2403.6h0M138.4 2448.0h0M145.3 2441.4h0M149.2 2350.7h0M147.4 2448.3h0M140.2 2554.2h0M137.9 2415.5h0M144.7 2450.8h0M150.9 2438.9h0M149.6 2369.5h0M143.9 2329.7h0M146.2 2404.0h0M148.2 2320.4h0M143.7 2548.8h0M137.4 2468.3h0M146.7 2486.0h0M145.0 2425.2h0M150.6 2366.5h0M147.1 2470.5h0M147.4 2419.0h0M137.4 2499.4h0M141.1 2501.2h0M151.0 2499.7h0M142.8 2521.4h0M142.6 2376.4h0M145.2 2466.4h0M146.8 2439.2h0M142.9 2490.5h0M141.7 2453.7h0M137.3 2325.3h0M149.3 2348.2h0M143.0 2304.4h0M147.9 2378.7h0M137.9 2364.0h0M150.2 2494.0h0M137.2 2547.5h0M138.2 2420.7h0M144.7 2501.5h0M139.2 2512.7h0M141.0 2489.3h0M150.2 2449.3h0M137.2 2470.1h0M143.3 2487.2h0M148.2 2319.0h0M145.1 2463.7h0M150.2 2455.7h0" stroke="#8f8f8f" stroke-width="2.0" stroke-linecap="round" opacity="0.85" fill="none"/>
<path d="M210.9 2437.1h0M207.4 2492.9h0M210.4 2482.9h0M210.1 2450.7h0M211.2 2483.7h0M199.8 2475.0h0M206.1 2434.4h0M202.7 2431.4h0" stroke="#8f8f8f" stroke-width="2.0" stroke-linecap="round" opacity="0.85" fill="none"/>
<path d="M265.9 2545.7h0M263.7 2522.5h0M270.4 2497.7h0M267.6 2524.6h0M269.3 2434.8h0M259.7 2559.6h0M267.7 2463.9h0M267.7 2452.0h0" stroke="#8f8f8f" stroke-width="2.0" stroke-linecap="round" opacity="0.85" fill="none"/>
<path d="M330.1 2447.9h0M325.1 2492.8h0M330.7 2479.5h0M323.6 2505.1h0M322.7 2548.5h0M329.6 2524.1h0M318.1 2558.7h0M325.0 2507.7h0" stroke="#8f8f8f" stroke-width="2.0" stroke-linecap="round" opacity="0.85" fill="none"/>
<path d="M378.6 2553.6h0M379.5 2526.1h0M389.1 2527.1h0M381.6 2475.7h0M387.5 2555.5h0M386.6 2500.3h0M382.8 2482.7h0M387.4 2485.8h0" stroke="#8f8f8f" stroke-width="2.0" stroke-linecap="round" opacity="0.85" fill="none"/>
<path d="M450.9 2502.8h0M444.0 2498.0h0M448.1 2558.5h0M443.3 2460.0h0M442.6 2438.8h0M446.4 2559.0h0M440.3 2528.7h0M440.4 2550.9h0" stroke="#8f8f8f" stroke-width="2.0" stroke-linecap="round" opacity="0.85" fill="none"/>
<path d="M498.0 2506.7h0M497.7 2496.8h0M511.1 2467.7h0M511.1 2512.7h0M509.8 2432.6h0M507.7 2497.2h0M505.9 2479.1h0M511.1 2515.2h0" stroke="#8f8f8f" stroke-width="2.0" stroke-linecap="round" opacity="0.85" fill="none"/>
<path d="M565.6 2456.7h0M566.5 2553.0h0M558.1 2488.4h0M562.4 2467.4h0M569.8 2555.7h0M568.7 2484.5h0M569.7 2443.6h0M564.3 2491.1h0" stroke="#8f8f8f" stroke-width="2.0" stroke-linecap="round" opacity="0.85" fill="none"/>
<path d="M620.7 2551.2h0M630.8 2433.0h0M629.4 2522.9h0M627.0 2431.4h0M629.1 2479.2h0M628.8 2499.7h0M628.2 2524.7h0M622.3 2517.1h0" stroke="#8f8f8f" stroke-width="2.0" stroke-linecap="round" opacity="0.85" fill="none"/>
<path d="M681.9 2505.1h0M681.3 2535.0h0M684.1 2473.2h0M690.1 2533.0h0M689.6 2516.6h0M680.2 2480.7h0M680.9 2533.1h0M677.7 2532.8h0" stroke="#8f8f8f" stroke-width="2.0" stroke-linecap="round" opacity="0.85" fill="none"/>
<path d="M744.5 2502.4h0M748.9 2471.7h0M742.1 2520.1h0M744.4 2476.7h0M743.3 2472.9h0M739.9 2512.1h0M750.1 2519.5h0M746.5 2473.9h0" stroke="#8f8f8f" stroke-width="2.0" stroke-linecap="round" opacity="0.85" fill="none"/>
<path d="M810.6 2452.5h0M811.2 2461.0h0M804.1 2546.7h0M802.6 2496.0h0M799.9 2554.9h0M811.4 2452.3h0M799.4 2491.4h0M804.9 2530.8h0" stroke="#8f8f8f" stroke-width="2.0" stroke-linecap="round" opacity="0.85" fill="none"/>
<path d="M144.6,2243.6 C144.6,2246.7 144.6,2256.1 144.6,2262.2 C144.7,2268.4 144.6,2274.4 144.6,2280.4 C144.6,2286.3 144.6,2292.2 144.6,2298.0 C144.6,2303.7 144.6,2309.4 144.6,2315.0 C144.6,2320.6 144.6,2326.2 144.6,2331.6 C144.6,2337.0 144.6,2342.4 144.6,2347.6 C144.6,2352.9 144.6,2358.0 144.6,2363.1 C144.6,2368.2 144.6,2373.2 144.6,2378.1 C144.6,2383.0 144.6,2387.8 144.6,2392.5 C144.6,2397.3 144.6,2401.9 144.6,2406.4 C144.6,2411.0 144.6,2415.5 144.6,2419.8 C144.6,2424.2 144.6,2428.5 144.6,2432.7 C144.6,2436.9 144.6,2441.0 144.6,2445.1 C144.6,2449.1 144.6,2453.0 144.6,2456.9 C144.6,2460.7 144.6,2464.5 144.6,2468.2 C144.6,2471.8 144.6,2475.4 144.6,2478.9 C144.6,2482.4 144.6,2485.9 144.6,2489.2 C144.6,2492.5 144.6,2495.7 144.6,2498.9 C144.6,2502.1 144.6,2505.1 144.6,2508.1 C144.6,2511.1 144.6,2514.0 144.6,2516.8 C144.6,2519.6 144.6,2522.3 144.6,2524.9 C144.6,2527.5 144.6,2530.1 144.6,2532.5 C144.6,2535.0 144.6,2537.3 144.6,2539.6 C144.6,2541.9 144.6,2544.1 144.6,2546.2 C144.6,2548.3 144.6,2550.3 144.6,2552.2 C144.6,2554.1 144.6,2556.0 144.6,2557.7 C144.7,2559.5 144.4,2561.1 144.7,2562.7 C145.0,2564.3 145.5,2565.8 146.5,2567.2 C147.5,2568.6 148.9,2569.9 150.6,2571.1 C152.2,2572.4 154.5,2573.5 156.6,2574.5 C158.6,2575.6 160.9,2576.6 162.7,2577.4 C164.5,2578.3 166.1,2579.1 167.3,2579.8 C168.5,2580.5 169.3,2581.1 169.9,2581.6 C170.5,2582.2 170.7,2582.6 170.9,2582.9 C171.2,2583.3 171.1,2583.6 171.2,2583.7 C171.2,2583.9 171.2,2584.0 171.2,2584.0 L117.20,2584.00 C117.2,2584.0 117.2,2583.9 117.2,2583.7 C117.3,2583.6 117.2,2583.3 117.5,2582.9 C117.7,2582.6 117.9,2582.2 118.5,2581.6 C119.1,2581.1 119.9,2580.5 121.1,2579.8 C122.3,2579.1 123.9,2578.3 125.7,2577.4 C127.5,2576.6 129.8,2575.6 131.8,2574.5 C133.9,2573.5 136.2,2572.4 137.8,2571.1 C139.5,2569.9 140.9,2568.6 141.9,2567.2 C142.9,2565.8 143.4,2564.3 143.7,2562.7 C144.0,2561.1 143.7,2559.5 143.8,2557.7 C143.8,2556.0 143.8,2554.1 143.8,2552.2 C143.8,2550.3 143.8,2548.3 143.8,2546.2 C143.8,2544.1 143.8,2541.9 143.8,2539.6 C143.8,2537.3 143.8,2535.0 143.8,2532.5 C143.8,2530.1 143.8,2527.5 143.8,2524.9 C143.8,2522.3 143.8,2519.6 143.8,2516.8 C143.8,2514.0 143.8,2511.1 143.8,2508.1 C143.8,2505.1 143.8,2502.1 143.8,2498.9 C143.8,2495.7 143.8,2492.5 143.8,2489.2 C143.8,2485.9 143.8,2482.4 143.8,2478.9 C143.8,2475.4 143.8,2471.8 143.8,2468.2 C143.8,2464.5 143.8,2460.7 143.8,2456.9 C143.8,2453.0 143.8,2449.1 143.8,2445.1 C143.8,2441.0 143.8,2436.9 143.8,2432.7 C143.8,2428.5 143.8,2424.2 143.8,2419.8 C143.8,2415.5 143.8,2411.0 143.8,2406.4 C143.8,2401.9 143.8,2397.3 143.8,2392.5 C143.8,2387.8 143.8,2383.0 143.8,2378.1 C143.8,2373.2 143.8,2368.2 143.8,2363.1 C143.8,2358.0 143.8,2352.9 143.8,2347.6 C143.8,2342.4 143.8,2337.0 143.8,2331.6 C143.8,2326.2 143.8,2320.6 143.8,2315.0 C143.8,2309.4 143.8,2303.7 143.8,2298.0 C143.8,2292.2 143.8,2286.3 143.8,2280.4 C143.8,2274.4 143.7,2268.4 143.8,2262.2 C143.8,2256.1 143.8,2246.7 143.8,2243.6 Z" fill="#b7b8bb" stroke="#2a2a2a" stroke-width="1.3" stroke-linejoin="round"/>
<line x1="135.80" y1="2582.80" x2="152.60" y2="2582.80" stroke="#8d8d8f" stroke-width="2.0" />
<path d="M204.6,2459.8 C204.6,2460.9 204.7,2464.4 204.7,2466.6 C204.7,2468.8 204.7,2471.0 204.7,2473.2 C204.7,2475.4 204.7,2477.5 204.8,2479.6 C204.9,2481.7 205.0,2483.8 205.2,2485.9 C205.4,2487.9 205.7,2489.9 205.8,2491.9 C205.9,2493.9 206.1,2495.8 206.0,2497.8 C206.0,2499.7 205.8,2501.6 205.7,2503.4 C205.5,2505.3 205.3,2507.1 205.1,2508.9 C205.0,2510.7 204.9,2512.4 204.8,2514.1 C204.8,2515.9 204.7,2517.6 204.7,2519.2 C204.7,2520.9 204.7,2522.5 204.7,2524.1 C204.7,2525.7 204.7,2527.3 204.7,2528.8 C204.7,2530.3 204.7,2531.8 204.7,2533.3 C204.7,2534.8 204.7,2536.2 204.7,2537.6 C204.7,2539.0 204.7,2540.4 204.7,2541.7 C204.7,2543.1 204.7,2544.4 204.7,2545.7 C204.7,2546.9 204.7,2548.2 204.7,2549.4 C204.7,2550.6 204.7,2551.8 204.7,2552.9 C204.7,2554.1 204.7,2555.2 204.7,2556.3 C204.7,2557.4 204.7,2558.4 204.7,2559.5 C204.7,2560.5 204.6,2561.5 204.7,2562.4 C204.8,2563.4 204.8,2564.3 205.1,2565.2 C205.4,2566.1 205.7,2567.0 206.3,2567.8 C206.9,2568.6 207.5,2569.4 208.4,2570.2 C209.3,2571.0 210.3,2571.7 211.5,2572.4 C212.6,2573.1 213.9,2573.8 215.2,2574.4 C216.5,2575.1 217.9,2575.7 219.2,2576.2 C220.5,2576.8 221.8,2577.4 222.9,2577.9 C224.0,2578.4 225.1,2578.9 226.0,2579.3 C226.9,2579.8 227.6,2580.2 228.3,2580.6 C228.9,2580.9 229.4,2581.3 229.8,2581.6 C230.2,2581.9 230.4,2582.2 230.6,2582.5 C230.8,2582.7 230.9,2582.9 231.0,2583.1 C231.1,2583.3 231.2,2583.5 231.2,2583.6 C231.2,2583.7 231.2,2583.8 231.2,2583.9 C231.2,2584.0 231.2,2584.0 231.2,2584.0 L177.24,2584.00 C177.2,2584.0 177.2,2584.0 177.2,2583.9 C177.2,2583.8 177.2,2583.7 177.3,2583.6 C177.3,2583.5 177.3,2583.3 177.4,2583.1 C177.5,2582.9 177.6,2582.7 177.9,2582.5 C178.1,2582.2 178.3,2581.9 178.7,2581.6 C179.1,2581.3 179.6,2580.9 180.2,2580.6 C180.8,2580.2 181.6,2579.8 182.5,2579.3 C183.4,2578.9 184.4,2578.4 185.6,2577.9 C186.7,2577.4 188.0,2576.8 189.3,2576.2 C190.6,2575.7 192.0,2575.1 193.3,2574.4 C194.6,2573.8 195.9,2573.1 197.0,2572.4 C198.2,2571.7 199.2,2571.0 200.1,2570.2 C200.9,2569.4 201.6,2568.6 202.2,2567.8 C202.7,2567.0 203.1,2566.1 203.4,2565.2 C203.7,2564.3 203.7,2563.4 203.8,2562.4 C203.9,2561.5 203.8,2560.5 203.8,2559.5 C203.8,2558.4 203.8,2557.4 203.8,2556.3 C203.8,2555.2 203.8,2554.1 203.8,2552.9 C203.8,2551.8 203.8,2550.6 203.8,2549.4 C203.8,2548.2 203.8,2546.9 203.8,2545.7 C203.8,2544.4 203.8,2543.1 203.8,2541.7 C203.8,2540.4 203.8,2539.0 203.8,2537.6 C203.8,2536.2 203.8,2534.8 203.8,2533.3 C203.8,2531.8 203.8,2530.3 203.8,2528.8 C203.8,2527.3 203.8,2525.7 203.8,2524.1 C203.8,2522.5 203.8,2520.9 203.8,2519.2 C203.7,2517.6 203.7,2515.9 203.7,2514.1 C203.6,2512.4 203.5,2510.7 203.3,2508.9 C203.2,2507.1 203.0,2505.3 202.8,2503.4 C202.7,2501.6 202.5,2499.7 202.4,2497.8 C202.4,2495.8 202.5,2493.9 202.7,2491.9 C202.8,2489.9 203.1,2487.9 203.3,2485.9 C203.4,2483.8 203.6,2481.7 203.7,2479.6 C203.7,2477.5 203.8,2475.4 203.8,2473.2 C203.8,2471.0 203.8,2468.8 203.8,2466.6 C203.8,2464.4 203.8,2460.9 203.8,2459.8 Z" fill="#cca68c" stroke="#2a2a2a" stroke-width="1.3" stroke-linejoin="round"/>
<line x1="195.84" y1="2582.80" x2="212.64" y2="2582.80" stroke="#8d8d8f" stroke-width="2.0" />
<path d="M264.7,2407.2 C264.7,2408.8 264.8,2413.7 264.9,2416.9 C265.1,2420.1 265.4,2423.2 265.5,2426.3 C265.7,2429.4 265.8,2432.4 265.7,2435.4 C265.6,2438.4 265.2,2441.4 265.1,2444.3 C264.9,2447.2 264.8,2450.1 264.8,2452.9 C264.7,2455.7 264.7,2458.5 264.7,2461.2 C264.7,2464.0 264.7,2466.6 264.7,2469.3 C264.7,2471.9 264.7,2474.5 264.7,2477.0 C264.7,2479.6 264.7,2482.1 264.7,2484.5 C264.7,2487.0 264.7,2489.4 264.7,2491.8 C264.7,2494.1 264.7,2496.5 264.7,2498.7 C264.7,2501.0 264.7,2503.2 264.7,2505.4 C264.7,2507.6 264.7,2509.7 264.7,2511.8 C264.7,2513.9 264.7,2516.0 264.7,2518.0 C264.7,2520.0 264.7,2521.9 264.7,2523.8 C264.7,2525.7 264.7,2527.6 264.7,2529.4 C264.7,2531.3 264.7,2533.0 264.7,2534.8 C264.7,2536.5 264.7,2538.2 264.7,2539.8 C264.7,2541.4 264.7,2543.0 264.7,2544.6 C264.7,2546.1 264.7,2547.6 264.7,2549.1 C264.7,2550.5 264.7,2551.9 264.7,2553.3 C264.7,2554.7 264.7,2556.0 264.7,2557.3 C264.8,2558.5 264.8,2559.8 265.0,2560.9 C265.3,2562.1 265.7,2563.3 266.3,2564.4 C266.9,2565.4 267.6,2566.5 268.6,2567.5 C269.5,2568.5 270.7,2569.4 272.0,2570.4 C273.2,2571.3 274.7,2572.1 276.1,2572.9 C277.5,2573.8 279.1,2574.5 280.4,2575.3 C281.8,2576.0 283.1,2576.7 284.2,2577.3 C285.4,2578.0 286.4,2578.5 287.2,2579.1 C288.1,2579.6 288.7,2580.1 289.2,2580.6 C289.8,2581.0 290.1,2581.5 290.4,2581.8 C290.7,2582.2 290.9,2582.5 291.0,2582.8 C291.1,2583.0 291.2,2583.3 291.2,2583.5 C291.3,2583.6 291.3,2583.8 291.3,2583.9 C291.3,2584.0 291.3,2584.0 291.3,2584.0 L237.28,2584.00 C237.3,2584.0 237.3,2584.0 237.3,2583.9 C237.3,2583.8 237.3,2583.6 237.3,2583.5 C237.4,2583.3 237.4,2583.0 237.6,2582.8 C237.7,2582.5 237.8,2582.2 238.1,2581.8 C238.4,2581.5 238.8,2581.0 239.3,2580.6 C239.9,2580.1 240.5,2579.6 241.3,2579.1 C242.2,2578.5 243.2,2578.0 244.3,2577.3 C245.5,2576.7 246.8,2576.0 248.2,2575.3 C249.5,2574.5 251.0,2573.8 252.5,2572.9 C253.9,2572.1 255.3,2571.3 256.6,2570.4 C257.9,2569.4 259.1,2568.5 260.0,2567.5 C260.9,2566.5 261.7,2565.4 262.3,2564.4 C262.9,2563.3 263.3,2562.1 263.5,2560.9 C263.8,2559.8 263.8,2558.5 263.8,2557.3 C263.9,2556.0 263.8,2554.7 263.8,2553.3 C263.8,2551.9 263.8,2550.5 263.8,2549.1 C263.8,2547.6 263.8,2546.1 263.8,2544.6 C263.8,2543.0 263.8,2541.4 263.8,2539.8 C263.8,2538.2 263.8,2536.5 263.8,2534.8 C263.8,2533.0 263.8,2531.3 263.8,2529.4 C263.8,2527.6 263.8,2525.7 263.8,2523.8 C263.8,2521.9 263.8,2520.0 263.8,2518.0 C263.8,2516.0 263.8,2513.9 263.8,2511.8 C263.8,2509.7 263.8,2507.6 263.8,2505.4 C263.8,2503.2 263.8,2501.0 263.8,2498.7 C263.8,2496.5 263.8,2494.1 263.8,2491.8 C263.8,2489.4 263.8,2487.0 263.8,2484.5 C263.8,2482.1 263.8,2479.6 263.8,2477.0 C263.8,2474.5 263.8,2471.9 263.8,2469.3 C263.8,2466.6 263.8,2464.0 263.8,2461.2 C263.8,2458.5 263.8,2455.7 263.8,2452.9 C263.7,2450.1 263.7,2447.2 263.5,2444.3 C263.4,2441.4 263.0,2438.4 262.9,2435.4 C262.8,2432.4 262.9,2429.4 263.0,2426.3 C263.1,2423.2 263.5,2420.1 263.7,2416.9 C263.8,2413.7 263.8,2408.8 263.9,2407.2 Z" fill="#5868a4" stroke="#2a2a2a" stroke-width="1.3" stroke-linejoin="round"/>
<line x1="255.88" y1="2582.80" x2="272.68" y2="2582.80" stroke="#8d8d8f" stroke-width="2.0" />
<path d="M324.7,2468.9 C324.7,2470.0 324.8,2473.1 324.8,2475.2 C324.8,2477.3 324.8,2479.3 324.8,2481.3 C324.8,2483.3 324.8,2485.3 324.8,2487.3 C324.8,2489.2 324.8,2491.2 324.8,2493.1 C324.8,2495.0 324.8,2496.8 324.8,2498.7 C324.8,2500.5 324.8,2502.3 324.9,2504.1 C325.0,2505.8 325.0,2507.6 325.2,2509.3 C325.4,2511.0 325.6,2512.7 325.8,2514.4 C326.0,2516.0 326.3,2517.7 326.4,2519.3 C326.6,2520.9 326.6,2522.4 326.6,2524.0 C326.6,2525.5 326.4,2527.0 326.2,2528.5 C326.1,2530.0 325.8,2531.4 325.6,2532.8 C325.5,2534.3 325.3,2535.7 325.2,2537.0 C325.0,2538.4 325.0,2539.7 324.9,2541.0 C324.9,2542.3 324.8,2543.6 324.8,2544.8 C324.8,2546.1 324.8,2547.3 324.8,2548.5 C324.8,2549.7 324.8,2550.8 324.8,2551.9 C324.8,2553.1 324.8,2554.2 324.8,2555.2 C324.8,2556.3 324.8,2557.3 324.8,2558.3 C324.8,2559.3 324.8,2560.3 324.8,2561.3 C324.8,2562.2 324.7,2563.1 324.8,2564.0 C324.8,2564.9 324.9,2565.8 325.2,2566.6 C325.4,2567.4 325.8,2568.2 326.4,2569.0 C326.9,2569.8 327.6,2570.5 328.5,2571.2 C329.4,2571.9 330.4,2572.6 331.6,2573.3 C332.7,2573.9 334.0,2574.5 335.3,2575.1 C336.6,2575.7 338.0,2576.3 339.3,2576.8 C340.6,2577.3 341.9,2577.8 343.0,2578.3 C344.1,2578.8 345.2,2579.2 346.1,2579.6 C347.0,2580.1 347.7,2580.4 348.3,2580.8 C349.0,2581.2 349.5,2581.5 349.8,2581.8 C350.2,2582.1 350.5,2582.3 350.7,2582.6 C350.9,2582.8 351.0,2583.0 351.1,2583.2 C351.2,2583.4 351.2,2583.5 351.3,2583.6 C351.3,2583.8 351.3,2583.9 351.3,2583.9 C351.3,2584.0 351.3,2584.0 351.3,2584.0 L297.32,2584.00 C297.3,2584.0 297.3,2584.0 297.3,2583.9 C297.3,2583.9 297.3,2583.8 297.4,2583.6 C297.4,2583.5 297.4,2583.4 297.5,2583.2 C297.6,2583.0 297.7,2582.8 297.9,2582.6 C298.1,2582.3 298.4,2582.1 298.8,2581.8 C299.2,2581.5 299.7,2581.2 300.3,2580.8 C300.9,2580.4 301.7,2580.1 302.6,2579.6 C303.5,2579.2 304.5,2578.8 305.6,2578.3 C306.8,2577.8 308.1,2577.3 309.4,2576.8 C310.6,2576.3 312.0,2575.7 313.3,2575.1 C314.6,2574.5 316.0,2573.9 317.1,2573.3 C318.2,2572.6 319.3,2571.9 320.1,2571.2 C321.0,2570.5 321.7,2569.8 322.3,2569.0 C322.8,2568.2 323.2,2567.4 323.5,2566.6 C323.7,2565.8 323.8,2564.9 323.9,2564.0 C323.9,2563.1 323.9,2562.2 323.9,2561.3 C323.9,2560.3 323.9,2559.3 323.9,2558.3 C323.9,2557.3 323.9,2556.3 323.9,2555.2 C323.9,2554.2 323.9,2553.1 323.9,2551.9 C323.9,2550.8 323.9,2549.7 323.9,2548.5 C323.9,2547.3 323.8,2546.1 323.8,2544.8 C323.8,2543.6 323.8,2542.3 323.7,2541.0 C323.7,2539.7 323.6,2538.4 323.5,2537.0 C323.4,2535.7 323.2,2534.3 323.0,2532.8 C322.8,2531.4 322.6,2530.0 322.4,2528.5 C322.2,2527.0 322.1,2525.5 322.0,2524.0 C322.0,2522.4 322.1,2520.9 322.2,2519.3 C322.3,2517.7 322.6,2516.0 322.8,2514.4 C323.0,2512.7 323.3,2511.0 323.4,2509.3 C323.6,2507.6 323.7,2505.8 323.8,2504.1 C323.8,2502.3 323.8,2500.5 323.9,2498.7 C323.9,2496.8 323.9,2495.0 323.9,2493.1 C323.9,2491.2 323.9,2489.2 323.9,2487.3 C323.9,2485.3 323.9,2483.3 323.9,2481.3 C323.9,2479.3 323.9,2477.3 323.9,2475.2 C323.9,2473.1 323.9,2470.0 323.9,2468.9 Z" fill="#ae639f" stroke="#2a2a2a" stroke-width="1.3" stroke-linejoin="round"/>
<line x1="315.92" y1="2582.80" x2="332.72" y2="2582.80" stroke="#8d8d8f" stroke-width="2.0" />
<path d="M384.8,2450.4 C384.8,2451.6 384.8,2455.3 384.8,2457.7 C384.8,2460.1 384.8,2462.5 384.8,2464.8 C384.8,2467.2 384.8,2469.5 384.8,2471.7 C384.8,2474.0 384.8,2476.2 384.8,2478.4 C384.8,2480.6 384.8,2482.8 384.8,2484.9 C384.8,2487.1 384.8,2489.2 384.9,2491.2 C384.9,2493.3 384.9,2495.3 385.0,2497.3 C385.1,2499.3 385.3,2501.3 385.5,2503.2 C385.6,2505.1 385.8,2507.0 385.9,2508.8 C386.0,2510.7 386.0,2512.5 385.9,2514.3 C385.8,2516.1 385.6,2517.9 385.5,2519.6 C385.4,2521.3 385.2,2523.0 385.1,2524.6 C385.0,2526.3 385.0,2527.9 384.9,2529.5 C384.9,2531.0 384.8,2532.6 384.8,2534.1 C384.8,2535.6 384.8,2537.1 384.8,2538.5 C384.8,2540.0 384.8,2541.4 384.8,2542.8 C384.8,2544.1 384.8,2545.5 384.8,2546.8 C384.8,2548.1 384.8,2549.4 384.8,2550.6 C384.8,2551.8 384.8,2553.0 384.8,2554.2 C384.8,2555.4 384.8,2556.5 384.8,2557.6 C384.8,2558.7 384.8,2559.8 384.8,2560.8 C384.8,2561.8 384.7,2562.8 384.9,2563.8 C385.0,2564.8 385.3,2565.7 385.7,2566.6 C386.2,2567.5 386.7,2568.3 387.5,2569.2 C388.2,2570.0 389.2,2570.8 390.2,2571.5 C391.3,2572.3 392.6,2573.0 393.9,2573.7 C395.2,2574.4 396.6,2575.0 398.0,2575.7 C399.3,2576.3 400.7,2576.9 402.0,2577.4 C403.2,2578.0 404.4,2578.5 405.4,2578.9 C406.4,2579.4 407.2,2579.9 407.9,2580.3 C408.7,2580.7 409.2,2581.1 409.7,2581.4 C410.1,2581.8 410.4,2582.1 410.6,2582.4 C410.9,2582.6 411.0,2582.9 411.1,2583.1 C411.2,2583.3 411.3,2583.5 411.3,2583.6 C411.4,2583.7 411.3,2583.8 411.4,2583.9 C411.4,2584.0 411.4,2584.0 411.4,2584.0 L357.36,2584.00 C357.4,2584.0 357.4,2584.0 357.4,2583.9 C357.4,2583.8 357.4,2583.7 357.4,2583.6 C357.4,2583.5 357.5,2583.3 357.6,2583.1 C357.7,2582.9 357.8,2582.6 358.1,2582.4 C358.3,2582.1 358.6,2581.8 359.1,2581.4 C359.5,2581.1 360.1,2580.7 360.8,2580.3 C361.5,2579.9 362.3,2579.4 363.3,2578.9 C364.3,2578.5 365.5,2578.0 366.7,2577.4 C368.0,2576.9 369.4,2576.3 370.7,2575.7 C372.1,2575.0 373.6,2574.4 374.8,2573.7 C376.1,2573.0 377.4,2572.3 378.5,2571.5 C379.6,2570.8 380.5,2570.0 381.3,2569.2 C382.0,2568.3 382.6,2567.5 383.0,2566.6 C383.4,2565.7 383.7,2564.8 383.9,2563.8 C384.0,2562.8 383.9,2561.8 383.9,2560.8 C383.9,2559.8 383.9,2558.7 383.9,2557.6 C383.9,2556.5 383.9,2555.4 383.9,2554.2 C383.9,2553.0 383.9,2551.8 383.9,2550.6 C383.9,2549.4 383.9,2548.1 383.9,2546.8 C383.9,2545.5 383.9,2544.1 383.9,2542.8 C383.9,2541.4 383.9,2540.0 383.9,2538.5 C383.9,2537.1 383.9,2535.6 383.9,2534.1 C383.9,2532.6 383.9,2531.0 383.8,2529.5 C383.8,2527.9 383.7,2526.3 383.6,2524.6 C383.5,2523.0 383.3,2521.3 383.2,2519.6 C383.1,2517.9 382.9,2516.1 382.8,2514.3 C382.8,2512.5 382.8,2510.7 382.8,2508.8 C382.9,2507.0 383.1,2505.1 383.2,2503.2 C383.4,2501.3 383.6,2499.3 383.7,2497.3 C383.8,2495.3 383.8,2493.3 383.9,2491.2 C383.9,2489.2 383.9,2487.1 383.9,2484.9 C383.9,2482.8 383.9,2480.6 383.9,2478.4 C383.9,2476.2 383.9,2474.0 383.9,2471.7 C383.9,2469.5 383.9,2467.2 383.9,2464.8 C383.9,2462.5 383.9,2460.1 383.9,2457.7 C383.9,2455.3 384.0,2451.6 384.0,2450.4 Z" fill="#7fb59c" stroke="#2a2a2a" stroke-width="1.3" stroke-linejoin="round"/>
<line x1="375.96" y1="2582.80" x2="392.76" y2="2582.80" stroke="#8d8d8f" stroke-width="2.0" />
<path d="M444.8,2410.0 C444.8,2411.6 444.8,2416.4 444.9,2419.5 C444.9,2422.7 444.8,2425.8 444.9,2428.8 C445.0,2431.8 445.3,2434.8 445.5,2437.8 C445.8,2440.7 446.5,2443.7 446.6,2446.5 C446.7,2449.4 446.5,2452.2 446.2,2455.0 C446.0,2457.8 445.5,2460.5 445.2,2463.2 C445.0,2465.9 445.0,2468.5 444.9,2471.1 C444.8,2473.7 444.9,2476.2 444.9,2478.7 C444.8,2481.2 444.9,2483.7 444.9,2486.1 C444.8,2488.5 444.9,2490.9 444.9,2493.2 C444.8,2495.6 444.9,2497.9 444.9,2500.1 C444.8,2502.3 444.9,2504.5 444.9,2506.7 C444.8,2508.8 444.9,2510.9 444.9,2513.0 C444.8,2515.0 444.8,2517.0 444.8,2519.0 C444.8,2521.0 444.8,2522.9 444.8,2524.8 C444.8,2526.7 444.8,2528.5 444.8,2530.3 C444.8,2532.1 444.8,2533.8 444.8,2535.5 C444.8,2537.2 444.8,2538.9 444.8,2540.5 C444.9,2542.1 444.8,2543.7 444.9,2545.2 C445.0,2546.7 445.3,2548.2 445.6,2549.6 C445.9,2551.1 446.3,2552.4 446.8,2553.8 C447.3,2555.1 448.0,2556.4 448.7,2557.7 C449.5,2558.9 450.4,2560.1 451.3,2561.3 C452.3,2562.5 453.4,2563.6 454.5,2564.7 C455.5,2565.7 456.7,2566.8 457.8,2567.8 C459.0,2568.7 460.1,2569.7 461.2,2570.6 C462.2,2571.5 463.3,2572.3 464.2,2573.1 C465.1,2573.9 465.9,2574.7 466.6,2575.4 C467.3,2576.1 468.0,2576.8 468.5,2577.4 C469.0,2578.0 469.4,2578.6 469.8,2579.2 C470.1,2579.7 470.4,2580.2 470.6,2580.6 C470.8,2581.1 471.0,2581.5 471.1,2581.9 C471.2,2582.2 471.2,2582.5 471.3,2582.8 C471.3,2583.1 471.4,2583.3 471.4,2583.5 C471.4,2583.6 471.4,2583.8 471.4,2583.9 C471.4,2584.0 471.4,2584.0 471.4,2584.0 L417.40,2584.00 C417.4,2584.0 417.4,2584.0 417.4,2583.9 C417.4,2583.8 417.4,2583.6 417.4,2583.5 C417.4,2583.3 417.5,2583.1 417.5,2582.8 C417.6,2582.5 417.6,2582.2 417.7,2581.9 C417.8,2581.5 418.0,2581.1 418.2,2580.6 C418.4,2580.2 418.7,2579.7 419.0,2579.2 C419.4,2578.6 419.8,2578.0 420.3,2577.4 C420.8,2576.8 421.5,2576.1 422.2,2575.4 C422.9,2574.7 423.7,2573.9 424.6,2573.1 C425.5,2572.3 426.6,2571.5 427.6,2570.6 C428.7,2569.7 429.8,2568.7 431.0,2567.8 C432.1,2566.8 433.3,2565.7 434.3,2564.7 C435.4,2563.6 436.5,2562.5 437.5,2561.3 C438.4,2560.1 439.3,2558.9 440.1,2557.7 C440.8,2556.4 441.5,2555.1 442.0,2553.8 C442.5,2552.4 442.9,2551.1 443.2,2549.6 C443.5,2548.2 443.8,2546.7 443.9,2545.2 C444.0,2543.7 443.9,2542.1 443.9,2540.5 C444.0,2538.9 443.9,2537.2 443.9,2535.5 C443.9,2533.8 443.9,2532.1 443.9,2530.3 C443.9,2528.5 443.9,2526.7 443.9,2524.8 C443.9,2522.9 443.9,2521.0 443.9,2519.0 C443.9,2517.0 444.0,2515.0 443.9,2513.0 C443.9,2510.9 444.0,2508.8 443.9,2506.7 C443.9,2504.5 444.0,2502.3 443.9,2500.1 C443.9,2497.9 444.0,2495.6 443.9,2493.2 C443.9,2490.9 444.0,2488.5 443.9,2486.1 C443.9,2483.7 444.0,2481.2 443.9,2478.7 C443.9,2476.2 444.0,2473.7 443.9,2471.1 C443.8,2468.5 443.8,2465.9 443.6,2463.2 C443.3,2460.5 442.8,2457.8 442.6,2455.0 C442.3,2452.2 442.1,2449.4 442.2,2446.5 C442.3,2443.7 443.0,2440.7 443.3,2437.8 C443.5,2434.8 443.8,2431.8 443.9,2428.8 C444.0,2425.8 443.9,2422.7 443.9,2419.5 C444.0,2416.4 444.0,2411.6 444.0,2410.0 Z" fill="#80708f" stroke="#2a2a2a" stroke-width="1.3" stroke-linejoin="round"/>
<line x1="436.00" y1="2582.80" x2="452.80" y2="2582.80" stroke="#8d8d8f" stroke-width="2.0" />
<path d="M504.8,2399.4 C504.8,2401.1 504.9,2406.2 504.9,2409.5 C504.9,2412.8 504.9,2416.1 504.9,2419.3 C504.9,2422.6 504.9,2425.8 504.9,2428.9 C504.9,2432.0 504.9,2435.1 504.9,2438.1 C504.9,2441.2 504.9,2444.2 504.9,2447.1 C504.9,2450.1 504.9,2453.0 504.9,2455.8 C504.9,2458.7 505.0,2461.5 505.1,2464.2 C505.2,2467.0 505.5,2469.7 505.7,2472.3 C505.9,2475.0 506.1,2477.6 506.0,2480.2 C506.0,2482.7 505.7,2485.2 505.5,2487.7 C505.4,2490.2 505.1,2492.6 505.0,2495.0 C504.9,2497.4 504.9,2499.7 504.9,2502.0 C504.9,2504.2 504.9,2506.5 504.9,2508.7 C504.9,2510.8 504.9,2513.0 504.9,2515.1 C504.9,2517.1 504.9,2519.2 504.9,2521.2 C504.9,2523.2 504.9,2525.1 504.9,2527.0 C504.9,2528.9 504.9,2530.8 504.9,2532.6 C504.9,2534.4 504.9,2536.1 504.9,2537.8 C504.9,2539.6 504.9,2541.2 504.9,2542.8 C504.9,2544.4 504.9,2546.0 504.9,2547.5 C504.9,2549.1 504.9,2550.5 504.9,2552.0 C504.9,2553.4 504.8,2554.8 504.9,2556.1 C505.0,2557.4 505.1,2558.7 505.5,2559.9 C505.9,2561.2 506.3,2562.3 507.0,2563.5 C507.7,2564.6 508.6,2565.7 509.6,2566.8 C510.6,2567.8 511.8,2568.8 513.1,2569.8 C514.4,2570.7 515.9,2571.6 517.3,2572.5 C518.7,2573.3 520.1,2574.1 521.4,2574.9 C522.7,2575.6 524.0,2576.4 525.0,2577.0 C526.1,2577.7 527.0,2578.3 527.8,2578.9 C528.5,2579.4 529.1,2580.0 529.6,2580.4 C530.1,2580.9 530.4,2581.3 530.7,2581.7 C530.9,2582.1 531.1,2582.4 531.2,2582.7 C531.3,2583.0 531.4,2583.2 531.4,2583.4 C531.4,2583.6 531.4,2583.8 531.4,2583.9 C531.4,2584.0 531.4,2584.0 531.4,2584.0 L477.44,2584.00 C477.4,2584.0 477.4,2584.0 477.4,2583.9 C477.5,2583.8 477.4,2583.6 477.5,2583.4 C477.5,2583.2 477.6,2583.0 477.7,2582.7 C477.8,2582.4 477.9,2582.1 478.2,2581.7 C478.5,2581.3 478.8,2580.9 479.3,2580.4 C479.8,2580.0 480.4,2579.4 481.1,2578.9 C481.9,2578.3 482.8,2577.7 483.9,2577.0 C484.9,2576.4 486.2,2575.6 487.5,2574.9 C488.8,2574.1 490.2,2573.3 491.6,2572.5 C493.0,2571.6 494.5,2570.7 495.7,2569.8 C497.0,2568.8 498.3,2567.8 499.3,2566.8 C500.3,2565.7 501.2,2564.6 501.9,2563.5 C502.5,2562.3 503.0,2561.2 503.4,2559.9 C503.7,2558.7 503.9,2557.4 504.0,2556.1 C504.1,2554.8 504.0,2553.4 504.0,2552.0 C504.0,2550.5 504.0,2549.1 504.0,2547.5 C504.0,2546.0 504.0,2544.4 504.0,2542.8 C504.0,2541.2 504.0,2539.6 504.0,2537.8 C504.0,2536.1 504.0,2534.4 504.0,2532.6 C504.0,2530.8 504.0,2528.9 504.0,2527.0 C504.0,2525.1 504.0,2523.2 504.0,2521.2 C504.0,2519.2 504.0,2517.1 504.0,2515.1 C504.0,2513.0 504.0,2510.8 504.0,2508.7 C504.0,2506.5 504.0,2504.2 504.0,2502.0 C503.9,2499.7 503.9,2497.4 503.8,2495.0 C503.7,2492.6 503.5,2490.2 503.4,2487.7 C503.2,2485.2 502.9,2482.7 502.9,2480.2 C502.8,2477.6 503.0,2475.0 503.2,2472.3 C503.3,2469.7 503.6,2467.0 503.8,2464.2 C503.9,2461.5 503.9,2458.7 504.0,2455.8 C504.0,2453.0 504.0,2450.1 504.0,2447.1 C504.0,2444.2 504.0,2441.2 504.0,2438.1 C504.0,2435.1 504.0,2432.0 504.0,2428.9 C504.0,2425.8 504.0,2422.6 504.0,2419.3 C504.0,2416.1 504.0,2412.8 504.0,2409.5 C504.0,2406.2 504.0,2401.1 504.0,2399.4 Z" fill="#c6515f" stroke="#2a2a2a" stroke-width="1.3" stroke-linejoin="round"/>
<line x1="496.04" y1="2582.80" x2="512.84" y2="2582.80" stroke="#8d8d8f" stroke-width="2.0" />
<path d="M564.9,2473.5 C564.9,2474.5 564.9,2477.6 564.9,2479.6 C564.9,2481.5 564.9,2483.5 565.0,2485.4 C565.0,2487.4 565.1,2489.3 565.3,2491.1 C565.5,2493.0 565.9,2494.9 566.1,2496.7 C566.2,2498.5 566.4,2500.3 566.4,2502.1 C566.3,2503.8 566.0,2505.6 565.8,2507.3 C565.6,2509.0 565.3,2510.6 565.2,2512.3 C565.0,2513.9 565.0,2515.6 565.0,2517.2 C564.9,2518.7 564.9,2520.3 564.9,2521.8 C564.9,2523.4 564.9,2524.9 564.9,2526.4 C564.9,2527.8 564.9,2529.3 564.9,2530.7 C564.9,2532.1 564.9,2533.5 564.9,2534.9 C564.9,2536.3 564.9,2537.6 564.9,2538.9 C564.9,2540.2 564.9,2541.5 564.9,2542.7 C564.9,2544.0 564.9,2545.2 564.9,2546.4 C564.9,2547.6 564.9,2548.8 564.9,2549.9 C564.9,2551.0 564.9,2552.1 564.9,2553.2 C564.9,2554.3 564.9,2555.4 564.9,2556.4 C564.9,2557.4 564.9,2558.4 564.9,2559.4 C564.9,2560.3 564.9,2561.3 564.9,2562.2 C565.0,2563.1 565.1,2564.0 565.3,2564.8 C565.6,2565.7 566.0,2566.5 566.5,2567.3 C567.0,2568.1 567.6,2568.9 568.3,2569.6 C569.1,2570.3 570.1,2571.0 571.1,2571.7 C572.1,2572.4 573.3,2573.1 574.5,2573.7 C575.6,2574.3 576.9,2574.9 578.2,2575.5 C579.4,2576.0 580.6,2576.6 581.8,2577.1 C582.9,2577.6 584.0,2578.1 584.9,2578.5 C585.9,2579.0 586.7,2579.4 587.4,2579.8 C588.1,2580.2 588.7,2580.6 589.2,2580.9 C589.7,2581.3 590.1,2581.6 590.4,2581.9 C590.7,2582.2 590.9,2582.4 591.0,2582.6 C591.2,2582.9 591.3,2583.1 591.3,2583.2 C591.4,2583.4 591.4,2583.5 591.5,2583.7 C591.5,2583.8 591.5,2583.9 591.5,2583.9 C591.5,2584.0 591.5,2584.0 591.5,2584.0 L537.48,2584.00 C537.5,2584.0 537.5,2584.0 537.5,2583.9 C537.5,2583.9 537.5,2583.8 537.5,2583.7 C537.5,2583.5 537.6,2583.4 537.6,2583.2 C537.7,2583.1 537.8,2582.9 537.9,2582.6 C538.1,2582.4 538.3,2582.2 538.6,2581.9 C538.9,2581.6 539.3,2581.3 539.8,2580.9 C540.2,2580.6 540.8,2580.2 541.5,2579.8 C542.3,2579.4 543.1,2579.0 544.0,2578.5 C545.0,2578.1 546.1,2577.6 547.2,2577.1 C548.3,2576.6 549.6,2576.0 550.8,2575.5 C552.0,2574.9 553.3,2574.3 554.5,2573.7 C555.7,2573.1 556.9,2572.4 557.9,2571.7 C558.9,2571.0 559.8,2570.3 560.6,2569.6 C561.4,2568.9 562.0,2568.1 562.5,2567.3 C563.0,2566.5 563.4,2565.7 563.6,2564.8 C563.9,2564.0 564.0,2563.1 564.0,2562.2 C564.1,2561.3 564.0,2560.3 564.0,2559.4 C564.0,2558.4 564.0,2557.4 564.0,2556.4 C564.0,2555.4 564.0,2554.3 564.0,2553.2 C564.0,2552.1 564.0,2551.0 564.0,2549.9 C564.0,2548.8 564.0,2547.6 564.0,2546.4 C564.0,2545.2 564.0,2544.0 564.0,2542.7 C564.0,2541.5 564.0,2540.2 564.0,2538.9 C564.0,2537.6 564.0,2536.3 564.0,2534.9 C564.0,2533.5 564.0,2532.1 564.0,2530.7 C564.0,2529.3 564.0,2527.8 564.0,2526.4 C564.0,2524.9 564.0,2523.4 564.0,2521.8 C564.0,2520.3 564.0,2518.7 564.0,2517.2 C564.0,2515.6 563.9,2513.9 563.8,2512.3 C563.6,2510.6 563.4,2509.0 563.2,2507.3 C563.0,2505.6 562.6,2503.8 562.6,2502.1 C562.6,2500.3 562.7,2498.5 562.9,2496.7 C563.1,2494.9 563.5,2493.0 563.7,2491.1 C563.8,2489.3 563.9,2487.4 564.0,2485.4 C564.0,2483.5 564.0,2481.5 564.0,2479.6 C564.0,2477.6 564.1,2474.5 564.1,2473.5 Z" fill="#efcdc2" stroke="#2a2a2a" stroke-width="1.3" stroke-linejoin="round"/>
<line x1="556.08" y1="2582.80" x2="572.88" y2="2582.80" stroke="#8d8d8f" stroke-width="2.0" />
<path d="M624.9,2380.6 C624.9,2382.5 625.0,2388.1 625.0,2391.7 C625.0,2395.4 625.0,2399.0 625.0,2402.6 C625.0,2406.1 625.0,2409.6 625.0,2413.1 C625.0,2416.5 625.0,2419.9 625.0,2423.3 C625.0,2426.6 625.0,2429.9 625.0,2433.2 C625.0,2436.4 625.0,2439.6 625.0,2442.8 C625.0,2445.9 625.0,2449.0 625.0,2452.0 C625.0,2455.0 625.0,2458.0 625.0,2461.0 C625.0,2463.9 625.0,2466.8 625.0,2469.6 C625.0,2472.4 625.0,2475.2 625.0,2477.9 C625.0,2480.6 625.0,2483.3 625.0,2485.9 C625.0,2488.5 625.0,2491.1 625.0,2493.6 C625.0,2496.1 625.0,2498.6 625.0,2501.0 C625.0,2503.4 625.0,2505.7 625.0,2508.0 C625.0,2510.3 625.0,2512.6 625.0,2514.8 C625.0,2517.0 625.0,2519.1 625.0,2521.2 C625.0,2523.3 625.0,2525.4 625.0,2527.3 C625.0,2529.3 625.0,2531.3 625.0,2533.2 C625.0,2535.0 625.0,2536.9 625.0,2538.6 C625.0,2540.4 625.0,2542.1 625.0,2543.8 C625.0,2545.5 624.9,2547.1 625.0,2548.7 C625.0,2550.3 624.9,2551.8 625.1,2553.2 C625.3,2554.7 625.7,2556.1 626.1,2557.5 C626.6,2558.8 627.2,2560.1 628.0,2561.4 C628.8,2562.7 629.8,2563.9 630.9,2565.0 C632.0,2566.2 633.3,2567.3 634.6,2568.3 C635.9,2569.4 637.3,2570.3 638.7,2571.3 C640.0,2572.2 641.4,2573.1 642.6,2574.0 C643.7,2574.8 644.9,2575.6 645.8,2576.3 C646.8,2577.0 647.6,2577.7 648.3,2578.3 C649.0,2579.0 649.5,2579.6 649.9,2580.1 C650.3,2580.6 650.6,2581.1 650.8,2581.5 C651.1,2581.9 651.2,2582.3 651.3,2582.6 C651.4,2582.9 651.4,2583.2 651.5,2583.4 C651.5,2583.6 651.5,2583.7 651.5,2583.8 C651.5,2583.9 651.5,2584.0 651.5,2584.0 L597.52,2584.00 C597.5,2584.0 597.5,2583.9 597.5,2583.8 C597.5,2583.7 597.5,2583.6 597.6,2583.4 C597.6,2583.2 597.6,2582.9 597.7,2582.6 C597.8,2582.3 598.0,2581.9 598.2,2581.5 C598.4,2581.1 598.7,2580.6 599.1,2580.1 C599.6,2579.6 600.1,2579.0 600.8,2578.3 C601.4,2577.7 602.3,2577.0 603.2,2576.3 C604.2,2575.6 605.3,2574.8 606.5,2574.0 C607.7,2573.1 609.0,2572.2 610.4,2571.3 C611.7,2570.3 613.1,2569.4 614.4,2568.3 C615.7,2567.3 617.0,2566.2 618.1,2565.0 C619.2,2563.9 620.2,2562.7 621.0,2561.4 C621.8,2560.1 622.4,2558.8 622.9,2557.5 C623.4,2556.1 623.7,2554.7 623.9,2553.2 C624.1,2551.8 624.0,2550.3 624.1,2548.7 C624.1,2547.1 624.1,2545.5 624.1,2543.8 C624.1,2542.1 624.1,2540.4 624.1,2538.6 C624.1,2536.9 624.1,2535.0 624.1,2533.2 C624.1,2531.3 624.1,2529.3 624.1,2527.3 C624.1,2525.4 624.1,2523.3 624.1,2521.2 C624.1,2519.1 624.1,2517.0 624.1,2514.8 C624.1,2512.6 624.1,2510.3 624.1,2508.0 C624.1,2505.7 624.1,2503.4 624.1,2501.0 C624.1,2498.6 624.1,2496.1 624.1,2493.6 C624.1,2491.1 624.1,2488.5 624.1,2485.9 C624.1,2483.3 624.1,2480.6 624.1,2477.9 C624.1,2475.2 624.1,2472.4 624.1,2469.6 C624.1,2466.8 624.1,2463.9 624.1,2461.0 C624.1,2458.0 624.1,2455.0 624.1,2452.0 C624.1,2449.0 624.1,2445.9 624.1,2442.8 C624.1,2439.6 624.1,2436.4 624.1,2433.2 C624.1,2429.9 624.1,2426.6 624.1,2423.3 C624.1,2419.9 624.1,2416.5 624.1,2413.1 C624.1,2409.6 624.1,2406.1 624.1,2402.6 C624.1,2399.0 624.1,2395.4 624.1,2391.7 C624.1,2388.1 624.1,2382.5 624.1,2380.6 Z" fill="#ffffff" stroke="#2a2a2a" stroke-width="1.3" stroke-linejoin="round"/>
<line x1="616.12" y1="2582.80" x2="632.92" y2="2582.80" stroke="#8d8d8f" stroke-width="2.0" />
<path d="M685.0,2380.6 C685.0,2382.5 685.0,2388.1 685.0,2391.7 C685.0,2395.4 685.0,2399.0 685.0,2402.6 C685.0,2406.1 685.0,2409.6 685.0,2413.1 C685.0,2416.5 685.0,2419.9 685.0,2423.3 C685.0,2426.6 685.0,2429.9 685.0,2433.2 C685.0,2436.4 685.0,2439.6 685.0,2442.8 C685.0,2445.9 685.0,2449.0 685.0,2452.0 C685.0,2455.0 685.0,2458.0 685.0,2461.0 C685.0,2463.9 685.0,2466.8 685.0,2469.6 C685.0,2472.4 685.0,2475.2 685.1,2477.9 C685.2,2480.6 685.3,2483.3 685.5,2485.9 C685.6,2488.5 685.9,2491.1 686.1,2493.6 C686.3,2496.1 686.5,2498.6 686.5,2501.0 C686.5,2503.4 686.3,2505.7 686.1,2508.0 C686.0,2510.3 685.7,2512.6 685.6,2514.8 C685.4,2517.0 685.3,2519.1 685.2,2521.2 C685.1,2523.3 685.1,2525.4 685.1,2527.3 C685.0,2529.3 685.0,2531.3 685.0,2533.2 C685.0,2535.0 685.0,2536.9 685.0,2538.6 C685.0,2540.4 685.0,2542.1 685.0,2543.8 C685.0,2545.5 685.0,2547.1 685.2,2548.7 C685.4,2550.3 685.7,2551.8 686.1,2553.2 C686.6,2554.7 687.1,2556.1 687.8,2557.5 C688.5,2558.8 689.4,2560.1 690.4,2561.4 C691.4,2562.7 692.5,2563.9 693.7,2565.0 C694.9,2566.2 696.2,2567.3 697.4,2568.3 C698.7,2569.4 700.0,2570.3 701.2,2571.3 C702.4,2572.2 703.5,2573.1 704.5,2574.0 C705.5,2574.8 706.4,2575.6 707.2,2576.3 C707.9,2577.0 708.6,2577.7 709.1,2578.3 C709.6,2579.0 710.0,2579.6 710.3,2580.1 C710.7,2580.6 710.9,2581.1 711.1,2581.5 C711.2,2581.9 711.3,2582.3 711.4,2582.6 C711.5,2582.9 711.5,2583.2 711.5,2583.4 C711.6,2583.6 711.6,2583.7 711.6,2583.8 C711.6,2583.9 711.6,2584.0 711.6,2584.0 L657.56,2584.00 C657.6,2584.0 657.6,2583.9 657.6,2583.8 C657.6,2583.7 657.6,2583.6 657.6,2583.4 C657.6,2583.2 657.6,2582.9 657.7,2582.6 C657.8,2582.3 657.9,2581.9 658.1,2581.5 C658.2,2581.1 658.5,2580.6 658.8,2580.1 C659.1,2579.6 659.5,2579.0 660.0,2578.3 C660.6,2577.7 661.2,2577.0 662.0,2576.3 C662.7,2575.6 663.6,2574.8 664.6,2574.0 C665.6,2573.1 666.8,2572.2 667.9,2571.3 C669.1,2570.3 670.4,2569.4 671.7,2568.3 C672.9,2567.3 674.2,2566.2 675.4,2565.0 C676.6,2563.9 677.8,2562.7 678.7,2561.4 C679.7,2560.1 680.6,2558.8 681.3,2557.5 C682.0,2556.1 682.6,2554.7 683.0,2553.2 C683.4,2551.8 683.7,2550.3 683.9,2548.7 C684.1,2547.1 684.1,2545.5 684.1,2543.8 C684.1,2542.1 684.1,2540.4 684.1,2538.6 C684.1,2536.9 684.1,2535.0 684.1,2533.2 C684.1,2531.3 684.1,2529.3 684.1,2527.3 C684.0,2525.4 684.0,2523.3 683.9,2521.2 C683.8,2519.1 683.7,2517.0 683.5,2514.8 C683.4,2512.6 683.1,2510.3 683.0,2508.0 C682.8,2505.7 682.7,2503.4 682.7,2501.0 C682.7,2498.6 682.8,2496.1 683.0,2493.6 C683.2,2491.1 683.5,2488.5 683.6,2485.9 C683.8,2483.3 683.9,2480.6 684.0,2477.9 C684.1,2475.2 684.1,2472.4 684.1,2469.6 C684.1,2466.8 684.1,2463.9 684.1,2461.0 C684.1,2458.0 684.1,2455.0 684.1,2452.0 C684.1,2449.0 684.1,2445.9 684.1,2442.8 C684.1,2439.6 684.1,2436.4 684.1,2433.2 C684.1,2429.9 684.1,2426.6 684.1,2423.3 C684.1,2419.9 684.1,2416.5 684.1,2413.1 C684.1,2409.6 684.1,2406.1 684.1,2402.6 C684.1,2399.0 684.1,2395.4 684.1,2391.7 C684.1,2388.1 684.2,2382.5 684.2,2380.6 Z" fill="#ffffff" stroke="#2a2a2a" stroke-width="1.3" stroke-linejoin="round"/>
<line x1="676.16" y1="2582.80" x2="692.96" y2="2582.80" stroke="#8d8d8f" stroke-width="2.0" />
<path d="M745.0,2443.2 C745.0,2444.5 745.0,2448.4 745.0,2450.9 C745.1,2453.4 745.0,2455.9 745.0,2458.4 C745.1,2460.9 745.0,2463.3 745.1,2465.7 C745.1,2468.1 745.0,2470.4 745.1,2472.8 C745.1,2475.1 745.0,2477.3 745.1,2479.6 C745.1,2481.8 745.0,2484.0 745.1,2486.2 C745.1,2488.4 745.0,2490.5 745.1,2492.6 C745.1,2494.7 745.0,2496.8 745.1,2498.8 C745.1,2500.9 745.1,2502.8 745.1,2504.8 C745.2,2506.8 745.3,2508.7 745.4,2510.6 C745.5,2512.4 745.7,2514.3 745.8,2516.1 C746.0,2517.9 746.1,2519.7 746.2,2521.4 C746.2,2523.2 746.2,2524.9 746.1,2526.5 C746.0,2528.2 745.8,2529.8 745.7,2531.4 C745.6,2533.0 745.4,2534.6 745.4,2536.1 C745.3,2537.6 745.2,2539.1 745.2,2540.5 C745.1,2542.0 745.1,2543.4 745.1,2544.8 C745.1,2546.2 745.1,2547.5 745.1,2548.8 C745.1,2550.1 745.0,2551.4 745.1,2552.6 C745.1,2553.8 745.3,2555.0 745.5,2556.2 C745.8,2557.3 746.1,2558.5 746.6,2559.6 C747.0,2560.6 747.6,2561.7 748.3,2562.7 C749.0,2563.7 749.8,2564.7 750.7,2565.6 C751.7,2566.6 752.7,2567.5 753.8,2568.4 C754.9,2569.2 756.1,2570.1 757.2,2570.9 C758.4,2571.7 759.6,2572.4 760.7,2573.1 C761.8,2573.9 762.8,2574.5 763.8,2575.2 C764.8,2575.9 765.7,2576.5 766.4,2577.0 C767.2,2577.6 767.9,2578.2 768.4,2578.7 C769.0,2579.2 769.5,2579.7 769.8,2580.1 C770.2,2580.5 770.5,2580.9 770.7,2581.3 C771.0,2581.6 771.1,2582.0 771.2,2582.3 C771.4,2582.6 771.4,2582.8 771.5,2583.0 C771.5,2583.2 771.6,2583.4 771.6,2583.6 C771.6,2583.7 771.6,2583.8 771.6,2583.9 C771.6,2584.0 771.6,2584.0 771.6,2584.0 L717.60,2584.00 C717.6,2584.0 717.6,2584.0 717.6,2583.9 C717.6,2583.8 717.6,2583.7 717.6,2583.6 C717.6,2583.4 717.7,2583.2 717.7,2583.0 C717.8,2582.8 717.8,2582.6 718.0,2582.3 C718.1,2582.0 718.2,2581.6 718.5,2581.3 C718.7,2580.9 719.0,2580.5 719.4,2580.1 C719.7,2579.7 720.2,2579.2 720.8,2578.7 C721.3,2578.2 722.0,2577.6 722.8,2577.0 C723.5,2576.5 724.4,2575.9 725.4,2575.2 C726.4,2574.5 727.4,2573.9 728.5,2573.1 C729.6,2572.4 730.8,2571.7 732.0,2570.9 C733.1,2570.1 734.3,2569.2 735.4,2568.4 C736.5,2567.5 737.5,2566.6 738.5,2565.6 C739.4,2564.7 740.2,2563.7 740.9,2562.7 C741.6,2561.7 742.2,2560.6 742.6,2559.6 C743.1,2558.5 743.4,2557.3 743.7,2556.2 C743.9,2555.0 744.1,2553.8 744.1,2552.6 C744.2,2551.4 744.1,2550.1 744.1,2548.8 C744.1,2547.5 744.1,2546.2 744.1,2544.8 C744.1,2543.4 744.1,2542.0 744.0,2540.5 C744.0,2539.1 743.9,2537.6 743.8,2536.1 C743.8,2534.6 743.6,2533.0 743.5,2531.4 C743.4,2529.8 743.2,2528.2 743.1,2526.5 C743.0,2524.9 743.0,2523.2 743.0,2521.4 C743.1,2519.7 743.2,2517.9 743.4,2516.1 C743.5,2514.3 743.7,2512.4 743.8,2510.6 C743.9,2508.7 744.0,2506.8 744.1,2504.8 C744.1,2502.8 744.1,2500.9 744.1,2498.8 C744.2,2496.8 744.1,2494.7 744.1,2492.6 C744.2,2490.5 744.1,2488.4 744.1,2486.2 C744.2,2484.0 744.1,2481.8 744.1,2479.6 C744.2,2477.3 744.1,2475.1 744.1,2472.8 C744.2,2470.4 744.1,2468.1 744.1,2465.7 C744.2,2463.3 744.1,2460.9 744.1,2458.4 C744.2,2455.9 744.1,2453.4 744.1,2450.9 C744.2,2448.4 744.2,2444.5 744.2,2443.2 Z" fill="#ffffff" stroke="#2a2a2a" stroke-width="1.3" stroke-linejoin="round"/>
<line x1="736.20" y1="2582.80" x2="753.00" y2="2582.80" stroke="#8d8d8f" stroke-width="2.0" />
<path d="M805.0,2404.0 C805.0,2405.6 805.1,2410.6 805.1,2413.9 C805.1,2417.1 805.1,2420.3 805.1,2423.4 C805.1,2426.6 805.1,2429.7 805.1,2432.8 C805.1,2435.8 805.1,2438.8 805.3,2441.8 C805.4,2444.7 805.7,2447.7 806.0,2450.5 C806.3,2453.4 806.9,2456.2 807.0,2459.0 C807.2,2461.8 807.2,2464.5 807.1,2467.2 C807.0,2469.9 806.5,2472.5 806.2,2475.1 C805.9,2477.7 805.6,2480.2 805.4,2482.8 C805.3,2485.2 805.2,2487.7 805.2,2490.1 C805.1,2492.5 805.1,2494.9 805.1,2497.2 C805.1,2499.5 805.1,2501.8 805.1,2504.0 C805.1,2506.2 805.1,2508.4 805.1,2510.5 C805.1,2512.7 805.1,2514.7 805.1,2516.8 C805.1,2518.8 805.1,2520.8 805.1,2522.8 C805.1,2524.7 805.1,2526.6 805.1,2528.4 C805.1,2530.3 805.1,2532.1 805.1,2533.9 C805.1,2535.6 805.1,2537.3 805.1,2539.0 C805.1,2540.7 805.1,2542.3 805.1,2543.9 C805.1,2545.4 805.0,2547.0 805.1,2548.4 C805.2,2549.9 805.4,2551.4 805.7,2552.8 C806.0,2554.1 806.4,2555.5 807.0,2556.8 C807.5,2558.1 808.2,2559.3 809.0,2560.5 C809.8,2561.7 810.8,2562.9 811.8,2564.0 C812.9,2565.1 814.1,2566.2 815.3,2567.2 C816.4,2568.2 817.7,2569.2 818.9,2570.1 C820.1,2571.0 821.3,2571.9 822.4,2572.8 C823.5,2573.6 824.5,2574.4 825.4,2575.1 C826.3,2575.9 827.1,2576.5 827.8,2577.2 C828.5,2577.8 829.0,2578.4 829.5,2579.0 C830.0,2579.6 830.3,2580.1 830.6,2580.5 C830.9,2581.0 831.1,2581.4 831.2,2581.8 C831.4,2582.1 831.4,2582.5 831.5,2582.8 C831.6,2583.0 831.6,2583.3 831.6,2583.4 C831.6,2583.6 831.6,2583.8 831.6,2583.9 C831.6,2584.0 831.6,2584.0 831.6,2584.0 L777.64,2584.00 C777.6,2584.0 777.6,2584.0 777.6,2583.9 C777.6,2583.8 777.6,2583.6 777.7,2583.4 C777.7,2583.3 777.7,2583.0 777.8,2582.8 C777.8,2582.5 777.9,2582.1 778.1,2581.8 C778.2,2581.4 778.4,2581.0 778.7,2580.5 C779.0,2580.1 779.3,2579.6 779.8,2579.0 C780.2,2578.4 780.8,2577.8 781.5,2577.2 C782.2,2576.5 782.9,2575.9 783.8,2575.1 C784.7,2574.4 785.8,2573.6 786.9,2572.8 C788.0,2571.9 789.2,2571.0 790.4,2570.1 C791.6,2569.2 792.8,2568.2 794.0,2567.2 C795.2,2566.2 796.4,2565.1 797.4,2564.0 C798.5,2562.9 799.5,2561.7 800.3,2560.5 C801.1,2559.3 801.8,2558.1 802.3,2556.8 C802.9,2555.5 803.3,2554.1 803.6,2552.8 C803.9,2551.4 804.1,2549.9 804.2,2548.4 C804.3,2547.0 804.2,2545.4 804.2,2543.9 C804.2,2542.3 804.2,2540.7 804.2,2539.0 C804.2,2537.3 804.2,2535.6 804.2,2533.9 C804.2,2532.1 804.2,2530.3 804.2,2528.4 C804.2,2526.6 804.2,2524.7 804.2,2522.8 C804.2,2520.8 804.2,2518.8 804.2,2516.8 C804.2,2514.7 804.2,2512.7 804.2,2510.5 C804.2,2508.4 804.2,2506.2 804.2,2504.0 C804.2,2501.8 804.2,2499.5 804.2,2497.2 C804.2,2494.9 804.2,2492.5 804.1,2490.1 C804.1,2487.7 804.0,2485.2 803.9,2482.8 C803.7,2480.2 803.4,2477.7 803.1,2475.1 C802.8,2472.5 802.3,2469.9 802.2,2467.2 C802.0,2464.5 802.1,2461.8 802.2,2459.0 C802.4,2456.2 803.0,2453.4 803.3,2450.5 C803.6,2447.7 803.8,2444.7 804.0,2441.8 C804.1,2438.8 804.1,2435.8 804.2,2432.8 C804.2,2429.7 804.2,2426.6 804.2,2423.4 C804.2,2420.3 804.2,2417.1 804.2,2413.9 C804.2,2410.6 804.2,2405.6 804.2,2404.0 Z" fill="#ffffff" stroke="#2a2a2a" stroke-width="1.3" stroke-linejoin="round"/>
<line x1="796.24" y1="2582.80" x2="813.04" y2="2582.80" stroke="#8d8d8f" stroke-width="2.0" />
<path d="M109.0 2277.2H840.0M109.0 2328.1H840.0M109.0 2379.0H840.0M109.0 2429.9H840.0M109.0 2480.8H840.0M109.0 2531.7H840.0M144.2 2228.4V2585.0M204.2 2228.4V2585.0M264.3 2228.4V2585.0M324.3 2228.4V2585.0M384.4 2228.4V2585.0M444.4 2228.4V2585.0M504.4 2228.4V2585.0M564.5 2228.4V2585.0M624.5 2228.4V2585.0M684.6 2228.4V2585.0M744.6 2228.4V2585.0M804.6 2228.4V2585.0" stroke="#000" stroke-opacity="0.13" stroke-width="1.7" fill="none"/>
<path d="M144.20,2570.50 L147.90,2574.20 L144.20,2577.90 L140.50,2574.20 Z" fill="#c0473f" stroke="#3a1a1a" stroke-width="1"/>
<path d="M204.24,2573.90 L207.94,2577.60 L204.24,2581.30 L200.54,2577.60 Z" fill="#c0473f" stroke="#3a1a1a" stroke-width="1"/>
<path d="M264.28,2576.10 L267.98,2579.80 L264.28,2583.50 L260.58,2579.80 Z" fill="#c0473f" stroke="#3a1a1a" stroke-width="1"/>
<path d="M324.32,2574.70 L328.02,2578.40 L324.32,2582.10 L320.62,2578.40 Z" fill="#c0473f" stroke="#3a1a1a" stroke-width="1"/>
<path d="M384.36,2575.30 L388.06,2579.00 L384.36,2582.70 L380.66,2579.00 Z" fill="#c0473f" stroke="#3a1a1a" stroke-width="1"/>
<path d="M444.40,2573.90 L448.10,2577.60 L444.40,2581.30 L440.70,2577.60 Z" fill="#c0473f" stroke="#3a1a1a" stroke-width="1"/>
<path d="M504.44,2575.00 L508.14,2578.70 L504.44,2582.40 L500.74,2578.70 Z" fill="#c0473f" stroke="#3a1a1a" stroke-width="1"/>
<path d="M564.48,2574.10 L568.18,2577.80 L564.48,2581.50 L560.78,2577.80 Z" fill="#c0473f" stroke="#3a1a1a" stroke-width="1"/>
<path d="M624.52,2570.00 L628.22,2573.70 L624.52,2577.40 L620.82,2573.70 Z" fill="#c0473f" stroke="#3a1a1a" stroke-width="1"/>
<path d="M684.56,2567.80 L688.26,2571.50 L684.56,2575.20 L680.86,2571.50 Z" fill="#c0473f" stroke="#3a1a1a" stroke-width="1"/>
<path d="M744.60,2571.90 L748.30,2575.60 L744.60,2579.30 L740.90,2575.60 Z" fill="#c0473f" stroke="#3a1a1a" stroke-width="1"/>
<path d="M804.64,2566.90 L808.34,2570.60 L804.64,2574.30 L800.94,2570.60 Z" fill="#c0473f" stroke="#3a1a1a" stroke-width="1"/>
<rect x="109.00" y="2228.40" width="731.00" height="356.60" fill="none" stroke="#111" stroke-width="2.0" />
<text transform="translate(198.60,2390.24) rotate(90)" font-size="19.00" fill="#656565"><tspan>0.1029</tspan></text>
<text transform="translate(257.80,2340.44) rotate(90)" font-size="19.00" fill="#656565"><tspan>0.0375</tspan></text>
<text transform="translate(318.10,2402.44) rotate(90)" font-size="19.00" fill="#656565"><tspan>0.0365</tspan></text>
<text transform="translate(378.60,2385.94) rotate(90)" font-size="19.00" fill="#656565"><tspan>0.0322</tspan></text>
<text transform="translate(499.40,2331.54) rotate(90)" font-size="19.00" fill="#656565"><tspan>0.0074</tspan></text>
<text transform="translate(558.00,2406.14) rotate(90)" font-size="19.00" fill="#656565"><tspan>0.1025</tspan></text>
<text transform="translate(88.81,2388.00) scale(1.0466,1)" font-size="20.79" fill="#1a1a1a"><tspan>2</tspan></text>
<text transform="translate(89.11,2489.00) scale(0.8770,1)" font-size="21.09" fill="#1a1a1a"><tspan>1</tspan></text>
<text transform="translate(88.64,2591.30) scale(1.0525,1)" font-size="20.49" fill="#1a1a1a"><tspan>0</tspan></text>
<text transform="translate(60.90,2475.98) rotate(-90)" font-size="21.40" fill="#1a1a1a"><tspan>IL6 expression</tspan></text>
<text transform="translate(858.50,2309.95) rotate(90)" font-size="21.20" fill="#1a1a1a"><tspan>BJ Perturb-multiome</tspan></text>
<text transform="translate(152.46,2626.83) rotate(-90)" font-size="21.70" fill="#1a1a1a"><tspan>NT</tspan></text>
<text transform="translate(212.02,2705.24) rotate(-90)" font-size="21.70" fill="#1a1a1a"><tspan font-style="italic">LINC01638</tspan></text>
<text transform="translate(272.06,2703.23) rotate(-90)" font-size="21.70" fill="#1a1a1a"><tspan font-style="italic">MIR155HG</tspan></text>
<text transform="translate(332.10,2662.11) rotate(-90)" font-size="21.70" fill="#1a1a1a"><tspan font-style="italic">NEAT1</tspan></text>
<text transform="translate(392.14,2653.54) rotate(-90)" font-size="21.70" fill="#1a1a1a"><tspan font-style="italic">GAS5</tspan></text>
<text transform="translate(452.18,2656.90) rotate(-90)" font-size="21.70" fill="#1a1a1a"><tspan font-style="italic">MEG3</tspan></text>
<text transform="translate(512.22,2705.24) rotate(-90)" font-size="21.70" fill="#1a1a1a"><tspan font-style="italic">LICN01578</tspan></text>
<text transform="translate(572.26,2645.13) rotate(-90)" font-size="21.70" fill="#1a1a1a"><tspan font-style="italic">XIST</tspan></text>
<text transform="translate(632.30,2668.57) rotate(-90)" font-size="21.70" fill="#1a1a1a"><tspan font-style="italic">SNHG1</tspan></text>
<text transform="translate(692.34,2703.23) rotate(-90)" font-size="21.70" fill="#1a1a1a"><tspan font-style="italic">MIR222HG</tspan></text>
<text transform="translate(752.38,2705.24) rotate(-90)" font-size="21.70" fill="#1a1a1a"><tspan font-style="italic">LINC00578</tspan></text>
<text transform="translate(812.42,2666.40) rotate(-90)" font-size="21.70" fill="#1a1a1a"><tspan font-style="italic">PURPL</tspan></text>
<text transform="translate(948.36,1181.37) scale(1.0097,1)" font-size="43.11" fill="#1a1a1a"><tspan font-weight="bold">e</tspan></text>
<text transform="translate(1139.56,1182.00) scale(1.1082,1)" font-size="23.42" fill="#1a1a1a"><tspan>KD</tspan></text>
<path d="M1131.0,1317.1 C1131.1,1330.9 1131.3,1364.5 1131.4,1400.0 C1131.5,1435.5 1131.4,1507.0 1131.5,1530.0 C1131.6,1553.0 1131.6,1536.2 1132.1,1538.0 C1132.6,1539.8 1133.1,1540.0 1134.6,1541.0 C1136.1,1542.0 1139.1,1543.0 1141.1,1544.0 C1143.1,1545.0 1144.9,1546.0 1146.6,1547.0 C1148.3,1548.0 1149.7,1548.9 1151.1,1550.0 C1152.5,1551.1 1154.3,1553.2 1155.0,1553.8 L1106.20,1553.80 C1106.8,1553.2 1108.7,1551.1 1110.1,1550.0 C1111.5,1548.9 1112.9,1548.0 1114.6,1547.0 C1116.3,1546.0 1118.1,1545.0 1120.1,1544.0 C1122.1,1543.0 1125.1,1542.0 1126.6,1541.0 C1128.1,1540.0 1128.6,1539.8 1129.1,1538.0 C1129.6,1536.2 1129.6,1553.0 1129.7,1530.0 C1129.8,1507.0 1129.7,1435.5 1129.8,1400.0 C1129.9,1364.5 1130.1,1330.9 1130.2,1317.1 Z" fill="#b9babd" stroke="#2a2a2a" stroke-width="1.3" stroke-linejoin="round"/>
<path d="M1184.0,1211.5 C1184.0,1214.6 1184.0,1224.1 1184.0,1230.3 C1184.1,1236.4 1184.0,1242.5 1184.0,1248.5 C1184.0,1254.5 1184.0,1260.4 1184.0,1266.2 C1184.0,1272.0 1184.0,1277.7 1184.0,1283.3 C1184.0,1289.0 1184.0,1294.5 1184.0,1300.0 C1184.0,1305.4 1184.0,1310.8 1184.0,1316.1 C1184.0,1321.4 1184.0,1326.6 1184.0,1331.7 C1184.0,1336.8 1184.0,1341.8 1184.0,1346.7 C1184.0,1351.7 1184.0,1356.5 1184.0,1361.3 C1184.0,1366.0 1184.0,1370.7 1184.0,1375.3 C1184.0,1379.8 1184.0,1384.3 1184.0,1388.7 C1184.0,1393.1 1184.0,1397.4 1184.0,1401.7 C1184.0,1405.9 1184.0,1410.0 1184.0,1414.1 C1184.0,1418.1 1184.0,1422.1 1184.0,1426.0 C1184.0,1429.8 1184.0,1433.6 1184.0,1437.3 C1184.0,1441.0 1184.0,1444.6 1184.0,1448.2 C1184.0,1451.7 1184.0,1455.1 1184.0,1458.5 C1184.0,1461.8 1184.0,1465.1 1184.0,1468.2 C1184.0,1471.4 1184.0,1474.5 1184.0,1477.5 C1184.1,1480.5 1184.0,1483.4 1184.1,1486.2 C1184.3,1489.0 1184.5,1491.7 1184.9,1494.4 C1185.2,1497.0 1185.7,1499.6 1186.2,1502.0 C1186.8,1504.5 1187.5,1506.9 1188.3,1509.2 C1189.0,1511.5 1190.0,1513.7 1190.9,1515.8 C1191.9,1517.9 1193.0,1519.9 1194.1,1521.8 C1195.1,1523.8 1196.3,1525.6 1197.3,1527.4 C1198.3,1529.1 1199.4,1530.8 1200.3,1532.4 C1201.3,1534.0 1202.1,1535.5 1202.9,1536.9 C1203.7,1538.3 1204.3,1539.6 1204.9,1540.9 C1205.5,1542.1 1205.9,1543.2 1206.3,1544.3 C1206.7,1545.3 1207.0,1546.3 1207.2,1547.2 C1207.5,1548.1 1207.6,1548.9 1207.7,1549.6 C1207.9,1550.3 1207.9,1550.9 1208.0,1551.4 C1208.0,1552.0 1208.1,1552.4 1208.1,1552.7 C1208.1,1553.1 1208.1,1553.4 1208.1,1553.5 C1208.1,1553.7 1208.1,1553.8 1208.1,1553.8 L1159.10,1553.80 C1159.1,1553.8 1159.1,1553.7 1159.1,1553.5 C1159.1,1553.4 1159.1,1553.1 1159.1,1552.7 C1159.1,1552.4 1159.2,1552.0 1159.2,1551.4 C1159.3,1550.9 1159.3,1550.3 1159.5,1549.6 C1159.6,1548.9 1159.7,1548.1 1160.0,1547.2 C1160.2,1546.3 1160.5,1545.3 1160.9,1544.3 C1161.3,1543.2 1161.7,1542.1 1162.3,1540.9 C1162.9,1539.6 1163.5,1538.3 1164.3,1536.9 C1165.1,1535.5 1165.9,1534.0 1166.9,1532.4 C1167.8,1530.8 1168.9,1529.1 1169.9,1527.4 C1170.9,1525.6 1172.1,1523.8 1173.1,1521.8 C1174.2,1519.9 1175.3,1517.9 1176.3,1515.8 C1177.2,1513.7 1178.2,1511.5 1178.9,1509.2 C1179.7,1506.9 1180.4,1504.5 1181.0,1502.0 C1181.5,1499.6 1182.0,1497.0 1182.3,1494.4 C1182.7,1491.7 1182.9,1489.0 1183.1,1486.2 C1183.2,1483.4 1183.1,1480.5 1183.1,1477.5 C1183.2,1474.5 1183.1,1471.4 1183.1,1468.2 C1183.1,1465.1 1183.1,1461.8 1183.1,1458.5 C1183.1,1455.1 1183.1,1451.7 1183.1,1448.2 C1183.1,1444.6 1183.1,1441.0 1183.1,1437.3 C1183.1,1433.6 1183.1,1429.8 1183.1,1426.0 C1183.1,1422.1 1183.1,1418.1 1183.1,1414.1 C1183.1,1410.0 1183.1,1405.9 1183.1,1401.7 C1183.1,1397.4 1183.1,1393.1 1183.1,1388.7 C1183.1,1384.3 1183.1,1379.8 1183.1,1375.3 C1183.1,1370.7 1183.1,1366.0 1183.1,1361.3 C1183.1,1356.5 1183.1,1351.7 1183.1,1346.7 C1183.1,1341.8 1183.1,1336.8 1183.1,1331.7 C1183.1,1326.6 1183.1,1321.4 1183.1,1316.1 C1183.1,1310.8 1183.1,1305.4 1183.1,1300.0 C1183.1,1294.5 1183.1,1289.0 1183.1,1283.3 C1183.1,1277.7 1183.1,1272.0 1183.1,1266.2 C1183.1,1260.4 1183.1,1254.5 1183.1,1248.5 C1183.1,1242.5 1183.1,1236.4 1183.1,1230.3 C1183.2,1224.1 1183.2,1214.6 1183.2,1211.5 Z" fill="#cda88c" stroke="#2a2a2a" stroke-width="1.3" stroke-linejoin="round"/>
<line x1="1120.00" y1="1552.50" x2="1142.00" y2="1552.50" stroke="#6a6b6e" stroke-width="2.4" />
<line x1="1175.50" y1="1552.50" x2="1192.00" y2="1552.50" stroke="#8d8d8f" stroke-width="2.4" />
<circle cx="1126.4" cy="1331.8" r="1.0" fill="#8a8a8a"/>
<circle cx="1190" cy="1279.9" r="1.0" fill="#8a8a8a"/>
<circle cx="1130" cy="1420.5" r="1.0" fill="#8a8a8a"/>
<circle cx="1178" cy="1357" r="1.0" fill="#8a8a8a"/>
<path d="M1099.9 1203.8H1215.2M1099.9 1261.7H1215.2M1099.9 1319.7H1215.2M1099.9 1377.8H1215.2M1099.9 1435.9H1215.2M1099.9 1494.2H1215.2M1130.6 1196.0V1554.6M1183.6 1196.0V1554.6" stroke="#000" stroke-opacity="0.13" stroke-width="1.7" fill="none"/>
<path d="M1130.40,1546.10 L1135.20,1550.90 L1130.40,1555.70 L1125.60,1550.90 Z" fill="#c0473f" stroke="#3a1a1a" stroke-width="1"/>
<path d="M1183.60,1535.50 L1188.40,1540.30 L1183.60,1545.10 L1178.80,1540.30 Z" fill="#c0473f" stroke="#3a1a1a" stroke-width="1"/>
<rect x="1099.90" y="1196.00" width="115.30" height="358.60" fill="none" stroke="#111" stroke-width="2.0" />
<text transform="translate(1065.75,1327.98) scale(0.9825,1)" font-size="21.63" fill="#1a1a1a"><tspan>0.4</tspan></text>
<text transform="translate(1081.03,1561.12)" font-size="21.00" fill="#1a1a1a"><tspan>0</tspan></text>
<text transform="translate(1049.20,1471.82) rotate(-90)" font-size="21.40" fill="#1a1a1a"><tspan>CDKN1A expression</tspan></text>
<text transform="translate(1139.80,1597.13) rotate(-90)" font-size="21.70" fill="#1a1a1a"><tspan>NT</tspan></text>
<text transform="translate(1192.80,1673.42) rotate(-90)" font-size="21.70" fill="#1a1a1a"><tspan font-style="italic">HOTAIRM1</tspan></text>
<text transform="translate(1395.12,1179.60) scale(1.1427,1)" font-size="23.13" fill="#1a1a1a"><tspan>KD</tspan></text>
<path d="M1387.8,1338.6 C1387.8,1340.6 1387.8,1346.5 1387.9,1350.4 C1387.9,1354.3 1387.9,1358.1 1387.9,1361.9 C1387.9,1365.6 1387.9,1369.3 1387.9,1373.0 C1387.9,1376.7 1387.9,1380.3 1387.9,1383.8 C1387.9,1387.4 1387.9,1390.8 1387.9,1394.3 C1387.9,1397.7 1387.9,1401.1 1387.9,1404.4 C1387.9,1407.7 1387.9,1411.0 1387.9,1414.2 C1387.9,1417.4 1387.9,1420.6 1387.9,1423.7 C1387.9,1426.8 1387.9,1429.8 1387.9,1432.8 C1387.9,1435.8 1387.9,1438.8 1387.9,1441.6 C1387.9,1444.5 1387.9,1447.4 1387.9,1450.1 C1387.9,1452.9 1387.9,1455.6 1387.9,1458.3 C1387.9,1460.9 1387.9,1463.5 1387.9,1466.1 C1387.9,1468.6 1387.9,1471.1 1387.9,1473.6 C1387.9,1476.0 1387.9,1478.4 1387.9,1480.7 C1387.9,1483.0 1387.9,1485.3 1387.9,1487.5 C1387.9,1489.7 1387.9,1491.9 1387.9,1494.0 C1387.9,1496.1 1387.9,1498.2 1387.9,1500.2 C1387.9,1502.1 1387.9,1504.1 1387.9,1506.0 C1387.9,1507.9 1387.9,1509.7 1387.9,1511.5 C1387.9,1513.2 1387.9,1514.9 1387.9,1516.6 C1387.9,1518.3 1387.9,1519.9 1387.9,1521.4 C1387.9,1523.0 1387.9,1524.5 1387.9,1525.9 C1387.9,1527.4 1387.7,1528.7 1387.9,1530.1 C1388.0,1531.4 1388.1,1532.7 1388.5,1533.9 C1388.9,1535.1 1389.4,1536.3 1390.3,1537.4 C1391.1,1538.5 1392.2,1539.5 1393.4,1540.5 C1394.7,1541.5 1396.2,1542.5 1397.7,1543.4 C1399.2,1544.2 1400.8,1545.1 1402.2,1545.9 C1403.7,1546.6 1405.1,1547.4 1406.2,1548.0 C1407.4,1548.7 1408.4,1549.3 1409.2,1549.8 C1409.9,1550.4 1410.5,1550.9 1411.0,1551.3 C1411.4,1551.8 1411.7,1552.2 1411.9,1552.5 C1412.1,1552.8 1412.1,1553.1 1412.2,1553.3 C1412.3,1553.6 1412.3,1553.7 1412.3,1553.8 C1412.3,1553.9 1412.3,1554.0 1412.3,1554.0 L1362.50,1554.00 C1362.5,1554.0 1362.5,1553.9 1362.5,1553.8 C1362.5,1553.7 1362.5,1553.6 1362.6,1553.3 C1362.7,1553.1 1362.7,1552.8 1362.9,1552.5 C1363.1,1552.2 1363.4,1551.8 1363.8,1551.3 C1364.3,1550.9 1364.9,1550.4 1365.6,1549.8 C1366.4,1549.3 1367.4,1548.7 1368.6,1548.0 C1369.7,1547.4 1371.1,1546.6 1372.6,1545.9 C1374.0,1545.1 1375.6,1544.2 1377.1,1543.4 C1378.6,1542.5 1380.1,1541.5 1381.4,1540.5 C1382.6,1539.5 1383.7,1538.5 1384.5,1537.4 C1385.4,1536.3 1385.9,1535.1 1386.3,1533.9 C1386.7,1532.7 1386.8,1531.4 1387.0,1530.1 C1387.1,1528.7 1387.0,1527.4 1387.0,1525.9 C1387.0,1524.5 1387.0,1523.0 1387.0,1521.4 C1387.0,1519.9 1387.0,1518.3 1387.0,1516.6 C1387.0,1514.9 1387.0,1513.2 1387.0,1511.5 C1387.0,1509.7 1387.0,1507.9 1387.0,1506.0 C1387.0,1504.1 1387.0,1502.1 1387.0,1500.2 C1387.0,1498.2 1387.0,1496.1 1387.0,1494.0 C1387.0,1491.9 1387.0,1489.7 1387.0,1487.5 C1387.0,1485.3 1387.0,1483.0 1387.0,1480.7 C1387.0,1478.4 1387.0,1476.0 1387.0,1473.6 C1387.0,1471.1 1387.0,1468.6 1387.0,1466.1 C1387.0,1463.5 1387.0,1460.9 1387.0,1458.3 C1387.0,1455.6 1387.0,1452.9 1387.0,1450.1 C1387.0,1447.4 1387.0,1444.5 1387.0,1441.6 C1387.0,1438.8 1387.0,1435.8 1387.0,1432.8 C1387.0,1429.8 1387.0,1426.8 1387.0,1423.7 C1387.0,1420.6 1387.0,1417.4 1387.0,1414.2 C1387.0,1411.0 1387.0,1407.7 1387.0,1404.4 C1387.0,1401.1 1387.0,1397.7 1387.0,1394.3 C1387.0,1390.8 1387.0,1387.4 1387.0,1383.8 C1387.0,1380.3 1387.0,1376.7 1387.0,1373.0 C1387.0,1369.3 1387.0,1365.6 1387.0,1361.9 C1387.0,1358.1 1386.9,1354.3 1387.0,1350.4 C1387.0,1346.5 1387.0,1340.6 1387.0,1338.6 Z" fill="#b9babd" stroke="#2a2a2a" stroke-width="1.3" stroke-linejoin="round"/>
<path d="M1443.2,1209.7 C1443.2,1212.8 1443.2,1222.4 1443.2,1228.6 C1443.3,1234.8 1443.2,1240.9 1443.2,1246.9 C1443.2,1252.9 1443.2,1258.8 1443.2,1264.7 C1443.2,1270.5 1443.2,1276.3 1443.2,1282.0 C1443.2,1287.6 1443.2,1293.2 1443.2,1298.7 C1443.2,1304.2 1443.2,1309.6 1443.2,1314.9 C1443.2,1320.2 1443.2,1325.4 1443.2,1330.6 C1443.2,1335.7 1443.2,1340.8 1443.2,1345.7 C1443.2,1350.7 1443.2,1355.5 1443.2,1360.3 C1443.2,1365.1 1443.2,1369.8 1443.2,1374.4 C1443.2,1379.0 1443.2,1383.5 1443.2,1388.0 C1443.2,1392.4 1443.2,1396.7 1443.2,1401.0 C1443.2,1405.2 1443.2,1409.4 1443.2,1413.5 C1443.2,1417.5 1443.2,1421.5 1443.2,1425.4 C1443.2,1429.3 1443.2,1433.1 1443.2,1436.8 C1443.2,1440.6 1443.2,1444.2 1443.2,1447.7 C1443.2,1451.3 1443.2,1454.7 1443.2,1458.1 C1443.2,1461.5 1443.2,1464.7 1443.2,1467.9 C1443.3,1471.1 1443.2,1474.2 1443.4,1477.2 C1443.5,1480.2 1443.8,1483.2 1444.1,1486.0 C1444.5,1488.8 1444.9,1491.6 1445.4,1494.2 C1445.9,1496.9 1446.6,1499.5 1447.3,1501.9 C1448.0,1504.4 1448.9,1506.8 1449.8,1509.1 C1450.7,1511.4 1451.7,1513.6 1452.7,1515.7 C1453.8,1517.9 1454.9,1519.9 1455.9,1521.9 C1456.9,1523.8 1458.0,1525.7 1458.9,1527.4 C1459.9,1529.2 1460.8,1530.9 1461.6,1532.5 C1462.4,1534.1 1463.2,1535.6 1463.8,1537.0 C1464.5,1538.4 1465.0,1539.7 1465.5,1541.0 C1466.0,1542.2 1466.4,1543.4 1466.7,1544.4 C1467.0,1545.5 1467.2,1546.5 1467.4,1547.4 C1467.6,1548.2 1467.7,1549.0 1467.8,1549.7 C1467.9,1550.5 1468.0,1551.1 1468.0,1551.6 C1468.1,1552.1 1468.1,1552.6 1468.1,1552.9 C1468.1,1553.3 1468.1,1553.6 1468.1,1553.7 C1468.1,1553.9 1468.1,1554.0 1468.1,1554.0 L1417.50,1554.00 C1417.5,1554.0 1417.5,1553.9 1417.5,1553.7 C1417.5,1553.6 1417.5,1553.3 1417.5,1552.9 C1417.5,1552.6 1417.5,1552.1 1417.6,1551.6 C1417.6,1551.1 1417.7,1550.5 1417.8,1549.7 C1417.9,1549.0 1418.0,1548.2 1418.2,1547.4 C1418.4,1546.5 1418.6,1545.5 1418.9,1544.4 C1419.2,1543.4 1419.6,1542.2 1420.1,1541.0 C1420.6,1539.7 1421.1,1538.4 1421.8,1537.0 C1422.4,1535.6 1423.2,1534.1 1424.0,1532.5 C1424.8,1530.9 1425.7,1529.2 1426.7,1527.4 C1427.6,1525.7 1428.7,1523.8 1429.7,1521.9 C1430.7,1519.9 1431.8,1517.9 1432.9,1515.7 C1433.9,1513.6 1434.9,1511.4 1435.8,1509.1 C1436.7,1506.8 1437.6,1504.4 1438.3,1501.9 C1439.0,1499.5 1439.7,1496.9 1440.2,1494.2 C1440.7,1491.6 1441.1,1488.8 1441.5,1486.0 C1441.8,1483.2 1442.1,1480.2 1442.2,1477.2 C1442.4,1474.2 1442.3,1471.1 1442.3,1467.9 C1442.4,1464.7 1442.3,1461.5 1442.3,1458.1 C1442.3,1454.7 1442.3,1451.3 1442.3,1447.7 C1442.3,1444.2 1442.3,1440.6 1442.3,1436.8 C1442.3,1433.1 1442.3,1429.3 1442.3,1425.4 C1442.3,1421.5 1442.3,1417.5 1442.3,1413.5 C1442.3,1409.4 1442.3,1405.2 1442.3,1401.0 C1442.3,1396.7 1442.3,1392.4 1442.3,1388.0 C1442.3,1383.5 1442.3,1379.0 1442.3,1374.4 C1442.3,1369.8 1442.3,1365.1 1442.3,1360.3 C1442.3,1355.5 1442.3,1350.7 1442.3,1345.7 C1442.3,1340.8 1442.3,1335.7 1442.3,1330.6 C1442.3,1325.4 1442.3,1320.2 1442.3,1314.9 C1442.3,1309.6 1442.3,1304.2 1442.3,1298.7 C1442.3,1293.2 1442.3,1287.6 1442.3,1282.0 C1442.3,1276.3 1442.3,1270.5 1442.3,1264.7 C1442.3,1258.8 1442.3,1252.9 1442.3,1246.9 C1442.3,1240.9 1442.3,1234.8 1442.3,1228.6 C1442.4,1222.4 1442.4,1212.8 1442.4,1209.7 Z" fill="#cda88c" stroke="#2a2a2a" stroke-width="1.3" stroke-linejoin="round"/>
<line x1="1376.00" y1="1552.70" x2="1399.00" y2="1552.70" stroke="#6a6b6e" stroke-width="2.4" />
<line x1="1432.00" y1="1552.70" x2="1454.00" y2="1552.70" stroke="#8d8d8f" stroke-width="2.4" />
<circle cx="1399" cy="1387" r="1.1" fill="#8a8a8a"/>
<circle cx="1399" cy="1388.5" r="1.1" fill="#8a8a8a"/>
<circle cx="1385.5" cy="1399.2" r="1.1" fill="#8a8a8a"/>
<circle cx="1398.3" cy="1404.1" r="1.1" fill="#8a8a8a"/>
<circle cx="1381" cy="1420" r="1.1" fill="#8a8a8a"/>
<circle cx="1397.6" cy="1423.8" r="1.1" fill="#8a8a8a"/>
<circle cx="1380.6" cy="1448.9" r="1.1" fill="#8a8a8a"/>
<circle cx="1440.3" cy="1421.5" r="1.1" fill="#8a8a8a"/>
<circle cx="1447.9" cy="1274.6" r="1.1" fill="#8a8a8a"/>
<path d="M1355.7 1237.9H1474.6M1355.7 1290.5H1474.6M1355.7 1342.9H1474.6M1355.7 1396.3H1474.6M1355.7 1448.5H1474.6M1355.7 1501.2H1474.6M1387.4 1194.2V1554.9M1442.8 1194.2V1554.9" stroke="#000" stroke-opacity="0.13" stroke-width="1.7" fill="none"/>
<path d="M1387.70,1543.70 L1392.50,1548.50 L1387.70,1553.30 L1382.90,1548.50 Z" fill="#c0473f" stroke="#3a1a1a" stroke-width="1"/>
<path d="M1442.70,1537.70 L1447.50,1542.50 L1442.70,1547.30 L1437.90,1542.50 Z" fill="#c0473f" stroke="#3a1a1a" stroke-width="1"/>
<rect x="1355.70" y="1194.20" width="118.90" height="360.70" fill="none" stroke="#111" stroke-width="2.0" />
<text transform="translate(1320.55,1351.38) scale(0.9825,1)" font-size="21.63" fill="#1a1a1a"><tspan>0.4</tspan></text>
<text transform="translate(1335.13,1558.32)" font-size="21.00" fill="#1a1a1a"><tspan>0</tspan></text>
<text transform="translate(1303.20,1444.82) rotate(-90)" font-size="21.40" fill="#1a1a1a"><tspan>IL6 expression</tspan></text>
<text transform="translate(1396.60,1594.43) rotate(-90)" font-size="21.70" fill="#1a1a1a"><tspan>NT</tspan></text>
<text transform="translate(1450.10,1670.72) rotate(-90)" font-size="21.70" fill="#1a1a1a"><tspan font-style="italic">HOTAIRM1</tspan></text>
<text transform="translate(1139.56,1727.00) scale(1.1662,1)" font-size="22.25" fill="#1a1a1a"><tspan>KD</tspan></text>
<line x1="1117.50" y1="2100.50" x2="1140.70" y2="2100.50" stroke="#5f6064" stroke-width="3.0" />
<path d="M1183.7,1755.3 C1183.7,1758.5 1183.7,1768.1 1183.8,1774.3 C1183.8,1780.6 1183.8,1786.7 1183.8,1792.8 C1183.8,1798.9 1183.8,1804.8 1183.8,1810.7 C1183.8,1816.6 1183.8,1822.4 1183.8,1828.1 C1183.8,1833.8 1183.8,1839.5 1183.8,1845.0 C1183.8,1850.5 1183.8,1856.0 1183.8,1861.3 C1183.8,1866.7 1183.8,1871.9 1183.8,1877.1 C1183.8,1882.3 1183.8,1887.4 1183.8,1892.4 C1183.8,1897.4 1183.8,1902.3 1183.8,1907.1 C1183.8,1911.9 1183.8,1916.7 1183.8,1921.3 C1183.8,1925.9 1183.8,1930.5 1183.8,1935.0 C1183.8,1939.4 1183.8,1943.8 1183.8,1948.1 C1183.8,1952.4 1183.8,1956.6 1183.8,1960.7 C1183.8,1964.8 1183.8,1968.8 1183.8,1972.7 C1183.8,1976.6 1183.8,1980.5 1183.8,1984.2 C1183.8,1988.0 1183.8,1991.6 1183.8,1995.2 C1183.8,1998.8 1183.8,2002.3 1183.8,2005.6 C1183.8,2009.0 1183.8,2012.3 1183.8,2015.6 C1183.8,2018.8 1183.7,2021.9 1183.8,2024.9 C1183.8,2028.0 1184.0,2030.9 1184.3,2033.8 C1184.5,2036.6 1184.9,2039.4 1185.3,2042.1 C1185.8,2044.7 1186.3,2047.3 1187.0,2049.8 C1187.7,2052.3 1188.5,2054.7 1189.3,2057.1 C1190.2,2059.4 1191.2,2061.6 1192.1,2063.7 C1193.1,2065.9 1194.2,2067.9 1195.2,2069.9 C1196.3,2071.9 1197.3,2073.7 1198.3,2075.5 C1199.3,2077.3 1200.2,2079.0 1201.0,2080.6 C1201.9,2082.2 1202.7,2083.7 1203.3,2085.2 C1204.0,2086.6 1204.6,2087.9 1205.1,2089.2 C1205.6,2090.4 1206.0,2091.6 1206.3,2092.7 C1206.6,2093.7 1206.9,2094.7 1207.1,2095.6 C1207.3,2096.5 1207.4,2097.3 1207.5,2098.0 C1207.6,2098.7 1207.7,2099.4 1207.7,2099.9 C1207.8,2100.4 1207.8,2100.9 1207.8,2101.2 C1207.8,2101.6 1207.8,2101.9 1207.8,2102.0 C1207.8,2102.2 1207.8,2102.3 1207.8,2102.3 L1158.80,2102.30 C1158.8,2102.3 1158.8,2102.2 1158.8,2102.0 C1158.8,2101.9 1158.8,2101.6 1158.8,2101.2 C1158.8,2100.9 1158.8,2100.4 1158.9,2099.9 C1158.9,2099.4 1159.0,2098.7 1159.1,2098.0 C1159.2,2097.3 1159.3,2096.5 1159.5,2095.6 C1159.7,2094.7 1160.0,2093.7 1160.3,2092.7 C1160.6,2091.6 1161.0,2090.4 1161.5,2089.2 C1162.0,2087.9 1162.6,2086.6 1163.3,2085.2 C1163.9,2083.7 1164.7,2082.2 1165.6,2080.6 C1166.4,2079.0 1167.3,2077.3 1168.3,2075.5 C1169.3,2073.7 1170.3,2071.9 1171.4,2069.9 C1172.4,2067.9 1173.5,2065.9 1174.5,2063.7 C1175.4,2061.6 1176.4,2059.4 1177.3,2057.1 C1178.1,2054.7 1178.9,2052.3 1179.6,2049.8 C1180.3,2047.3 1180.8,2044.7 1181.3,2042.1 C1181.7,2039.4 1182.1,2036.6 1182.3,2033.8 C1182.6,2030.9 1182.8,2028.0 1182.8,2024.9 C1182.9,2021.9 1182.8,2018.8 1182.8,2015.6 C1182.8,2012.3 1182.8,2009.0 1182.8,2005.6 C1182.8,2002.3 1182.8,1998.8 1182.8,1995.2 C1182.8,1991.6 1182.8,1988.0 1182.8,1984.2 C1182.8,1980.5 1182.8,1976.6 1182.8,1972.7 C1182.8,1968.8 1182.8,1964.8 1182.8,1960.7 C1182.8,1956.6 1182.8,1952.4 1182.8,1948.1 C1182.8,1943.8 1182.8,1939.4 1182.8,1935.0 C1182.8,1930.5 1182.8,1925.9 1182.8,1921.3 C1182.8,1916.7 1182.8,1911.9 1182.8,1907.1 C1182.8,1902.3 1182.8,1897.4 1182.8,1892.4 C1182.8,1887.4 1182.8,1882.3 1182.8,1877.1 C1182.8,1871.9 1182.8,1866.7 1182.8,1861.3 C1182.8,1856.0 1182.8,1850.5 1182.8,1845.0 C1182.8,1839.5 1182.8,1833.8 1182.8,1828.1 C1182.8,1822.4 1182.8,1816.6 1182.8,1810.7 C1182.8,1804.8 1182.8,1798.9 1182.8,1792.8 C1182.8,1786.7 1182.8,1780.6 1182.8,1774.3 C1182.9,1768.1 1182.9,1758.5 1182.9,1755.3 Z" fill="#cda88c" stroke="#2a2a2a" stroke-width="1.3" stroke-linejoin="round"/>
<line x1="1172.20" y1="2100.80" x2="1195.00" y2="2100.80" stroke="#8d8d8f" stroke-width="2.4" />
<circle cx="1175.4" cy="1818.2" r="1.0" fill="#8a8a8a"/>
<path d="M1097.2 1744.9H1215.2M1097.2 1777.2H1215.2M1097.2 1809.5H1215.2M1097.2 1841.8H1215.2M1097.2 1874.1H1215.2M1097.2 1906.4H1215.2M1097.2 1938.7H1215.2M1097.2 1971.0H1215.2M1097.2 2003.3H1215.2M1097.2 2035.6H1215.2M1097.2 2067.9H1215.2M1129.2 1740.3V2103.2M1183.3 1740.3V2103.2" stroke="#000" stroke-opacity="0.13" stroke-width="1.7" fill="none"/>
<path d="M1129.10,2095.40 L1133.90,2100.20 L1129.10,2105.00 L1124.30,2100.20 Z" fill="#c0473f" stroke="#3a1a1a" stroke-width="1"/>
<path d="M1183.30,2087.70 L1188.10,2092.50 L1183.30,2097.30 L1178.50,2092.50 Z" fill="#c0473f" stroke="#3a1a1a" stroke-width="1"/>
<rect x="1097.20" y="1740.30" width="118.00" height="362.90" fill="none" stroke="#111" stroke-width="2.0" />
<text transform="translate(1059.71,1916.09) scale(1.0568,1)" font-size="21.06" fill="#1a1a1a"><tspan>0.3</tspan></text>
<text transform="translate(1081.03,2111.02)" font-size="21.00" fill="#1a1a1a"><tspan>0</tspan></text>
<text transform="translate(1049.20,2005.20) rotate(-90)" font-size="21.40" fill="#1a1a1a"><tspan>CCL2 expression</tspan></text>
<text transform="translate(1137.10,2146.53) rotate(-90)" font-size="21.70" fill="#1a1a1a"><tspan>NT</tspan></text>
<text transform="translate(1190.60,2221.42) rotate(-90)" font-size="21.70" fill="#1a1a1a"><tspan font-style="italic">HOTAIRM1</tspan></text>
<text transform="translate(1386.24,1727.00) scale(1.1769,1)" font-size="22.25" fill="#1a1a1a"><tspan>KD</tspan></text>
<path d="M1379.1,1960.5 C1379.1,1961.8 1379.1,1965.7 1379.2,1968.2 C1379.2,1970.8 1379.2,1973.3 1379.2,1975.7 C1379.2,1978.2 1379.2,1980.6 1379.2,1983.0 C1379.2,1985.4 1379.2,1987.8 1379.2,1990.1 C1379.2,1992.4 1379.2,1994.7 1379.2,1996.9 C1379.2,1999.2 1379.2,2001.4 1379.2,2003.6 C1379.2,2005.8 1379.2,2007.9 1379.2,2010.0 C1379.2,2012.1 1379.2,2014.2 1379.2,2016.2 C1379.2,2018.2 1379.2,2020.2 1379.2,2022.2 C1379.2,2024.1 1379.2,2026.1 1379.2,2028.0 C1379.2,2029.8 1379.2,2031.7 1379.2,2033.5 C1379.2,2035.3 1379.2,2037.1 1379.2,2038.8 C1379.2,2040.6 1379.2,2042.3 1379.2,2043.9 C1379.2,2045.6 1379.2,2047.2 1379.2,2048.8 C1379.2,2050.4 1379.2,2052.0 1379.2,2053.5 C1379.2,2055.0 1379.2,2056.5 1379.2,2058.0 C1379.2,2059.4 1379.2,2060.8 1379.2,2062.2 C1379.2,2063.6 1379.2,2064.9 1379.2,2066.2 C1379.2,2067.6 1379.2,2068.8 1379.2,2070.1 C1379.2,2071.3 1379.2,2072.5 1379.2,2073.6 C1379.2,2074.8 1379.1,2075.9 1379.2,2077.0 C1379.2,2078.1 1379.2,2079.2 1379.4,2080.2 C1379.6,2081.2 1380.0,2082.2 1380.5,2083.1 C1380.9,2084.1 1381.6,2085.0 1382.3,2085.8 C1383.1,2086.7 1384.1,2087.5 1385.1,2088.3 C1386.1,2089.1 1387.3,2089.9 1388.5,2090.6 C1389.7,2091.3 1391.0,2092.0 1392.2,2092.7 C1393.4,2093.3 1394.6,2094.0 1395.6,2094.5 C1396.7,2095.1 1397.6,2095.7 1398.5,2096.2 C1399.3,2096.7 1400.0,2097.1 1400.6,2097.6 C1401.2,2098.0 1401.6,2098.4 1402.0,2098.8 C1402.4,2099.1 1402.6,2099.5 1402.8,2099.8 C1403.0,2100.0 1403.1,2100.3 1403.2,2100.5 C1403.3,2100.7 1403.3,2100.9 1403.4,2101.1 C1403.4,2101.2 1403.4,2101.3 1403.4,2101.4 C1403.4,2101.5 1403.4,2101.5 1403.4,2101.5 L1354.00,2101.50 C1354.0,2101.5 1354.0,2101.5 1354.0,2101.4 C1354.0,2101.3 1354.0,2101.2 1354.0,2101.1 C1354.1,2100.9 1354.1,2100.7 1354.2,2100.5 C1354.3,2100.3 1354.4,2100.0 1354.6,2099.8 C1354.8,2099.5 1355.0,2099.1 1355.4,2098.8 C1355.8,2098.4 1356.2,2098.0 1356.8,2097.6 C1357.4,2097.1 1358.1,2096.7 1358.9,2096.2 C1359.8,2095.7 1360.7,2095.1 1361.8,2094.5 C1362.8,2094.0 1364.0,2093.3 1365.2,2092.7 C1366.4,2092.0 1367.7,2091.3 1368.9,2090.6 C1370.1,2089.9 1371.3,2089.1 1372.3,2088.3 C1373.3,2087.5 1374.3,2086.7 1375.1,2085.8 C1375.8,2085.0 1376.5,2084.1 1376.9,2083.1 C1377.4,2082.2 1377.8,2081.2 1378.0,2080.2 C1378.2,2079.2 1378.2,2078.1 1378.2,2077.0 C1378.3,2075.9 1378.2,2074.8 1378.2,2073.6 C1378.2,2072.5 1378.2,2071.3 1378.2,2070.1 C1378.2,2068.8 1378.2,2067.6 1378.2,2066.2 C1378.2,2064.9 1378.2,2063.6 1378.2,2062.2 C1378.2,2060.8 1378.2,2059.4 1378.2,2058.0 C1378.2,2056.5 1378.2,2055.0 1378.2,2053.5 C1378.2,2052.0 1378.2,2050.4 1378.2,2048.8 C1378.2,2047.2 1378.2,2045.6 1378.2,2043.9 C1378.2,2042.3 1378.2,2040.6 1378.2,2038.8 C1378.2,2037.1 1378.2,2035.3 1378.2,2033.5 C1378.2,2031.7 1378.2,2029.8 1378.2,2028.0 C1378.2,2026.1 1378.2,2024.1 1378.2,2022.2 C1378.2,2020.2 1378.2,2018.2 1378.2,2016.2 C1378.2,2014.2 1378.2,2012.1 1378.2,2010.0 C1378.2,2007.9 1378.2,2005.8 1378.2,2003.6 C1378.2,2001.4 1378.2,1999.2 1378.2,1996.9 C1378.2,1994.7 1378.2,1992.4 1378.2,1990.1 C1378.2,1987.8 1378.2,1985.4 1378.2,1983.0 C1378.2,1980.6 1378.2,1978.2 1378.2,1975.7 C1378.2,1973.3 1378.2,1970.8 1378.2,1968.2 C1378.3,1965.7 1378.3,1961.8 1378.3,1960.5 Z" fill="#b9babd" stroke="#2a2a2a" stroke-width="1.3" stroke-linejoin="round"/>
<path d="M1434.3,1756.9 C1434.4,1762.4 1434.6,1781.2 1434.7,1790.0 C1434.8,1798.8 1435.0,1804.2 1435.1,1810.0 C1435.2,1815.8 1435.4,1820.0 1435.4,1825.0 C1435.4,1830.0 1435.2,1834.2 1435.1,1840.0 C1435.0,1845.8 1434.8,1841.7 1434.7,1860.0 C1434.7,1878.3 1434.7,1932.9 1434.8,1950.0 C1434.9,1967.1 1434.9,1958.2 1435.1,1962.7 C1435.3,1967.2 1435.6,1972.2 1436.0,1976.9 C1436.4,1981.6 1437.1,1986.4 1437.5,1991.1 C1437.9,1995.8 1438.2,2000.5 1438.5,2005.3 C1438.8,2010.0 1439.4,2014.8 1439.5,2019.6 C1439.6,2024.3 1438.9,2029.1 1438.9,2033.8 C1439.0,2038.5 1439.3,2044.5 1439.8,2048.0 C1440.3,2051.6 1440.9,2052.7 1441.7,2055.1 C1442.5,2057.5 1442.9,2058.6 1444.4,2062.2 C1446.0,2065.8 1448.9,2071.8 1451.0,2076.5 C1453.1,2081.2 1455.8,2086.5 1457.2,2090.7 C1458.6,2094.9 1459.0,2099.7 1459.3,2101.5 L1408.50,2101.50 C1408.8,2099.7 1409.2,2094.9 1410.6,2090.7 C1412.0,2086.5 1414.7,2081.2 1416.8,2076.5 C1418.9,2071.8 1421.9,2065.8 1423.4,2062.2 C1425.0,2058.6 1425.3,2057.5 1426.1,2055.1 C1426.9,2052.7 1427.5,2051.6 1428.0,2048.0 C1428.5,2044.5 1428.9,2038.5 1428.9,2033.8 C1429.0,2029.1 1428.2,2024.3 1428.3,2019.6 C1428.4,2014.8 1429.0,2010.0 1429.3,2005.3 C1429.6,2000.5 1429.9,1995.8 1430.3,1991.1 C1430.7,1986.4 1431.4,1981.6 1431.8,1976.9 C1432.2,1972.2 1432.5,1967.2 1432.7,1962.7 C1432.9,1958.2 1432.9,1967.1 1433.0,1950.0 C1433.1,1932.9 1433.2,1878.3 1433.1,1860.0 C1433.1,1841.7 1432.8,1845.8 1432.7,1840.0 C1432.6,1834.2 1432.4,1830.0 1432.4,1825.0 C1432.4,1820.0 1432.6,1815.8 1432.7,1810.0 C1432.8,1804.2 1433.0,1798.8 1433.1,1790.0 C1433.2,1781.2 1433.4,1762.4 1433.5,1756.9 Z" fill="#cda88c" stroke="#2a2a2a" stroke-width="1.3" stroke-linejoin="round"/>
<line x1="1367.00" y1="2099.30" x2="1390.50" y2="2099.30" stroke="#6a6b6e" stroke-width="2.6" />
<line x1="1422.00" y1="2099.50" x2="1446.00" y2="2099.50" stroke="#8d8d8f" stroke-width="2.4" />
<circle cx="1371.3" cy="1979" r="1.3" fill="#8a8a8a"/>
<circle cx="1389.4" cy="1979.5" r="1.3" fill="#8a8a8a"/>
<circle cx="1372.4" cy="1989" r="1.3" fill="#8a8a8a"/>
<circle cx="1380.8" cy="1996.5" r="1.3" fill="#8a8a8a"/>
<circle cx="1388.7" cy="1995.4" r="1.3" fill="#8a8a8a"/>
<circle cx="1373.4" cy="2001.5" r="1.3" fill="#8a8a8a"/>
<circle cx="1368.2" cy="2008.6" r="1.3" fill="#8a8a8a"/>
<circle cx="1374.4" cy="2013.2" r="1.3" fill="#8a8a8a"/>
<circle cx="1378.1" cy="2017.2" r="1.3" fill="#8a8a8a"/>
<circle cx="1387.2" cy="2012.7" r="1.3" fill="#8a8a8a"/>
<circle cx="1386.7" cy="2020.3" r="1.3" fill="#8a8a8a"/>
<circle cx="1386.2" cy="2027" r="1.3" fill="#8a8a8a"/>
<circle cx="1371.6" cy="2033.8" r="1.3" fill="#8a8a8a"/>
<circle cx="1372" cy="2051.6" r="1.3" fill="#8a8a8a"/>
<circle cx="1440.3" cy="1992.8" r="1.3" fill="#8a8a8a"/>
<circle cx="1443.9" cy="1998.5" r="1.3" fill="#8a8a8a"/>
<circle cx="1436.7" cy="2018.9" r="1.3" fill="#8a8a8a"/>
<circle cx="1442.7" cy="2024.6" r="1.3" fill="#8a8a8a"/>
<circle cx="1427.1" cy="2027" r="1.3" fill="#8a8a8a"/>
<circle cx="1436.7" cy="2027.7" r="1.3" fill="#8a8a8a"/>
<circle cx="1443.6" cy="2029.8" r="1.3" fill="#8a8a8a"/>
<circle cx="1428.9" cy="2033.8" r="1.3" fill="#8a8a8a"/>
<circle cx="1442.7" cy="2040.9" r="1.3" fill="#8a8a8a"/>
<circle cx="1429.6" cy="1821.6" r="1.3" fill="#8a8a8a"/>
<path d="M1346.6 1766.4H1466.3M1346.6 1813.8H1466.3M1346.6 1861.5H1466.3M1346.6 1909.1H1466.3M1346.6 1957.3H1466.3M1346.6 2004.9H1466.3M1346.6 2052.3H1466.3M1378.7 1740.4V2102.3M1433.9 1740.4V2102.3" stroke="#000" stroke-opacity="0.13" stroke-width="1.7" fill="none"/>
<path d="M1378.70,2089.50 L1383.50,2094.30 L1378.70,2099.10 L1373.90,2094.30 Z" fill="#c0473f" stroke="#3a1a1a" stroke-width="1"/>
<path d="M1433.90,2072.10 L1438.70,2076.90 L1433.90,2081.70 L1429.10,2076.90 Z" fill="#c0473f" stroke="#3a1a1a" stroke-width="1"/>
<rect x="1346.60" y="1740.40" width="119.70" height="361.90" fill="none" stroke="#111" stroke-width="2.0" />
<text transform="translate(1403.94,1757.00) scale(1.0165,1)" font-size="18.80" fill="#6d6d6d"><tspan>0.0275</tspan></text>
<text transform="translate(1325.24,1919.22)" font-size="21.00" fill="#1a1a1a"><tspan>1</tspan></text>
<text transform="translate(1327.03,2111.02)" font-size="21.00" fill="#1a1a1a"><tspan>0</tspan></text>
<text transform="translate(1313.60,2011.98) rotate(-90)" font-size="21.40" fill="#1a1a1a"><tspan>CXCL3 expression</tspan></text>
<text transform="translate(1389.10,2146.53) rotate(-90)" font-size="21.70" fill="#1a1a1a"><tspan>NT</tspan></text>
<text transform="translate(1442.60,2221.42) rotate(-90)" font-size="21.70" fill="#1a1a1a"><tspan font-style="italic">HOTAIRM1</tspan></text>
</svg></body></html>
